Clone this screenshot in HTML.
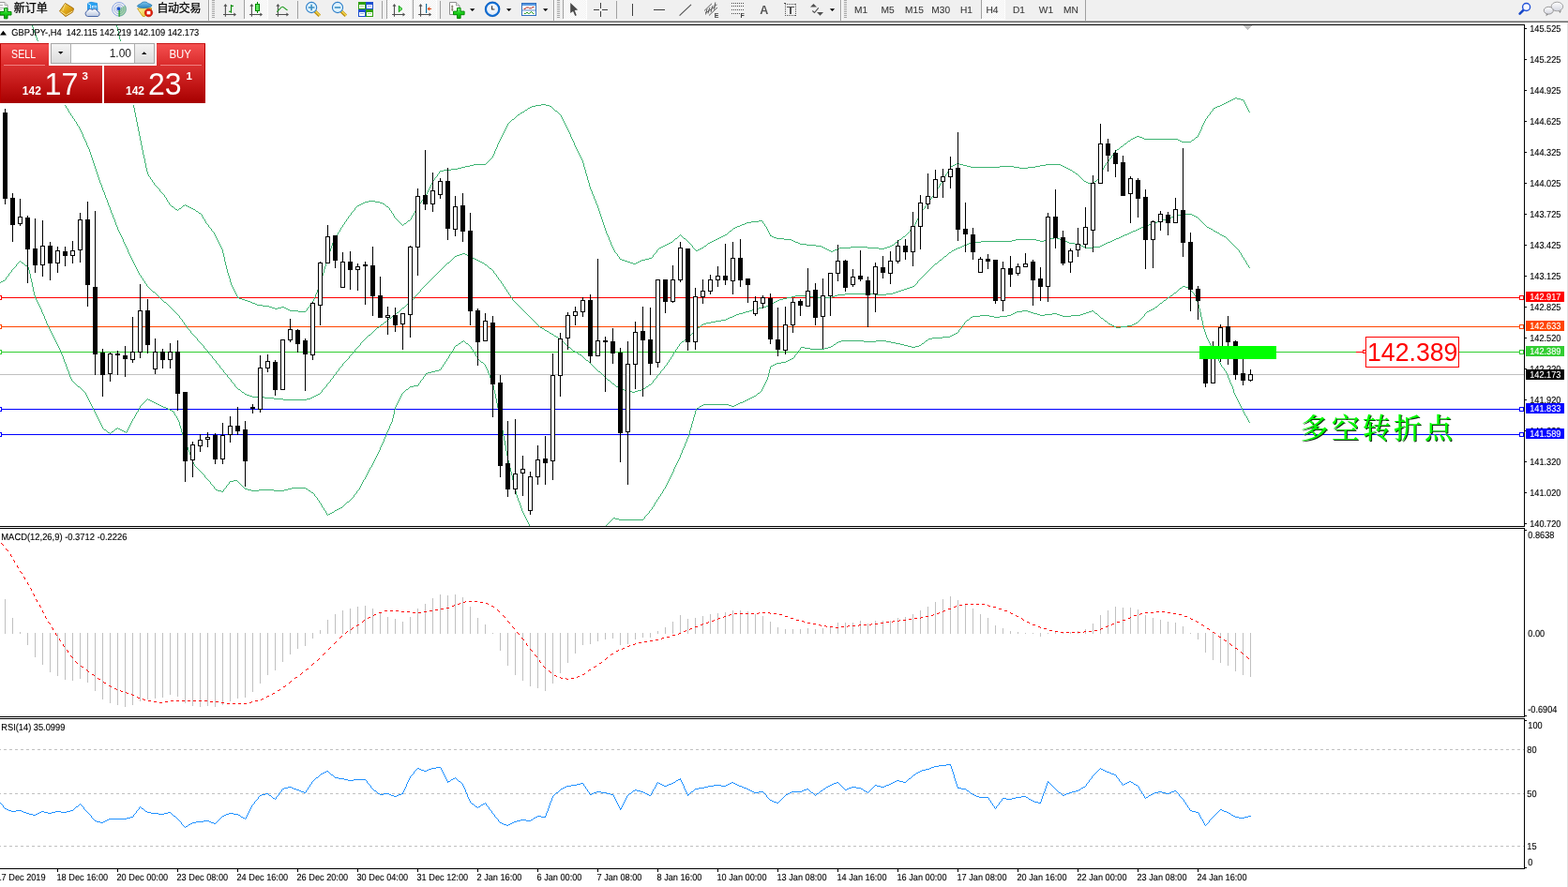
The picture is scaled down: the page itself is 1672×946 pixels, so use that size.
<!DOCTYPE html>
<html lang="zh-CN">
<head>
<meta charset="utf-8">
<title>GBPJPY-,H4</title>
<style>
html,body{margin:0;padding:0;background:#fff;overflow:hidden}
body{width:1672px;height:946px;font-family:"Liberation Sans","Noto Sans CJK SC",sans-serif}
svg{display:block;position:absolute;left:0;top:0}
svg text{font-family:"Liberation Sans","Noto Sans CJK SC",sans-serif}
</style>
</head>
<body>
<svg width="1672" height="946" viewBox="0 0 1672 946">
<defs>
<clipPath id="cmain"><rect x="0" y="27" width="1625" height="534"/></clipPath>
<clipPath id="cmacd"><rect x="0" y="564" width="1625" height="200"/></clipPath>
<clipPath id="crsi"><rect x="0" y="767" width="1625" height="159"/></clipPath>
</defs>
<rect x="0" y="0" width="1672" height="946" fill="#fff"/>
<g clip-path="url(#cmain)">
<g shape-rendering="crispEdges">
<rect x="0" y="399" width="1625" height="1" fill="#c0c0c0"/>
<rect x="0" y="317" width="1625" height="1" fill="#ff0000"/>
<rect x="-2.5" y="315.5" width="4" height="4" fill="#fff" stroke="#ff0000" stroke-width="1"/>
<rect x="1620.5" y="315.5" width="4" height="4" fill="#fff" stroke="#ff0000" stroke-width="1"/>
<rect x="0" y="348" width="1625" height="1" fill="#ff4500"/>
<rect x="-2.5" y="346.5" width="4" height="4" fill="#fff" stroke="#ff4500" stroke-width="1"/>
<rect x="1620.5" y="346.5" width="4" height="4" fill="#fff" stroke="#ff4500" stroke-width="1"/>
<rect x="0" y="375" width="1625" height="1" fill="#32cd32"/>
<rect x="-2.5" y="373.5" width="4" height="4" fill="#fff" stroke="#32cd32" stroke-width="1"/>
<rect x="1620.5" y="373.5" width="4" height="4" fill="#fff" stroke="#32cd32" stroke-width="1"/>
<rect x="0" y="436" width="1625" height="1" fill="#0000ff"/>
<rect x="-2.5" y="434.5" width="4" height="4" fill="#fff" stroke="#0000ff" stroke-width="1"/>
<rect x="1620.5" y="434.5" width="4" height="4" fill="#fff" stroke="#0000ff" stroke-width="1"/>
<rect x="0" y="463" width="1625" height="1" fill="#0000ff"/>
<rect x="-2.5" y="461.5" width="4" height="4" fill="#fff" stroke="#0000ff" stroke-width="1"/>
<rect x="1620.5" y="461.5" width="4" height="4" fill="#fff" stroke="#0000ff" stroke-width="1"/>
</g>
<path d="M124 27h1v2h-1zM125 29h1v4h-1zM126 33h1v5h-1zM127 38h1v4h-1zM128 42h1v5h-1zM129 47h1v5h-1zM130 52h1v5h-1zM131 57h1v4h-1zM132 61h1v5h-1zM133 66h1v5h-1zM134 71h1v5h-1zM135 76h1v5h-1zM136 81h1v5h-1zM137 86h1v5h-1zM138 91h1v4h-1zM139 95h1v5h-1zM140 100h1v5h-1zM141 105h1v5h-1zM142 110h1v5h-1zM143 115h1v5h-1zM144 120h1v5h-1zM145 125h1v5h-1zM146 130h1v5h-1zM147 135h1v5h-1zM148 140h1v5h-1zM149 145h1v5h-1zM150 150h1v5h-1zM151 155h1v5h-1zM152 160h1v5h-1zM153 165h1v4h-1zM154 169h1v5h-1zM155 174h1v5h-1zM156 179h1v4h-1zM157 183h1v3h-1zM158 186h1v2h-1zM159 188h1v1h-1zM160 189h1v2h-1zM161 191h1v1h-1zM162 192h1v2h-1zM163 194h1v1h-1zM164 195h1v2h-1zM165 197h1v1h-1zM166 198h1v1h-1zM167 199h1v1h-1zM168 200h1v1h-1zM169 201h1v1h-1zM170 202h1v2h-1zM171 204h1v1h-1zM172 205h1v1h-1zM173 206h1v1h-1zM174 207h1v1h-1zM175 208h1v2h-1zM176 210h1v1h-1zM177 211h1v2h-1zM178 213h1v2h-1zM179 215h1v1h-1zM180 216h1v2h-1zM181 218h1v1h-1zM182 219h1v1h-1zM183 220h2v1h-2zM185 221h1v1h-1zM186 222h1v1h-1zM187 223h2v1h-2zM189 224h1v1h-1zM190 223h1v1h-1zM191 222h2v1h-2zM193 221h1v1h-1zM194 220h1v1h-1zM195 219h2v1h-2zM197 218h1v1h-1zM198 219h2v1h-2zM200 220h2v1h-2zM202 221h2v1h-2zM204 222h2v1h-2zM206 223h2v1h-2zM208 224h1v1h-1zM209 225h2v1h-2zM211 226h1v1h-1zM212 227h2v1h-2zM214 228h1v1h-1zM215 229h1v2h-1zM216 231h1v2h-1zM217 233h1v1h-1zM218 234h1v2h-1zM219 236h1v2h-1zM220 238h1v1h-1zM221 239h1v1h-1zM222 240h1v2h-1zM223 242h1v1h-1zM224 243h1v1h-1zM225 244h1v2h-1zM226 246h1v1h-1zM227 247h1v1h-1zM228 248h1v2h-1zM229 250h1v2h-1zM230 252h1v2h-1zM231 254h1v2h-1zM232 256h1v2h-1zM233 258h1v2h-1zM234 260h1v2h-1zM235 262h1v2h-1zM236 264h1v2h-1zM237 266h1v4h-1zM238 270h1v4h-1zM239 274h1v5h-1zM240 279h1v4h-1zM241 283h1v4h-1zM242 287h1v4h-1zM243 291h1v3h-1zM244 294h1v3h-1zM245 297h1v4h-1zM246 301h1v3h-1zM247 304h1v2h-1zM248 306h1v2h-1zM249 308h1v2h-1zM250 310h1v2h-1zM251 312h1v2h-1zM252 314h1v2h-1zM253 316h1v2h-1zM254 317h1v1h-1zM255 318h3v1h-3zM258 319h3v1h-3zM261 320h3v1h-3zM264 321h3v1h-3zM267 322h2v1h-2zM269 323h3v1h-3zM272 324h2v1h-2zM274 325h6v1h-6zM280 326h7v1h-7zM287 327h3v1h-3zM290 328h3v1h-3zM293 329h3v1h-3zM296 328h4v1h-4zM300 327h3v1h-3zM303 328h2v1h-2zM305 329h2v1h-2zM307 330h2v1h-2zM309 331h9v1h-9zM318 332h8v1h-8zM326 331h1v1h-1zM327 329h1v2h-1zM328 328h1v1h-1zM329 327h1v1h-1zM330 325h1v2h-1zM331 324h1v1h-1zM332 323h1v1h-1zM333 321h1v2h-1zM334 319h1v2h-1zM335 317h1v2h-1zM336 314h1v3h-1zM337 312h1v2h-1zM338 309h1v3h-1zM339 307h1v2h-1zM340 304h1v3h-1zM341 301h1v3h-1zM342 297h1v4h-1zM343 294h1v3h-1zM344 291h1v3h-1zM345 287h1v4h-1zM346 284h1v3h-1zM347 281h1v3h-1zM348 278h1v3h-1zM349 275h1v3h-1zM350 272h1v3h-1zM351 268h1v4h-1zM352 265h1v3h-1zM353 262h1v3h-1zM354 259h1v3h-1zM355 257h1v2h-1zM356 255h1v2h-1zM357 253h1v2h-1zM358 252h1v1h-1zM359 250h1v2h-1zM360 248h1v2h-1zM361 247h1v1h-1zM362 245h1v2h-1zM363 243h1v2h-1zM364 242h1v1h-1zM365 240h1v2h-1zM366 239h1v1h-1zM367 237h1v2h-1zM368 236h1v1h-1zM369 234h1v2h-1zM370 233h1v1h-1zM371 231h1v2h-1zM372 230h1v1h-1zM373 229h1v1h-1zM374 227h1v2h-1zM375 226h1v1h-1zM376 225h1v1h-1zM377 224h1v1h-1zM378 222h1v2h-1zM379 221h1v1h-1zM380 220h1v1h-1zM381 219h2v1h-2zM383 218h2v1h-2zM385 217h2v1h-2zM387 216h2v1h-2zM389 215h4v1h-4zM393 214h7v1h-7zM400 215h5v1h-5zM405 216h3v1h-3zM408 217h2v1h-2zM410 218h1v1h-1zM411 219h1v1h-1zM412 220h2v1h-2zM414 221h1v1h-1zM415 222h1v2h-1zM416 224h1v1h-1zM417 225h1v2h-1zM418 227h1v1h-1zM419 228h1v2h-1zM420 230h1v2h-1zM421 232h1v1h-1zM422 233h1v1h-1zM423 234h1v1h-1zM424 235h1v1h-1zM425 236h1v1h-1zM426 237h1v1h-1zM427 238h1v1h-1zM428 239h1v1h-1zM429 240h1v1h-1zM430 239h1v1h-1zM431 238h2v1h-2zM433 237h1v1h-1zM434 236h1v1h-1zM435 235h2v1h-2zM437 234h1v1h-1zM438 232h1v2h-1zM439 230h1v2h-1zM440 229h1v1h-1zM441 227h1v2h-1zM442 225h1v2h-1zM443 223h1v2h-1zM444 222h1v1h-1zM445 220h1v2h-1zM446 219h1v1h-1zM447 217h1v2h-1zM448 216h1v1h-1zM449 214h1v2h-1zM450 213h1v1h-1zM451 211h1v2h-1zM452 210h1v1h-1zM453 208h1v2h-1zM454 207h1v1h-1zM455 205h1v2h-1zM456 203h1v2h-1zM457 201h1v2h-1zM458 199h1v2h-1zM459 197h1v2h-1zM460 195h1v2h-1zM461 193h1v2h-1zM462 192h1v1h-1zM463 190h1v2h-1zM464 189h1v1h-1zM465 188h1v1h-1zM466 186h1v2h-1zM467 185h1v1h-1zM468 183h1v2h-1zM469 182h4v1h-4zM473 181h8v1h-8zM481 180h7v1h-7zM488 179h4v1h-4zM492 178h4v1h-4zM496 177h5v1h-5zM501 176h4v1h-4zM505 175h13v1h-13zM518 174h1v1h-1zM519 173h1v1h-1zM520 172h1v1h-1zM521 171h1v1h-1zM522 170h1v1h-1zM523 169h1v1h-1zM524 168h1v1h-1zM525 166h1v2h-1zM526 164h1v2h-1zM527 161h1v3h-1zM528 159h1v2h-1zM529 157h1v2h-1zM530 154h1v3h-1zM531 152h1v2h-1zM532 150h1v2h-1zM533 148h1v2h-1zM534 146h1v2h-1zM535 144h1v2h-1zM536 142h1v2h-1zM537 140h1v2h-1zM538 138h1v2h-1zM539 136h1v2h-1zM540 134h1v2h-1zM541 132h1v2h-1zM542 131h1v1h-1zM543 130h1v1h-1zM544 129h1v1h-1zM545 128h1v1h-1zM546 127h2v1h-2zM548 126h1v1h-1zM549 125h1v1h-1zM550 124h1v1h-1zM551 123h1v1h-1zM552 122h2v1h-2zM554 121h1v1h-1zM555 120h2v1h-2zM557 119h2v1h-2zM559 118h1v1h-1zM560 117h2v1h-2zM562 116h1v1h-1zM563 115h2v1h-2zM565 114h2v1h-2zM567 113h4v1h-4zM571 112h6v1h-6zM577 111h5v1h-5zM582 112h4v1h-4zM586 113h2v1h-2zM588 114h1v1h-1zM589 115h1v1h-1zM590 116h1v1h-1zM591 117h1v1h-1zM592 118h2v1h-2zM594 119h1v1h-1zM595 120h1v1h-1zM596 121h1v1h-1zM597 122h1v1h-1zM598 123h1v2h-1zM599 125h1v2h-1zM600 127h1v2h-1zM601 129h1v2h-1zM602 131h1v2h-1zM603 133h1v2h-1zM604 135h1v2h-1zM605 137h1v2h-1zM606 139h1v2h-1zM607 141h1v2h-1zM608 143h1v3h-1zM609 146h1v2h-1zM610 148h1v2h-1zM611 150h1v2h-1zM612 152h1v3h-1zM613 155h1v2h-1zM614 157h1v2h-1zM615 159h1v2h-1zM616 161h1v2h-1zM617 163h1v2h-1zM618 165h1v2h-1zM619 167h1v2h-1zM620 169h1v2h-1zM621 171h1v3h-1zM622 174h1v4h-1zM623 178h1v3h-1zM624 181h1v4h-1zM625 185h1v3h-1zM626 188h1v4h-1zM627 192h1v3h-1zM628 195h1v4h-1zM629 199h1v3h-1zM630 202h1v2h-1zM631 204h1v3h-1zM632 207h1v2h-1zM633 209h1v3h-1zM634 212h1v2h-1zM635 214h1v3h-1zM636 217h1v2h-1zM637 219h1v3h-1zM638 222h1v3h-1zM639 225h1v3h-1zM640 228h1v3h-1zM641 231h1v3h-1zM642 234h1v3h-1zM643 237h1v3h-1zM644 240h1v3h-1zM645 243h1v3h-1zM646 246h1v3h-1zM647 249h1v2h-1zM648 251h1v2h-1zM649 253h1v3h-1zM650 256h1v2h-1zM651 258h1v3h-1zM652 261h1v2h-1zM653 263h1v2h-1zM654 265h1v2h-1zM655 267h1v2h-1zM656 269h1v1h-1zM657 270h1v1h-1zM658 271h1v2h-1zM659 273h1v1h-1zM660 274h1v2h-1zM661 276h2v1h-2zM663 277h3v1h-3zM666 278h3v1h-3zM669 279h3v1h-3zM672 280h3v1h-3zM675 281h3v1h-3zM678 280h2v1h-2zM680 279h2v1h-2zM682 278h2v1h-2zM684 277h4v1h-4zM688 276h4v1h-4zM692 275h3v1h-3zM695 274h1v1h-1zM696 272h1v2h-1zM697 271h1v1h-1zM698 270h1v1h-1zM699 269h1v1h-1zM700 267h1v2h-1zM701 266h1v1h-1zM702 265h1v1h-1zM703 264h2v1h-2zM705 263h2v1h-2zM707 262h2v1h-2zM709 261h2v1h-2zM711 260h2v1h-2zM713 259h2v1h-2zM715 258h2v1h-2zM717 257h1v1h-1zM718 256h1v1h-1zM719 255h1v1h-1zM720 254h2v1h-2zM722 253h1v1h-1zM723 252h1v1h-1zM724 251h1v1h-1zM725 250h1v1h-1zM726 251h1v1h-1zM727 252h1v1h-1zM728 253h1v1h-1zM729 254h2v1h-2zM731 255h1v1h-1zM732 256h1v1h-1zM733 257h1v1h-1zM734 258h1v1h-1zM735 259h1v1h-1zM736 260h1v1h-1zM737 261h1v1h-1zM738 262h1v2h-1zM739 264h1v1h-1zM740 265h1v1h-1zM741 266h1v1h-1zM742 267h2v1h-2zM744 266h2v1h-2zM746 265h2v1h-2zM748 264h2v1h-2zM750 263h1v1h-1zM751 262h2v1h-2zM753 261h1v1h-1zM754 260h1v1h-1zM755 259h2v1h-2zM757 258h2v1h-2zM759 257h2v1h-2zM761 256h2v1h-2zM763 255h2v1h-2zM765 254h2v1h-2zM767 253h2v1h-2zM769 252h2v1h-2zM771 251h2v1h-2zM773 250h2v1h-2zM775 249h1v1h-1zM776 248h1v1h-1zM777 247h1v1h-1zM778 246h2v1h-2zM780 245h1v1h-1zM781 244h1v1h-1zM782 243h2v1h-2zM784 242h2v1h-2zM786 241h3v1h-3zM789 240h2v1h-2zM791 239h3v1h-3zM794 238h2v1h-2zM796 237h5v1h-5zM801 236h8v1h-8zM809 235h4v1h-4zM813 236h1v2h-1zM814 238h1v1h-1zM815 239h1v2h-1zM816 241h1v1h-1zM817 242h1v2h-1zM818 244h1v2h-1zM819 246h1v2h-1zM820 248h1v2h-1zM821 250h1v2h-1zM822 251h1v1h-1zM823 252h2v1h-2zM825 253h3v1h-3zM828 254h8v1h-8zM836 255h8v1h-8zM844 256h2v1h-2zM846 257h2v1h-2zM848 258h3v1h-3zM851 259h2v1h-2zM853 260h7v1h-7zM860 261h10v1h-10zM870 262h6v1h-6zM876 263h2v1h-2zM878 264h2v1h-2zM880 265h2v1h-2zM882 266h2v1h-2zM884 267h2v1h-2zM886 268h2v1h-2zM888 267h2v1h-2zM890 266h3v1h-3zM893 265h2v1h-2zM895 264h12v1h-12zM907 263h18v1h-18zM925 264h12v1h-12zM937 265h6v1h-6zM943 264h3v1h-3zM946 263h3v1h-3zM949 262h2v1h-2zM951 261h2v1h-2zM953 260h1v1h-1zM954 259h1v1h-1zM955 258h2v1h-2zM957 257h1v1h-1zM958 256h1v1h-1zM959 255h2v1h-2zM961 254h1v1h-1zM962 253h1v1h-1zM963 252h2v1h-2zM965 251h1v1h-1zM966 250h1v1h-1zM967 249h1v1h-1zM968 248h1v1h-1zM969 247h1v1h-1zM970 245h1v2h-1zM971 244h1v1h-1zM972 243h1v1h-1zM973 242h1v1h-1zM974 241h1v1h-1zM975 239h1v2h-1zM976 237h1v2h-1zM977 235h1v2h-1zM978 233h1v2h-1zM979 231h1v2h-1zM980 229h1v2h-1zM981 227h1v2h-1zM982 226h1v1h-1zM983 224h1v2h-1zM984 223h1v1h-1zM985 222h1v1h-1zM986 220h1v2h-1zM987 219h1v1h-1zM988 218h1v1h-1zM989 216h1v2h-1zM990 215h1v1h-1zM991 213h1v2h-1zM992 212h1v1h-1zM993 210h1v2h-1zM994 209h1v1h-1zM995 207h1v2h-1zM996 206h1v1h-1zM997 204h1v2h-1zM998 203h1v1h-1zM999 201h1v2h-1zM1000 200h1v1h-1zM1001 198h1v2h-1zM1002 196h1v2h-1zM1003 195h1v1h-1zM1004 193h1v2h-1zM1005 191h1v2h-1zM1006 190h1v1h-1zM1007 188h1v2h-1zM1008 186h1v2h-1zM1009 185h1v1h-1zM1010 183h1v2h-1zM1011 182h1v1h-1zM1012 180h1v2h-1zM1013 178h1v2h-1zM1014 177h2v1h-2zM1016 176h2v1h-2zM1018 175h2v1h-2zM1020 174h3v1h-3zM1023 175h4v1h-4zM1027 176h4v1h-4zM1031 177h4v1h-4zM1035 178h31v1h-31zM1066 177h15v1h-15zM1081 178h6v1h-6zM1087 179h9v1h-9zM1096 178h8v1h-8zM1104 177h5v1h-5zM1109 176h6v1h-6zM1115 175h16v1h-16zM1131 176h2v1h-2zM1133 177h2v1h-2zM1135 178h2v1h-2zM1137 179h2v1h-2zM1139 180h2v1h-2zM1141 181h2v1h-2zM1143 182h1v1h-1zM1144 183h2v1h-2zM1146 184h1v1h-1zM1147 185h2v1h-2zM1149 186h1v1h-1zM1150 187h1v1h-1zM1151 188h1v1h-1zM1152 189h1v1h-1zM1153 190h1v1h-1zM1154 191h1v1h-1zM1155 192h1v1h-1zM1156 193h2v1h-2zM1158 194h2v1h-2zM1160 195h3v1h-3zM1163 196h2v1h-2zM1165 195h1v1h-1zM1166 194h1v1h-1zM1167 193h2v1h-2zM1169 192h1v1h-1zM1170 191h1v1h-1zM1171 189h1v2h-1zM1172 187h1v2h-1zM1173 185h1v2h-1zM1174 183h1v2h-1zM1175 181h1v2h-1zM1176 179h1v2h-1zM1177 177h1v2h-1zM1178 176h1v1h-1zM1179 174h1v2h-1zM1180 173h1v1h-1zM1181 172h1v1h-1zM1182 170h1v2h-1zM1183 169h1v1h-1zM1184 168h1v1h-1zM1185 166h1v2h-1zM1186 165h1v1h-1zM1187 164h1v1h-1zM1188 162h1v2h-1zM1189 161h1v1h-1zM1190 160h1v1h-1zM1191 159h2v1h-2zM1193 158h1v1h-1zM1194 157h1v1h-1zM1195 156h2v1h-2zM1197 155h1v1h-1zM1198 154h1v1h-1zM1199 153h2v1h-2zM1201 152h1v1h-1zM1202 151h1v1h-1zM1203 150h2v1h-2zM1205 149h1v1h-1zM1206 148h2v1h-2zM1208 147h2v1h-2zM1210 146h2v1h-2zM1212 145h3v1h-3zM1215 146h3v1h-3zM1218 147h2v1h-2zM1220 148h36v1h-36zM1256 149h2v1h-2zM1258 150h2v1h-2zM1260 151h10v1h-10zM1270 150h1v1h-1zM1271 149h2v1h-2zM1273 148h1v1h-1zM1274 147h1v1h-1zM1275 146h2v1h-2zM1277 144h1v2h-1zM1278 142h1v2h-1zM1279 140h1v2h-1zM1280 138h1v2h-1zM1281 135h1v3h-1zM1282 133h1v2h-1zM1283 131h1v2h-1zM1284 129h1v2h-1zM1285 127h1v2h-1zM1286 126h1v1h-1zM1287 124h1v2h-1zM1288 123h1v1h-1zM1289 122h1v1h-1zM1290 120h1v2h-1zM1291 119h1v1h-1zM1292 118h1v1h-1zM1293 116h1v2h-1zM1294 115h2v1h-2zM1296 114h2v1h-2zM1298 113h3v1h-3zM1301 112h2v1h-2zM1303 111h2v1h-2zM1305 110h2v1h-2zM1307 109h2v1h-2zM1309 108h2v1h-2zM1311 107h2v1h-2zM1313 106h2v1h-2zM1315 105h2v1h-2zM1317 104h2v1h-2zM1319 105h4v1h-4zM1323 106h3v1h-3zM1326 107h1v2h-1zM1327 109h1v2h-1zM1328 111h1v2h-1zM1329 113h1v2h-1zM1330 115h1v2h-1zM1331 117h1v2h-1zM1332 119h1v1h-1z" fill="#3cb371" shape-rendering="crispEdges"/>
<path d="M34 27h1v2h-1zM35 29h1v3h-1zM36 32h1v3h-1zM37 35h1v2h-1zM38 37h1v3h-1zM39 40h1v3h-1zM40 43h1v3h-1zM41 46h1v2h-1zM42 48h1v2h-1zM43 50h1v3h-1zM44 53h1v2h-1zM45 55h1v2h-1zM46 57h1v3h-1zM47 60h1v2h-1zM48 62h1v2h-1zM49 64h1v3h-1zM50 67h1v2h-1zM51 69h1v2h-1zM52 71h1v3h-1zM53 74h1v2h-1zM54 76h1v2h-1zM55 78h1v3h-1zM56 81h1v2h-1zM57 83h1v3h-1zM58 86h1v2h-1zM59 88h1v2h-1zM60 90h1v3h-1zM61 93h1v2h-1zM62 95h1v2h-1zM63 97h1v3h-1zM64 100h1v2h-1zM65 102h1v2h-1zM66 104h1v3h-1zM67 107h1v2h-1zM68 109h1v2h-1zM69 111h1v2h-1zM70 113h1v2h-1zM71 115h1v1h-1zM72 116h1v2h-1zM73 118h1v2h-1zM74 120h1v1h-1zM75 121h1v2h-1zM76 123h1v1h-1zM77 124h1v2h-1zM78 126h1v1h-1zM79 127h1v2h-1zM80 129h1v1h-1zM81 130h1v2h-1zM82 132h1v2h-1zM83 134h1v1h-1zM84 135h1v2h-1zM85 137h1v2h-1zM86 139h1v2h-1zM87 141h1v2h-1zM88 143h1v3h-1zM89 146h1v2h-1zM90 148h1v2h-1zM91 150h1v2h-1zM92 152h1v3h-1zM93 155h1v2h-1zM94 157h1v2h-1zM95 159h1v3h-1zM96 162h1v3h-1zM97 165h1v3h-1zM98 168h1v3h-1zM99 171h1v3h-1zM100 174h1v3h-1zM101 177h1v3h-1zM102 180h1v3h-1zM103 183h1v3h-1zM104 186h1v3h-1zM105 189h1v3h-1zM106 192h1v3h-1zM107 195h1v2h-1zM108 197h1v3h-1zM109 200h1v3h-1zM110 203h1v2h-1zM111 205h1v3h-1zM112 208h1v3h-1zM113 211h1v2h-1zM114 213h1v3h-1zM115 216h1v3h-1zM116 219h1v2h-1zM117 221h1v3h-1zM118 224h1v3h-1zM119 227h1v2h-1zM120 229h1v3h-1zM121 232h1v2h-1zM122 234h1v3h-1zM123 237h1v3h-1zM124 240h1v2h-1zM125 242h1v3h-1zM126 245h1v2h-1zM127 247h1v2h-1zM128 249h1v2h-1zM129 251h1v2h-1zM130 253h1v2h-1zM131 255h1v3h-1zM132 258h1v2h-1zM133 260h1v2h-1zM134 262h1v2h-1zM135 264h1v2h-1zM136 266h1v3h-1zM137 269h1v2h-1zM138 271h1v2h-1zM139 273h1v2h-1zM140 275h1v2h-1zM141 277h1v2h-1zM142 279h1v2h-1zM143 281h1v2h-1zM144 283h1v2h-1zM145 285h1v2h-1zM146 287h1v2h-1zM147 289h1v2h-1zM148 291h1v2h-1zM149 293h1v1h-1zM150 294h1v2h-1zM151 296h1v1h-1zM152 297h1v2h-1zM153 299h1v1h-1zM154 300h1v2h-1zM155 302h1v1h-1zM156 303h1v2h-1zM157 305h1v1h-1zM158 306h1v1h-1zM159 307h1v1h-1zM160 308h1v1h-1zM161 309h1v1h-1zM162 310h1v1h-1zM163 311h2v1h-2zM165 312h1v1h-1zM166 313h1v1h-1zM167 314h1v1h-1zM168 315h1v1h-1zM169 316h1v1h-1zM170 317h1v1h-1zM171 318h1v1h-1zM172 319h1v1h-1zM173 320h1v1h-1zM174 321h1v1h-1zM175 322h2v1h-2zM177 323h1v1h-1zM178 324h1v1h-1zM179 325h1v1h-1zM180 326h1v1h-1zM181 327h1v1h-1zM182 328h1v1h-1zM183 329h1v1h-1zM184 330h1v1h-1zM185 331h1v1h-1zM186 332h1v1h-1zM187 333h1v1h-1zM188 334h1v1h-1zM189 335h1v1h-1zM190 336h1v1h-1zM191 337h1v2h-1zM192 339h1v1h-1zM193 340h1v1h-1zM194 341h1v2h-1zM195 343h1v1h-1zM196 344h1v2h-1zM197 346h1v1h-1zM198 347h1v1h-1zM199 348h1v2h-1zM200 350h1v1h-1zM201 351h1v1h-1zM202 352h1v1h-1zM203 353h1v2h-1zM204 355h1v1h-1zM205 356h1v1h-1zM206 357h1v1h-1zM207 358h1v1h-1zM208 359h1v1h-1zM209 360h1v1h-1zM210 361h1v2h-1zM211 363h1v1h-1zM212 364h1v1h-1zM213 365h1v1h-1zM214 366h1v1h-1zM215 367h1v1h-1zM216 368h1v1h-1zM217 369h1v2h-1zM218 371h1v1h-1zM219 372h1v1h-1zM220 373h1v1h-1zM221 374h1v1h-1zM222 375h1v2h-1zM223 377h1v1h-1zM224 378h1v1h-1zM225 379h1v1h-1zM226 380h1v2h-1zM227 382h1v1h-1zM228 383h1v1h-1zM229 384h1v1h-1zM230 385h1v2h-1zM231 387h1v1h-1zM232 388h1v1h-1zM233 389h1v1h-1zM234 390h1v2h-1zM235 392h1v1h-1zM236 393h1v1h-1zM237 394h1v1h-1zM238 395h1v2h-1zM239 397h1v1h-1zM240 398h1v1h-1zM241 399h1v1h-1zM242 400h1v2h-1zM243 402h1v1h-1zM244 403h1v1h-1zM245 404h1v1h-1zM246 405h1v2h-1zM247 407h1v1h-1zM248 408h1v1h-1zM249 409h1v1h-1zM250 410h1v2h-1zM251 412h1v1h-1zM252 413h1v1h-1zM253 414h1v1h-1zM254 415h2v1h-2zM256 416h1v1h-1zM257 417h1v1h-1zM258 418h2v1h-2zM260 419h1v1h-1zM261 420h2v1h-2zM263 421h3v1h-3zM266 422h3v1h-3zM269 423h13v1h-13zM282 424h10v1h-10zM292 425h10v1h-10zM302 426h25v1h-25zM327 425h4v1h-4zM331 424h2v1h-2zM333 423h2v1h-2zM335 422h2v1h-2zM337 421h2v1h-2zM339 420h2v1h-2zM341 419h1v1h-1zM342 418h1v1h-1zM343 416h1v2h-1zM344 415h1v1h-1zM345 414h1v1h-1zM346 413h1v1h-1zM347 412h1v1h-1zM348 410h1v2h-1zM349 409h1v1h-1zM350 408h1v1h-1zM351 407h1v1h-1zM352 405h1v2h-1zM353 404h1v1h-1zM354 403h1v1h-1zM355 401h1v2h-1zM356 400h1v1h-1zM357 399h1v1h-1zM358 397h1v2h-1zM359 396h1v1h-1zM360 395h1v1h-1zM361 393h1v2h-1zM362 392h1v1h-1zM363 391h1v1h-1zM364 390h1v1h-1zM365 388h1v2h-1zM366 387h1v1h-1zM367 386h1v1h-1zM368 385h1v1h-1zM369 384h1v1h-1zM370 383h1v1h-1zM371 382h1v1h-1zM372 380h1v2h-1zM373 379h1v1h-1zM374 378h1v1h-1zM375 377h1v1h-1zM376 376h1v1h-1zM377 375h1v1h-1zM378 373h1v2h-1zM379 372h1v1h-1zM380 371h1v1h-1zM381 370h1v1h-1zM382 369h1v1h-1zM383 368h1v1h-1zM384 366h1v2h-1zM385 365h1v1h-1zM386 364h1v1h-1zM387 363h1v1h-1zM388 362h1v1h-1zM389 361h1v1h-1zM390 360h1v1h-1zM391 359h1v1h-1zM392 358h1v1h-1zM393 357h2v1h-2zM395 356h1v1h-1zM396 355h1v1h-1zM397 354h1v1h-1zM398 353h1v1h-1zM399 352h1v1h-1zM400 351h1v1h-1zM401 350h1v1h-1zM402 349h2v1h-2zM404 348h1v1h-1zM405 347h1v1h-1zM406 346h2v1h-2zM408 345h1v1h-1zM409 344h1v1h-1zM410 343h2v1h-2zM412 342h1v1h-1zM413 341h1v1h-1zM414 340h1v1h-1zM415 339h2v1h-2zM417 338h1v1h-1zM418 337h1v1h-1zM419 336h2v1h-2zM421 335h1v1h-1zM422 334h1v1h-1zM423 333h2v1h-2zM425 332h1v1h-1zM426 331h1v1h-1zM427 330h1v1h-1zM428 329h1v1h-1zM429 328h2v1h-2zM431 327h1v1h-1zM432 326h1v1h-1zM433 325h1v1h-1zM434 324h2v1h-2zM436 323h1v1h-1zM437 322h1v1h-1zM438 321h1v1h-1zM439 320h1v1h-1zM440 319h1v1h-1zM441 317h1v2h-1zM442 316h1v1h-1zM443 315h1v1h-1zM444 314h1v1h-1zM445 313h1v1h-1zM446 312h1v1h-1zM447 311h1v1h-1zM448 309h1v2h-1zM449 308h1v1h-1zM450 307h1v1h-1zM451 306h1v1h-1zM452 305h1v1h-1zM453 304h1v1h-1zM454 303h1v1h-1zM455 302h1v1h-1zM456 301h1v1h-1zM457 300h1v1h-1zM458 299h1v1h-1zM459 298h1v1h-1zM460 297h1v1h-1zM461 296h1v1h-1zM462 295h1v1h-1zM463 294h1v1h-1zM464 293h1v1h-1zM465 292h1v1h-1zM466 291h1v1h-1zM467 290h1v1h-1zM468 289h1v1h-1zM469 288h1v1h-1zM470 287h1v1h-1zM471 286h1v1h-1zM472 285h1v1h-1zM473 284h1v1h-1zM474 283h1v1h-1zM475 282h1v1h-1zM476 281h1v1h-1zM477 280h2v1h-2zM479 279h1v1h-1zM480 278h1v1h-1zM481 277h1v1h-1zM482 276h1v1h-1zM483 275h1v1h-1zM484 274h1v1h-1zM485 273h2v1h-2zM487 272h3v1h-3zM490 271h3v1h-3zM493 270h3v1h-3zM496 271h2v1h-2zM498 272h2v1h-2zM500 273h2v1h-2zM502 274h2v1h-2zM504 275h2v1h-2zM506 276h2v1h-2zM508 277h2v1h-2zM510 278h2v1h-2zM512 279h2v1h-2zM514 280h2v1h-2zM516 281h1v1h-1zM517 282h2v1h-2zM519 283h1v1h-1zM520 284h1v1h-1zM521 285h1v1h-1zM522 286h2v1h-2zM524 287h1v1h-1zM525 288h1v1h-1zM526 289h1v2h-1zM527 291h1v1h-1zM528 292h1v1h-1zM529 293h1v2h-1zM530 295h1v1h-1zM531 296h1v2h-1zM532 298h1v1h-1zM533 299h1v1h-1zM534 300h1v2h-1zM535 302h1v1h-1zM536 303h1v2h-1zM537 305h1v1h-1zM538 306h1v2h-1zM539 308h1v1h-1zM540 309h1v2h-1zM541 311h1v1h-1zM542 312h1v2h-1zM543 314h1v1h-1zM544 315h1v2h-1zM545 317h1v1h-1zM546 318h1v2h-1zM547 320h1v1h-1zM548 321h1v1h-1zM549 322h1v1h-1zM550 323h1v1h-1zM551 324h1v1h-1zM552 325h1v1h-1zM553 326h1v1h-1zM554 327h1v1h-1zM555 328h1v1h-1zM556 329h1v1h-1zM557 330h1v1h-1zM558 331h1v1h-1zM559 332h1v1h-1zM560 333h1v1h-1zM561 334h1v1h-1zM562 335h1v1h-1zM563 336h1v1h-1zM564 337h1v1h-1zM565 338h1v1h-1zM566 339h1v1h-1zM567 340h1v1h-1zM568 341h1v1h-1zM569 342h1v1h-1zM570 343h1v1h-1zM571 344h1v1h-1zM572 345h1v1h-1zM573 346h1v1h-1zM574 347h1v1h-1zM575 348h1v1h-1zM576 349h2v1h-2zM578 350h2v1h-2zM580 351h1v1h-1zM581 352h2v1h-2zM583 353h2v1h-2zM585 354h1v1h-1zM586 355h2v1h-2zM588 356h2v1h-2zM590 357h1v1h-1zM591 358h2v1h-2zM593 359h2v1h-2zM595 360h1v1h-1zM596 361h1v1h-1zM597 362h1v1h-1zM598 363h2v1h-2zM600 364h1v1h-1zM601 365h1v1h-1zM602 366h1v1h-1zM603 367h1v1h-1zM604 368h1v1h-1zM605 369h1v1h-1zM606 370h2v1h-2zM608 371h1v1h-1zM609 372h1v1h-1zM610 373h1v1h-1zM611 374h2v1h-2zM613 375h2v1h-2zM615 376h1v1h-1zM616 377h2v1h-2zM618 378h2v1h-2zM620 379h1v1h-1zM621 380h1v1h-1zM622 381h1v1h-1zM623 382h1v1h-1zM624 383h1v1h-1zM625 384h2v1h-2zM627 385h1v1h-1zM628 386h1v1h-1zM629 387h1v1h-1zM630 388h1v1h-1zM631 389h1v1h-1zM632 390h1v1h-1zM633 391h1v1h-1zM634 392h1v1h-1zM635 393h1v1h-1zM636 394h1v1h-1zM637 395h1v1h-1zM638 396h2v1h-2zM640 397h1v1h-1zM641 398h1v1h-1zM642 399h1v1h-1zM643 400h1v1h-1zM644 401h1v1h-1zM645 402h1v1h-1zM646 403h1v1h-1zM647 404h1v1h-1zM648 405h2v1h-2zM650 406h1v1h-1zM651 407h1v1h-1zM652 408h1v1h-1zM653 409h2v1h-2zM655 410h1v1h-1zM656 411h1v1h-1zM657 412h2v1h-2zM659 413h1v1h-1zM660 414h2v1h-2zM662 415h4v1h-4zM666 416h4v1h-4zM670 417h4v1h-4zM674 418h3v1h-3zM677 417h3v1h-3zM680 416h4v1h-4zM684 415h2v1h-2zM686 414h2v1h-2zM688 413h1v1h-1zM689 412h2v1h-2zM691 411h1v1h-1zM692 410h2v1h-2zM694 409h1v1h-1zM695 408h1v1h-1zM696 406h1v2h-1zM697 405h1v1h-1zM698 404h1v1h-1zM699 403h1v1h-1zM700 401h1v2h-1zM701 400h1v1h-1zM702 399h1v1h-1zM703 398h1v1h-1zM704 396h1v2h-1zM705 395h1v1h-1zM706 394h1v1h-1zM707 393h1v1h-1zM708 391h1v2h-1zM709 390h1v1h-1zM710 389h1v1h-1zM711 387h1v2h-1zM712 386h1v1h-1zM713 384h1v2h-1zM714 383h1v1h-1zM715 381h1v2h-1zM716 380h1v1h-1zM717 378h1v2h-1zM718 376h1v2h-1zM719 375h1v1h-1zM720 373h1v2h-1zM721 372h1v1h-1zM722 370h1v2h-1zM723 369h1v1h-1zM724 367h1v2h-1zM725 366h1v1h-1zM726 365h1v1h-1zM727 364h2v1h-2zM729 363h1v1h-1zM730 362h1v1h-1zM731 361h2v1h-2zM733 360h1v1h-1zM734 359h1v1h-1zM735 358h1v1h-1zM736 357h1v1h-1zM737 356h1v1h-1zM738 355h1v1h-1zM739 354h1v1h-1zM740 353h1v1h-1zM741 352h1v1h-1zM742 351h1v1h-1zM743 350h1v1h-1zM744 349h2v1h-2zM746 348h1v1h-1zM747 347h1v1h-1zM748 346h2v1h-2zM750 345h3v1h-3zM753 344h5v1h-5zM758 343h5v1h-5zM763 342h6v1h-6zM769 341h5v1h-5zM774 340h2v1h-2zM776 339h2v1h-2zM778 338h3v1h-3zM781 337h2v1h-2zM783 336h2v1h-2zM785 335h3v1h-3zM788 334h4v1h-4zM792 333h3v1h-3zM795 332h4v1h-4zM799 331h3v1h-3zM802 330h4v1h-4zM806 329h3v1h-3zM809 328h4v1h-4zM813 327h4v1h-4zM817 326h2v1h-2zM819 325h2v1h-2zM821 324h2v1h-2zM823 323h2v1h-2zM825 322h2v1h-2zM827 321h2v1h-2zM829 320h2v1h-2zM831 319h4v1h-4zM835 318h4v1h-4zM839 317h5v1h-5zM844 316h4v1h-4zM848 315h16v1h-16zM864 316h8v1h-8zM872 317h15v1h-15zM887 316h3v1h-3zM890 315h3v1h-3zM893 314h8v1h-8zM901 313h32v1h-32zM933 314h12v1h-12zM945 313h7v1h-7zM952 312h3v1h-3zM955 311h3v1h-3zM958 310h3v1h-3zM961 309h3v1h-3zM964 308h3v1h-3zM967 307h3v1h-3zM970 306h3v1h-3zM973 305h2v1h-2zM975 304h1v1h-1zM976 303h1v1h-1zM977 302h1v1h-1zM978 300h1v2h-1zM979 299h1v1h-1zM980 298h1v1h-1zM981 297h1v1h-1zM982 296h1v1h-1zM983 295h1v1h-1zM984 294h1v1h-1zM985 293h1v1h-1zM986 292h1v1h-1zM987 291h1v1h-1zM988 290h1v1h-1zM989 289h1v1h-1zM990 288h1v1h-1zM991 287h1v1h-1zM992 286h1v1h-1zM993 285h1v1h-1zM994 284h1v1h-1zM995 283h1v1h-1zM996 282h1v1h-1zM997 281h2v1h-2zM999 280h1v1h-1zM1000 279h1v1h-1zM1001 278h1v1h-1zM1002 277h2v1h-2zM1004 276h1v1h-1zM1005 275h1v1h-1zM1006 274h1v1h-1zM1007 273h2v1h-2zM1009 272h1v1h-1zM1010 271h1v1h-1zM1011 270h1v1h-1zM1012 269h2v1h-2zM1014 268h1v1h-1zM1015 267h2v1h-2zM1017 266h2v1h-2zM1019 265h2v1h-2zM1021 264h3v1h-3zM1024 263h2v1h-2zM1026 262h2v1h-2zM1028 261h3v1h-3zM1031 260h2v1h-2zM1033 259h2v1h-2zM1035 258h11v1h-11zM1046 257h33v1h-33zM1079 256h4v1h-4zM1083 255h22v1h-22zM1105 256h4v1h-4zM1109 257h4v1h-4zM1113 256h4v1h-4zM1117 255h3v1h-3zM1120 254h4v1h-4zM1124 253h3v1h-3zM1127 254h3v1h-3zM1130 255h3v1h-3zM1133 256h3v1h-3zM1136 257h2v1h-2zM1138 258h2v1h-2zM1140 259h6v1h-6zM1146 260h5v1h-5zM1151 261h2v1h-2zM1153 262h2v1h-2zM1155 263h2v1h-2zM1157 264h8v1h-8zM1165 263h8v1h-8zM1173 262h2v1h-2zM1175 261h2v1h-2zM1177 260h2v1h-2zM1179 259h2v1h-2zM1181 258h3v1h-3zM1184 257h2v1h-2zM1186 256h2v1h-2zM1188 255h2v1h-2zM1190 254h3v1h-3zM1193 253h2v1h-2zM1195 252h2v1h-2zM1197 251h2v1h-2zM1199 250h3v1h-3zM1202 249h2v1h-2zM1204 248h2v1h-2zM1206 247h2v1h-2zM1208 246h3v1h-3zM1211 245h2v1h-2zM1213 244h2v1h-2zM1215 243h2v1h-2zM1217 242h3v1h-3zM1220 241h3v1h-3zM1223 240h2v1h-2zM1225 239h3v1h-3zM1228 238h3v1h-3zM1231 237h3v1h-3zM1234 236h3v1h-3zM1237 235h3v1h-3zM1240 234h3v1h-3zM1243 233h3v1h-3zM1246 232h3v1h-3zM1249 231h3v1h-3zM1252 230h3v1h-3zM1255 229h4v1h-4zM1259 228h12v1h-12zM1271 229h2v1h-2zM1273 230h2v1h-2zM1275 231h2v1h-2zM1277 232h1v1h-1zM1278 233h1v1h-1zM1279 234h1v1h-1zM1280 235h1v1h-1zM1281 236h1v1h-1zM1282 237h1v1h-1zM1283 238h1v1h-1zM1284 239h1v1h-1zM1285 240h1v1h-1zM1286 241h1v1h-1zM1287 242h2v1h-2zM1289 243h2v1h-2zM1291 244h2v1h-2zM1293 245h1v1h-1zM1294 246h2v1h-2zM1296 247h2v1h-2zM1298 248h2v1h-2zM1300 249h1v1h-1zM1301 250h2v1h-2zM1303 251h2v1h-2zM1305 252h2v1h-2zM1307 253h1v1h-1zM1308 254h1v1h-1zM1309 255h1v1h-1zM1310 256h1v1h-1zM1311 257h1v1h-1zM1312 258h1v1h-1zM1313 259h1v1h-1zM1314 260h1v1h-1zM1315 261h1v1h-1zM1316 262h1v1h-1zM1317 263h1v1h-1zM1318 264h1v1h-1zM1319 265h1v1h-1zM1320 266h1v1h-1zM1321 267h1v2h-1zM1322 269h1v1h-1zM1323 270h1v2h-1zM1324 272h1v2h-1zM1325 274h1v1h-1zM1326 275h1v2h-1zM1327 277h1v1h-1zM1328 278h1v2h-1zM1329 280h1v2h-1zM1330 282h1v1h-1zM1331 283h1v2h-1zM1332 285h1v1h-1z" fill="#3cb371" shape-rendering="crispEdges"/>
<path d="M0 301h1v1h-1zM1 300h2v1h-2zM3 299h2v1h-2zM5 298h1v1h-1zM6 296h1v2h-1zM7 295h1v1h-1zM8 294h1v1h-1zM9 292h1v2h-1zM10 291h1v1h-1zM11 290h1v1h-1zM12 288h1v2h-1zM13 287h1v1h-1zM14 286h1v1h-1zM15 285h1v1h-1zM16 284h1v1h-1zM17 282h1v2h-1zM18 281h1v1h-1zM19 280h1v1h-1zM20 279h1v1h-1zM21 278h1v1h-1zM22 279h1v1h-1zM23 280h2v1h-2zM25 281h1v1h-1zM26 282h1v1h-1zM27 283h2v1h-2zM29 284h1v1h-1zM30 285h1v3h-1zM31 288h1v4h-1zM32 292h1v5h-1zM33 297h1v4h-1zM34 301h1v5h-1zM35 306h1v5h-1zM36 311h1v4h-1zM37 315h1v3h-1zM38 318h1v2h-1zM39 320h1v2h-1zM40 322h1v2h-1zM41 324h1v2h-1zM42 326h1v2h-1zM43 328h1v2h-1zM44 330h1v3h-1zM45 333h1v2h-1zM46 335h1v2h-1zM47 337h1v3h-1zM48 340h1v2h-1zM49 342h1v3h-1zM50 345h1v2h-1zM51 347h1v2h-1zM52 349h1v2h-1zM53 351h1v2h-1zM54 353h1v2h-1zM55 355h1v2h-1zM56 357h1v2h-1zM57 359h1v2h-1zM58 361h1v2h-1zM59 363h1v2h-1zM60 365h1v2h-1zM61 367h1v2h-1zM62 369h1v2h-1zM63 371h1v2h-1zM64 373h1v2h-1zM65 375h1v3h-1zM66 378h1v2h-1zM67 380h1v3h-1zM68 383h1v3h-1zM69 386h1v2h-1zM70 388h1v3h-1zM71 391h1v3h-1zM72 394h1v2h-1zM73 396h1v3h-1zM74 399h1v3h-1zM75 402h1v2h-1zM76 404h1v2h-1zM77 406h1v1h-1zM78 407h1v1h-1zM79 408h1v1h-1zM80 409h1v1h-1zM81 410h1v1h-1zM82 411h1v1h-1zM83 412h2v1h-2zM85 413h1v1h-1zM86 414h1v1h-1zM87 415h1v1h-1zM88 416h1v1h-1zM89 417h1v1h-1zM90 418h1v1h-1zM91 419h1v2h-1zM92 421h1v2h-1zM93 423h1v2h-1zM94 425h1v2h-1zM95 427h1v2h-1zM96 429h1v2h-1zM97 431h1v2h-1zM98 433h1v2h-1zM99 435h1v2h-1zM100 437h1v2h-1zM101 439h1v2h-1zM102 441h1v2h-1zM103 443h1v2h-1zM104 445h1v2h-1zM105 447h1v2h-1zM106 449h1v2h-1zM107 451h1v2h-1zM108 453h1v2h-1zM109 455h1v2h-1zM110 457h1v1h-1zM111 458h2v1h-2zM113 459h1v1h-1zM114 460h1v1h-1zM115 461h2v1h-2zM117 462h1v1h-1zM118 461h1v1h-1zM119 460h2v1h-2zM121 459h1v1h-1zM122 458h1v1h-1zM123 457h2v1h-2zM125 456h1v1h-1zM126 457h2v1h-2zM128 458h2v1h-2zM130 459h2v1h-2zM132 460h2v1h-2zM134 461h1v1h-1zM135 459h1v2h-1zM136 457h1v2h-1zM137 455h1v2h-1zM138 453h1v2h-1zM139 451h1v2h-1zM140 449h1v2h-1zM141 447h1v2h-1zM142 446h1v1h-1zM143 444h1v2h-1zM144 442h1v2h-1zM145 440h1v2h-1zM146 439h1v1h-1zM147 437h1v2h-1zM148 435h1v2h-1zM149 433h1v2h-1zM150 432h1v1h-1zM151 431h1v1h-1zM152 430h1v1h-1zM153 429h1v1h-1zM154 428h1v1h-1zM155 427h1v1h-1zM156 426h1v1h-1zM157 425h1v1h-1zM158 426h2v1h-2zM160 427h2v1h-2zM162 428h2v1h-2zM164 429h2v1h-2zM166 430h2v1h-2zM168 431h2v1h-2zM170 432h2v1h-2zM172 433h2v1h-2zM174 434h3v1h-3zM177 435h2v1h-2zM179 436h2v1h-2zM181 437h2v1h-2zM183 438h2v1h-2zM185 439h1v2h-1zM186 441h1v2h-1zM187 443h1v1h-1zM188 444h1v2h-1zM189 446h1v2h-1zM190 448h1v2h-1zM191 450h1v4h-1zM192 454h1v3h-1zM193 457h1v4h-1zM194 461h1v3h-1zM195 464h1v2h-1zM196 466h1v3h-1zM197 469h1v3h-1zM198 472h1v2h-1zM199 474h1v3h-1zM200 477h1v3h-1zM201 480h1v2h-1zM202 482h1v3h-1zM203 485h1v2h-1zM204 487h1v3h-1zM205 490h1v3h-1zM206 493h1v2h-1zM207 495h1v2h-1zM208 497h1v1h-1zM209 498h1v1h-1zM210 499h1v1h-1zM211 500h1v1h-1zM212 501h1v1h-1zM213 502h1v1h-1zM214 503h1v1h-1zM215 504h1v1h-1zM216 505h1v1h-1zM217 506h1v1h-1zM218 507h1v2h-1zM219 509h1v1h-1zM220 510h1v1h-1zM221 511h1v1h-1zM222 512h1v1h-1zM223 513h1v1h-1zM224 514h1v2h-1zM225 516h1v1h-1zM226 517h1v1h-1zM227 518h1v1h-1zM228 519h1v2h-1zM229 521h1v1h-1zM230 522h2v1h-2zM232 523h4v1h-4zM236 524h2v1h-2zM238 522h1v2h-1zM239 521h1v1h-1zM240 520h1v1h-1zM241 518h1v2h-1zM242 517h1v1h-1zM243 516h1v1h-1zM244 514h1v2h-1zM245 513h4v1h-4zM249 512h4v1h-4zM253 513h1v1h-1zM254 514h1v1h-1zM255 515h1v1h-1zM256 516h1v1h-1zM257 517h1v1h-1zM258 518h1v1h-1zM259 519h1v1h-1zM260 520h1v1h-1zM261 521h3v1h-3zM264 522h4v1h-4zM268 523h8v1h-8zM276 522h16v1h-16zM292 523h11v1h-11zM303 522h4v1h-4zM307 521h4v1h-4zM311 520h15v1h-15zM326 521h2v1h-2zM328 522h1v1h-1zM329 523h2v1h-2zM331 524h1v1h-1zM332 525h2v1h-2zM334 526h1v1h-1zM335 527h1v2h-1zM336 529h1v1h-1zM337 530h1v1h-1zM338 531h1v2h-1zM339 533h1v1h-1zM340 534h1v2h-1zM341 536h1v1h-1zM342 537h1v2h-1zM343 539h1v2h-1zM344 541h1v1h-1zM345 542h1v2h-1zM346 544h1v1h-1zM347 545h1v2h-1zM348 547h1v2h-1zM349 549h1v1h-1zM350 548h2v1h-2zM352 547h2v1h-2zM354 546h2v1h-2zM356 545h1v1h-1zM357 544h2v1h-2zM359 543h2v1h-2zM361 542h2v1h-2zM363 541h2v1h-2zM365 540h1v1h-1zM366 539h1v1h-1zM367 538h1v1h-1zM368 537h1v1h-1zM369 536h1v1h-1zM370 535h2v1h-2zM372 534h1v1h-1zM373 533h1v1h-1zM374 532h1v1h-1zM375 531h1v1h-1zM376 530h1v1h-1zM377 528h1v2h-1zM378 527h1v1h-1zM379 526h1v1h-1zM380 524h1v2h-1zM381 523h1v1h-1zM382 522h1v1h-1zM383 520h1v2h-1zM384 518h1v2h-1zM385 516h1v2h-1zM386 514h1v2h-1zM387 512h1v2h-1zM388 511h1v1h-1zM389 509h1v2h-1zM390 507h1v2h-1zM391 505h1v2h-1zM392 503h1v2h-1zM393 501h1v2h-1zM394 499h1v2h-1zM395 498h1v1h-1zM396 496h1v2h-1zM397 494h1v2h-1zM398 492h1v2h-1zM399 490h1v2h-1zM400 488h1v2h-1zM401 486h1v2h-1zM402 484h1v2h-1zM403 482h1v2h-1zM404 480h1v2h-1zM405 477h1v3h-1zM406 475h1v2h-1zM407 473h1v2h-1zM408 471h1v2h-1zM409 468h1v3h-1zM410 466h1v2h-1zM411 464h1v2h-1zM412 461h1v3h-1zM413 459h1v2h-1zM414 457h1v2h-1zM415 454h1v3h-1zM416 452h1v2h-1zM417 450h1v2h-1zM418 446h1v4h-1zM419 442h1v4h-1zM420 437h1v5h-1zM421 434h1v3h-1zM422 432h1v2h-1zM423 430h1v2h-1zM424 428h1v2h-1zM425 426h1v2h-1zM426 424h1v2h-1zM427 422h1v2h-1zM428 420h1v2h-1zM429 419h1v1h-1zM430 418h1v1h-1zM431 417h1v1h-1zM432 416h1v1h-1zM433 415h2v1h-2zM435 414h1v1h-1zM436 413h1v1h-1zM437 412h4v1h-4zM441 411h5v1h-5zM446 409h1v2h-1zM447 408h1v1h-1zM448 406h1v2h-1zM449 405h1v1h-1zM450 404h1v1h-1zM451 402h1v2h-1zM452 401h1v1h-1zM453 399h1v2h-1zM454 398h2v1h-2zM456 397h4v1h-4zM460 396h4v1h-4zM464 395h4v1h-4zM468 394h2v1h-2zM470 392h1v2h-1zM471 391h1v1h-1zM472 389h1v2h-1zM473 388h1v1h-1zM474 386h1v2h-1zM475 385h1v1h-1zM476 383h1v2h-1zM477 382h1v1h-1zM478 380h1v2h-1zM479 378h1v2h-1zM480 377h1v1h-1zM481 375h1v2h-1zM482 374h1v1h-1zM483 372h1v2h-1zM484 370h1v2h-1zM485 369h1v1h-1zM486 368h2v1h-2zM488 367h1v1h-1zM489 366h2v1h-2zM491 365h1v1h-1zM492 364h2v1h-2zM494 363h1v1h-1zM495 364h1v1h-1zM496 365h1v1h-1zM497 366h2v1h-2zM499 367h1v1h-1zM500 368h1v1h-1zM501 369h1v1h-1zM502 370h1v2h-1zM503 372h1v1h-1zM504 373h1v2h-1zM505 375h1v1h-1zM506 376h1v2h-1zM507 378h1v2h-1zM508 380h1v1h-1zM509 381h1v2h-1zM510 383h1v1h-1zM511 384h1v1h-1zM512 385h1v1h-1zM513 386h2v1h-2zM515 387h1v1h-1zM516 388h1v1h-1zM517 389h1v2h-1zM518 391h1v2h-1zM519 393h1v2h-1zM520 395h1v3h-1zM521 398h1v2h-1zM522 400h1v3h-1zM523 403h1v2h-1zM524 405h1v2h-1zM525 407h1v4h-1zM526 411h1v5h-1zM527 416h1v4h-1zM528 420h1v5h-1zM529 425h1v5h-1zM530 430h1v5h-1zM531 435h1v5h-1zM532 440h1v4h-1zM533 444h1v5h-1zM534 449h1v5h-1zM535 454h1v5h-1zM536 459h1v6h-1zM537 465h1v5h-1zM538 470h1v5h-1zM539 475h1v6h-1zM540 481h1v5h-1zM541 486h1v5h-1zM542 491h1v4h-1zM543 495h1v4h-1zM544 499h1v4h-1zM545 503h1v4h-1zM546 507h1v5h-1zM547 512h1v4h-1zM548 516h1v4h-1zM549 520h1v4h-1zM550 524h1v4h-1zM551 528h1v3h-1zM552 531h1v3h-1zM553 534h1v2h-1zM554 536h1v3h-1zM555 539h1v3h-1zM556 542h1v3h-1zM557 545h1v2h-1zM558 547h1v2h-1zM559 549h1v2h-1zM560 551h1v2h-1zM561 553h1v2h-1zM562 555h1v2h-1zM563 557h1v2h-1zM564 559h1v2h-1zM646 560h1v1h-1zM647 559h1v1h-1zM648 558h1v1h-1zM649 557h1v1h-1zM650 556h1v1h-1zM651 555h1v1h-1zM652 554h1v1h-1zM653 553h1v1h-1zM654 552h2v1h-2zM656 553h4v1h-4zM660 554h26v1h-26zM686 553h1v1h-1zM687 551h1v2h-1zM688 550h1v1h-1zM689 549h1v1h-1zM690 548h1v1h-1zM691 547h1v1h-1zM692 545h1v2h-1zM693 544h1v1h-1zM694 543h1v1h-1zM695 541h1v2h-1zM696 540h1v1h-1zM697 538h1v2h-1zM698 536h1v2h-1zM699 535h1v1h-1zM700 533h1v2h-1zM701 532h1v1h-1zM702 530h1v2h-1zM703 529h1v1h-1zM704 527h1v2h-1zM705 526h1v1h-1zM706 524h1v2h-1zM707 522h1v2h-1zM708 521h1v1h-1zM709 519h1v2h-1zM710 517h1v2h-1zM711 515h1v2h-1zM712 513h1v2h-1zM713 511h1v2h-1zM714 509h1v2h-1zM715 507h1v2h-1zM716 505h1v2h-1zM717 503h1v2h-1zM718 500h1v3h-1zM719 498h1v2h-1zM720 496h1v2h-1zM721 494h1v2h-1zM722 492h1v2h-1zM723 490h1v2h-1zM724 488h1v2h-1zM725 485h1v3h-1zM726 483h1v2h-1zM727 480h1v3h-1zM728 478h1v2h-1zM729 476h1v2h-1zM730 473h1v3h-1zM731 471h1v2h-1zM732 468h1v3h-1zM733 466h1v2h-1zM734 463h1v3h-1zM735 459h1v4h-1zM736 456h1v3h-1zM737 452h1v4h-1zM738 449h1v3h-1zM739 445h1v4h-1zM740 442h1v3h-1zM741 438h1v4h-1zM742 436h1v2h-1zM743 435h2v1h-2zM745 434h1v1h-1zM746 433h2v1h-2zM748 432h2v1h-2zM750 431h27v1h-27zM777 432h3v1h-3zM780 433h3v1h-3zM783 432h2v1h-2zM785 431h2v1h-2zM787 430h2v1h-2zM789 429h3v1h-3zM792 428h2v1h-2zM794 427h2v1h-2zM796 426h2v1h-2zM798 425h2v1h-2zM800 424h2v1h-2zM802 423h2v1h-2zM804 422h2v1h-2zM806 421h1v1h-1zM807 420h1v1h-1zM808 419h2v1h-2zM810 418h1v1h-1zM811 417h1v1h-1zM812 415h1v2h-1zM813 413h1v2h-1zM814 411h1v2h-1zM815 409h1v2h-1zM816 407h1v2h-1zM817 405h1v2h-1zM818 402h1v3h-1zM819 398h1v4h-1zM820 394h1v4h-1zM821 391h1v3h-1zM822 390h2v1h-2zM824 389h2v1h-2zM826 388h2v1h-2zM828 387h5v1h-5zM833 386h5v1h-5zM838 385h2v1h-2zM840 384h2v1h-2zM842 383h2v1h-2zM844 382h2v1h-2zM846 381h1v1h-1zM847 379h1v2h-1zM848 378h1v1h-1zM849 377h1v1h-1zM850 375h1v2h-1zM851 374h1v1h-1zM852 373h1v1h-1zM853 371h1v2h-1zM854 370h4v1h-4zM858 371h6v1h-6zM864 372h15v1h-15zM879 371h4v1h-4zM883 370h3v1h-3zM886 369h2v1h-2zM888 368h1v1h-1zM889 367h2v1h-2zM891 366h1v1h-1zM892 365h2v1h-2zM894 364h3v1h-3zM897 363h24v1h-24zM921 364h13v1h-13zM934 363h11v1h-11zM945 364h5v1h-5zM950 365h5v1h-5zM955 366h5v1h-5zM960 367h4v1h-4zM964 368h4v1h-4zM968 369h4v1h-4zM972 370h4v1h-4zM976 369h4v1h-4zM980 368h2v1h-2zM982 367h1v1h-1zM983 366h2v1h-2zM985 365h1v1h-1zM986 364h1v1h-1zM987 363h2v1h-2zM989 362h1v1h-1zM990 361h4v1h-4zM994 360h11v1h-11zM1005 359h8v1h-8zM1013 358h2v1h-2zM1015 357h2v1h-2zM1017 356h2v1h-2zM1019 355h2v1h-2zM1021 354h1v1h-1zM1022 352h1v2h-1zM1023 351h1v1h-1zM1024 350h1v1h-1zM1025 348h1v2h-1zM1026 347h1v1h-1zM1027 346h1v1h-1zM1028 344h1v2h-1zM1029 343h1v1h-1zM1030 342h1v1h-1zM1031 341h2v1h-2zM1033 340h1v1h-1zM1034 339h1v1h-1zM1035 338h2v1h-2zM1037 337h8v1h-8zM1045 336h10v1h-10zM1055 337h5v1h-5zM1060 338h6v1h-6zM1066 337h8v1h-8zM1074 336h4v1h-4zM1078 335h2v1h-2zM1080 334h2v1h-2zM1082 333h2v1h-2zM1084 332h6v1h-6zM1090 331h6v1h-6zM1096 332h3v1h-3zM1099 333h3v1h-3zM1102 334h4v1h-4zM1106 335h3v1h-3zM1109 336h5v1h-5zM1114 335h8v1h-8zM1122 334h5v1h-5zM1127 335h3v1h-3zM1130 336h3v1h-3zM1133 337h9v1h-9zM1142 336h10v1h-10zM1152 335h3v1h-3zM1155 334h3v1h-3zM1158 333h3v1h-3zM1161 332h3v1h-3zM1164 331h2v1h-2zM1166 332h1v1h-1zM1167 333h1v1h-1zM1168 334h2v1h-2zM1170 335h1v1h-1zM1171 336h1v1h-1zM1172 337h1v1h-1zM1173 338h1v1h-1zM1174 339h2v1h-2zM1176 340h1v1h-1zM1177 341h1v1h-1zM1178 342h2v1h-2zM1180 343h1v1h-1zM1181 344h1v1h-1zM1182 345h2v1h-2zM1184 346h2v1h-2zM1186 347h2v1h-2zM1188 348h2v1h-2zM1190 349h5v1h-5zM1195 348h7v1h-7zM1202 347h5v1h-5zM1207 346h2v1h-2zM1209 345h2v1h-2zM1211 344h2v1h-2zM1213 343h1v1h-1zM1214 342h1v1h-1zM1215 341h1v1h-1zM1216 340h1v1h-1zM1217 339h1v1h-1zM1218 338h1v1h-1zM1219 337h1v1h-1zM1220 335h1v2h-1zM1221 334h1v1h-1zM1222 333h1v1h-1zM1223 332h2v1h-2zM1225 331h2v1h-2zM1227 330h2v1h-2zM1229 329h2v1h-2zM1231 328h1v1h-1zM1232 327h2v1h-2zM1234 326h1v1h-1zM1235 325h1v1h-1zM1236 324h1v1h-1zM1237 323h2v1h-2zM1239 322h1v1h-1zM1240 321h1v1h-1zM1241 320h2v1h-2zM1243 319h1v1h-1zM1244 318h1v1h-1zM1245 317h2v1h-2zM1247 316h1v1h-1zM1248 315h2v1h-2zM1250 314h1v1h-1zM1251 313h1v1h-1zM1252 312h2v1h-2zM1254 311h1v1h-1zM1255 310h1v1h-1zM1256 309h1v1h-1zM1257 308h1v1h-1zM1258 307h2v1h-2zM1260 306h1v1h-1zM1261 305h3v1h-3zM1264 306h4v1h-4zM1268 307h1v1h-1zM1269 308h1v2h-1zM1270 310h1v1h-1zM1271 311h1v1h-1zM1272 312h1v1h-1zM1273 313h1v2h-1zM1274 315h1v1h-1zM1275 316h1v2h-1zM1276 318h1v4h-1zM1277 322h1v3h-1zM1278 325h1v4h-1zM1279 329h1v4h-1zM1280 333h1v5h-1zM1281 338h1v4h-1zM1282 342h1v5h-1zM1283 347h1v4h-1zM1284 351h1v3h-1zM1285 354h1v3h-1zM1286 357h1v3h-1zM1287 360h1v2h-1zM1288 362h1v2h-1zM1289 364h1v2h-1zM1290 366h1v2h-1zM1291 368h1v2h-1zM1292 370h1v2h-1zM1293 372h1v2h-1zM1294 374h1v2h-1zM1295 376h1v2h-1zM1296 378h1v2h-1zM1297 380h1v2h-1zM1298 382h1v1h-1zM1299 383h1v2h-1zM1300 385h1v2h-1zM1301 387h1v2h-1zM1302 389h1v2h-1zM1303 391h1v1h-1zM1304 392h1v1h-1zM1305 393h1v2h-1zM1306 395h1v1h-1zM1307 396h1v2h-1zM1308 398h1v2h-1zM1309 400h1v3h-1zM1310 403h1v2h-1zM1311 405h1v3h-1zM1312 408h1v2h-1zM1313 410h1v2h-1zM1314 412h1v3h-1zM1315 415h1v4h-1zM1316 419h1v2h-1zM1317 421h1v2h-1zM1318 423h1v2h-1zM1319 425h1v2h-1zM1320 427h1v2h-1zM1321 429h1v2h-1zM1322 431h1v2h-1zM1323 433h1v2h-1zM1324 435h1v2h-1zM1325 437h1v2h-1zM1326 439h1v2h-1zM1327 441h1v2h-1zM1328 443h1v1h-1zM1329 444h1v2h-1zM1330 446h1v2h-1zM1331 448h1v2h-1zM1332 450h1v1h-1z" fill="#3cb371" shape-rendering="crispEdges"/>
<g shape-rendering="crispEdges">
<rect x="5" y="116" width="1" height="102" fill="#000"/>
<rect x="3" y="120" width="5" height="92" fill="#000"/>
<rect x="13" y="206" width="1" height="52" fill="#000"/>
<rect x="11" y="211" width="5" height="29" fill="#000"/>
<rect x="21" y="212" width="1" height="29" fill="#000"/>
<rect x="19.5" y="231.5" width="4" height="7" fill="#fff" stroke="#000" stroke-width="1"/>
<rect x="29" y="230" width="1" height="72" fill="#000"/>
<rect x="27" y="232" width="5" height="34" fill="#000"/>
<rect x="37" y="233" width="1" height="58" fill="#000"/>
<rect x="35" y="265" width="5" height="18" fill="#000"/>
<rect x="45" y="235" width="1" height="60" fill="#000"/>
<rect x="43.5" y="262.5" width="4" height="20" fill="#fff" stroke="#000" stroke-width="1"/>
<rect x="53" y="258" width="1" height="41" fill="#000"/>
<rect x="51" y="262" width="5" height="19" fill="#000"/>
<rect x="61" y="263" width="1" height="28" fill="#000"/>
<rect x="59.5" y="267.5" width="4" height="13" fill="#fff" stroke="#000" stroke-width="1"/>
<rect x="69" y="263" width="1" height="21" fill="#000"/>
<rect x="67" y="268" width="5" height="5" fill="#000"/>
<rect x="77" y="257" width="1" height="24" fill="#000"/>
<rect x="75.5" y="267.5" width="4" height="5" fill="#fff" stroke="#000" stroke-width="1"/>
<rect x="85" y="227" width="1" height="53" fill="#000"/>
<rect x="83.5" y="234.5" width="4" height="32" fill="#fff" stroke="#000" stroke-width="1"/>
<rect x="93" y="215" width="1" height="112" fill="#000"/>
<rect x="91" y="234" width="5" height="70" fill="#000"/>
<rect x="101" y="225" width="1" height="175" fill="#000"/>
<rect x="99" y="306" width="5" height="72" fill="#000"/>
<rect x="109" y="372" width="1" height="51" fill="#000"/>
<rect x="107" y="376" width="5" height="24" fill="#000"/>
<rect x="117" y="376" width="1" height="31" fill="#000"/>
<rect x="115.5" y="377.5" width="4" height="21" fill="#fff" stroke="#000" stroke-width="1"/>
<rect x="125" y="374" width="1" height="26" fill="#000"/>
<rect x="123" y="377" width="5" height="2" fill="#000"/>
<rect x="133" y="369" width="1" height="33" fill="#000"/>
<rect x="131" y="379" width="5" height="4" fill="#000"/>
<rect x="141" y="338" width="1" height="49" fill="#000"/>
<rect x="139.5" y="375.5" width="4" height="8" fill="#fff" stroke="#000" stroke-width="1"/>
<rect x="149" y="303" width="1" height="79" fill="#000"/>
<rect x="147.5" y="331.5" width="4" height="44" fill="#fff" stroke="#000" stroke-width="1"/>
<rect x="157" y="319" width="1" height="58" fill="#000"/>
<rect x="155" y="331" width="5" height="37" fill="#000"/>
<rect x="165" y="361" width="1" height="38" fill="#000"/>
<rect x="163.5" y="375.5" width="4" height="18" fill="#fff" stroke="#000" stroke-width="1"/>
<rect x="173" y="372" width="1" height="21" fill="#000"/>
<rect x="171" y="375" width="5" height="9" fill="#000"/>
<rect x="181" y="366" width="1" height="27" fill="#000"/>
<rect x="179.5" y="375.5" width="4" height="8" fill="#fff" stroke="#000" stroke-width="1"/>
<rect x="189" y="363" width="1" height="75" fill="#000"/>
<rect x="187" y="375" width="5" height="45" fill="#000"/>
<rect x="197" y="418" width="1" height="96" fill="#000"/>
<rect x="195" y="418" width="5" height="74" fill="#000"/>
<rect x="205" y="471" width="1" height="38" fill="#000"/>
<rect x="203.5" y="474.5" width="4" height="16" fill="#fff" stroke="#000" stroke-width="1"/>
<rect x="213" y="463" width="1" height="19" fill="#000"/>
<rect x="211.5" y="469.5" width="4" height="6" fill="#fff" stroke="#000" stroke-width="1"/>
<rect x="221" y="461" width="1" height="16" fill="#000"/>
<rect x="219.5" y="466.5" width="4" height="2" fill="#fff" stroke="#000" stroke-width="1"/>
<rect x="229" y="462" width="1" height="33" fill="#000"/>
<rect x="227" y="464" width="5" height="26" fill="#000"/>
<rect x="237" y="451" width="1" height="44" fill="#000"/>
<rect x="235.5" y="464.5" width="4" height="25" fill="#fff" stroke="#000" stroke-width="1"/>
<rect x="245" y="444" width="1" height="28" fill="#000"/>
<rect x="243.5" y="454.5" width="4" height="9" fill="#fff" stroke="#000" stroke-width="1"/>
<rect x="253" y="434" width="1" height="30" fill="#000"/>
<rect x="251" y="454" width="5" height="6" fill="#000"/>
<rect x="261" y="449" width="1" height="70" fill="#000"/>
<rect x="259" y="458" width="5" height="34" fill="#000"/>
<rect x="269" y="431" width="1" height="10" fill="#000"/>
<rect x="267" y="434" width="5" height="2" fill="#000"/>
<rect x="277" y="379" width="1" height="61" fill="#000"/>
<rect x="275.5" y="392.5" width="4" height="44" fill="#fff" stroke="#000" stroke-width="1"/>
<rect x="285" y="378" width="1" height="19" fill="#000"/>
<rect x="283.5" y="385.5" width="4" height="7" fill="#fff" stroke="#000" stroke-width="1"/>
<rect x="293" y="384" width="1" height="38" fill="#000"/>
<rect x="291" y="386" width="5" height="30" fill="#000"/>
<rect x="301" y="362" width="1" height="54" fill="#000"/>
<rect x="299.5" y="362.5" width="4" height="53" fill="#fff" stroke="#000" stroke-width="1"/>
<rect x="309" y="340" width="1" height="25" fill="#000"/>
<rect x="307.5" y="351.5" width="4" height="11" fill="#fff" stroke="#000" stroke-width="1"/>
<rect x="317" y="351" width="1" height="25" fill="#000"/>
<rect x="315" y="352" width="5" height="15" fill="#000"/>
<rect x="325" y="361" width="1" height="56" fill="#000"/>
<rect x="323" y="363" width="5" height="15" fill="#000"/>
<rect x="333" y="322" width="1" height="62" fill="#000"/>
<rect x="331.5" y="323.5" width="4" height="55" fill="#fff" stroke="#000" stroke-width="1"/>
<rect x="341" y="279" width="1" height="68" fill="#000"/>
<rect x="339.5" y="280.5" width="4" height="45" fill="#fff" stroke="#000" stroke-width="1"/>
<rect x="349" y="240" width="1" height="41" fill="#000"/>
<rect x="347.5" y="252.5" width="4" height="28" fill="#fff" stroke="#000" stroke-width="1"/>
<rect x="357" y="251" width="1" height="35" fill="#000"/>
<rect x="355" y="251" width="5" height="27" fill="#000"/>
<rect x="365" y="269" width="1" height="38" fill="#000"/>
<rect x="363.5" y="279.5" width="4" height="27" fill="#fff" stroke="#000" stroke-width="1"/>
<rect x="373" y="268" width="1" height="41" fill="#000"/>
<rect x="371" y="279" width="5" height="9" fill="#000"/>
<rect x="381" y="281" width="1" height="29" fill="#000"/>
<rect x="379.5" y="284.5" width="4" height="3" fill="#fff" stroke="#000" stroke-width="1"/>
<rect x="389" y="279" width="1" height="46" fill="#000"/>
<rect x="387" y="282" width="5" height="2" fill="#000"/>
<rect x="397" y="263" width="1" height="74" fill="#000"/>
<rect x="395" y="283" width="5" height="33" fill="#000"/>
<rect x="405" y="295" width="1" height="44" fill="#000"/>
<rect x="403" y="315" width="5" height="24" fill="#000"/>
<rect x="413" y="327" width="1" height="30" fill="#000"/>
<rect x="411.5" y="336.5" width="4" height="2" fill="#fff" stroke="#000" stroke-width="1"/>
<rect x="421" y="328" width="1" height="26" fill="#000"/>
<rect x="419" y="336" width="5" height="11" fill="#000"/>
<rect x="429" y="334" width="1" height="39" fill="#000"/>
<rect x="427.5" y="334.5" width="4" height="11" fill="#fff" stroke="#000" stroke-width="1"/>
<rect x="437" y="262" width="1" height="98" fill="#000"/>
<rect x="435.5" y="263.5" width="4" height="72" fill="#fff" stroke="#000" stroke-width="1"/>
<rect x="445" y="201" width="1" height="93" fill="#000"/>
<rect x="443.5" y="209.5" width="4" height="54" fill="#fff" stroke="#000" stroke-width="1"/>
<rect x="453" y="160" width="1" height="64" fill="#000"/>
<rect x="451" y="208" width="5" height="10" fill="#000"/>
<rect x="461" y="184" width="1" height="42" fill="#000"/>
<rect x="459.5" y="203.5" width="4" height="14" fill="#fff" stroke="#000" stroke-width="1"/>
<rect x="469" y="190" width="1" height="22" fill="#000"/>
<rect x="467.5" y="193.5" width="4" height="14" fill="#fff" stroke="#000" stroke-width="1"/>
<rect x="477" y="179" width="1" height="77" fill="#000"/>
<rect x="475" y="193" width="5" height="51" fill="#000"/>
<rect x="485" y="209" width="1" height="43" fill="#000"/>
<rect x="483.5" y="220.5" width="4" height="24" fill="#fff" stroke="#000" stroke-width="1"/>
<rect x="493" y="206" width="1" height="52" fill="#000"/>
<rect x="491" y="219" width="5" height="28" fill="#000"/>
<rect x="501" y="227" width="1" height="120" fill="#000"/>
<rect x="499" y="246" width="5" height="86" fill="#000"/>
<rect x="509" y="329" width="1" height="61" fill="#000"/>
<rect x="507" y="331" width="5" height="34" fill="#000"/>
<rect x="517" y="334" width="1" height="30" fill="#000"/>
<rect x="515.5" y="342.5" width="4" height="21" fill="#fff" stroke="#000" stroke-width="1"/>
<rect x="525" y="337" width="1" height="108" fill="#000"/>
<rect x="523" y="344" width="5" height="66" fill="#000"/>
<rect x="533" y="400" width="1" height="109" fill="#000"/>
<rect x="531" y="408" width="5" height="89" fill="#000"/>
<rect x="541" y="449" width="1" height="81" fill="#000"/>
<rect x="539" y="494" width="5" height="28" fill="#000"/>
<rect x="549" y="447" width="1" height="80" fill="#000"/>
<rect x="547.5" y="505.5" width="4" height="16" fill="#fff" stroke="#000" stroke-width="1"/>
<rect x="557" y="486" width="1" height="43" fill="#000"/>
<rect x="555.5" y="500.5" width="4" height="4" fill="#fff" stroke="#000" stroke-width="1"/>
<rect x="565" y="503" width="1" height="46" fill="#000"/>
<rect x="563.5" y="508.5" width="4" height="36" fill="#fff" stroke="#000" stroke-width="1"/>
<rect x="573" y="475" width="1" height="42" fill="#000"/>
<rect x="571.5" y="490.5" width="4" height="18" fill="#fff" stroke="#000" stroke-width="1"/>
<rect x="581" y="465" width="1" height="52" fill="#000"/>
<rect x="579" y="489" width="5" height="5" fill="#000"/>
<rect x="589" y="377" width="1" height="135" fill="#000"/>
<rect x="587.5" y="400.5" width="4" height="91" fill="#fff" stroke="#000" stroke-width="1"/>
<rect x="597" y="355" width="1" height="68" fill="#000"/>
<rect x="595.5" y="361.5" width="4" height="39" fill="#fff" stroke="#000" stroke-width="1"/>
<rect x="605" y="333" width="1" height="40" fill="#000"/>
<rect x="603.5" y="336.5" width="4" height="24" fill="#fff" stroke="#000" stroke-width="1"/>
<rect x="613" y="327" width="1" height="20" fill="#000"/>
<rect x="611.5" y="332.5" width="4" height="4" fill="#fff" stroke="#000" stroke-width="1"/>
<rect x="621" y="317" width="1" height="21" fill="#000"/>
<rect x="619.5" y="320.5" width="4" height="12" fill="#fff" stroke="#000" stroke-width="1"/>
<rect x="629" y="314" width="1" height="73" fill="#000"/>
<rect x="627" y="320" width="5" height="60" fill="#000"/>
<rect x="637" y="276" width="1" height="104" fill="#000"/>
<rect x="635.5" y="363.5" width="4" height="16" fill="#fff" stroke="#000" stroke-width="1"/>
<rect x="645" y="359" width="1" height="59" fill="#000"/>
<rect x="643" y="363" width="5" height="2" fill="#000"/>
<rect x="653" y="350" width="1" height="38" fill="#000"/>
<rect x="651" y="364" width="5" height="13" fill="#000"/>
<rect x="661" y="371" width="1" height="122" fill="#000"/>
<rect x="659" y="376" width="5" height="86" fill="#000"/>
<rect x="669" y="364" width="1" height="153" fill="#000"/>
<rect x="667.5" y="388.5" width="4" height="72" fill="#fff" stroke="#000" stroke-width="1"/>
<rect x="677" y="343" width="1" height="72" fill="#000"/>
<rect x="675.5" y="354.5" width="4" height="34" fill="#fff" stroke="#000" stroke-width="1"/>
<rect x="685" y="327" width="1" height="96" fill="#000"/>
<rect x="683" y="353" width="5" height="10" fill="#000"/>
<rect x="693" y="328" width="1" height="72" fill="#000"/>
<rect x="691" y="362" width="5" height="26" fill="#000"/>
<rect x="701" y="298" width="1" height="94" fill="#000"/>
<rect x="699.5" y="298.5" width="4" height="88" fill="#fff" stroke="#000" stroke-width="1"/>
<rect x="709" y="298" width="1" height="36" fill="#000"/>
<rect x="707" y="298" width="5" height="24" fill="#000"/>
<rect x="717" y="283" width="1" height="40" fill="#000"/>
<rect x="715.5" y="298.5" width="4" height="23" fill="#fff" stroke="#000" stroke-width="1"/>
<rect x="725" y="258" width="1" height="43" fill="#000"/>
<rect x="723.5" y="264.5" width="4" height="34" fill="#fff" stroke="#000" stroke-width="1"/>
<rect x="733" y="265" width="1" height="109" fill="#000"/>
<rect x="731" y="265" width="5" height="100" fill="#000"/>
<rect x="741" y="307" width="1" height="66" fill="#000"/>
<rect x="739.5" y="316.5" width="4" height="48" fill="#fff" stroke="#000" stroke-width="1"/>
<rect x="749" y="298" width="1" height="26" fill="#000"/>
<rect x="747.5" y="310.5" width="4" height="6" fill="#fff" stroke="#000" stroke-width="1"/>
<rect x="757" y="293" width="1" height="21" fill="#000"/>
<rect x="755.5" y="298.5" width="4" height="12" fill="#fff" stroke="#000" stroke-width="1"/>
<rect x="765" y="284" width="1" height="22" fill="#000"/>
<rect x="763.5" y="294.5" width="4" height="4" fill="#fff" stroke="#000" stroke-width="1"/>
<rect x="773" y="260" width="1" height="44" fill="#000"/>
<rect x="771" y="294" width="5" height="5" fill="#000"/>
<rect x="781" y="258" width="1" height="56" fill="#000"/>
<rect x="779.5" y="275.5" width="4" height="24" fill="#fff" stroke="#000" stroke-width="1"/>
<rect x="789" y="255" width="1" height="51" fill="#000"/>
<rect x="787" y="275" width="5" height="24" fill="#000"/>
<rect x="797" y="297" width="1" height="26" fill="#000"/>
<rect x="795" y="297" width="5" height="7" fill="#000"/>
<rect x="805" y="316" width="1" height="21" fill="#000"/>
<rect x="803.5" y="321.5" width="4" height="13" fill="#fff" stroke="#000" stroke-width="1"/>
<rect x="813" y="315" width="1" height="14" fill="#000"/>
<rect x="811.5" y="317.5" width="4" height="6" fill="#fff" stroke="#000" stroke-width="1"/>
<rect x="821" y="313" width="1" height="54" fill="#000"/>
<rect x="819" y="318" width="5" height="44" fill="#000"/>
<rect x="829" y="328" width="1" height="52" fill="#000"/>
<rect x="827" y="362" width="5" height="11" fill="#000"/>
<rect x="837" y="327" width="1" height="51" fill="#000"/>
<rect x="835.5" y="346.5" width="4" height="27" fill="#fff" stroke="#000" stroke-width="1"/>
<rect x="845" y="318" width="1" height="37" fill="#000"/>
<rect x="843.5" y="322.5" width="4" height="24" fill="#fff" stroke="#000" stroke-width="1"/>
<rect x="853" y="319" width="1" height="18" fill="#000"/>
<rect x="851" y="321" width="5" height="5" fill="#000"/>
<rect x="861" y="286" width="1" height="41" fill="#000"/>
<rect x="859.5" y="310.5" width="4" height="16" fill="#fff" stroke="#000" stroke-width="1"/>
<rect x="869" y="302" width="1" height="45" fill="#000"/>
<rect x="867" y="309" width="5" height="30" fill="#000"/>
<rect x="877" y="297" width="1" height="75" fill="#000"/>
<rect x="875.5" y="315.5" width="4" height="22" fill="#fff" stroke="#000" stroke-width="1"/>
<rect x="885" y="291" width="1" height="46" fill="#000"/>
<rect x="883.5" y="291.5" width="4" height="24" fill="#fff" stroke="#000" stroke-width="1"/>
<rect x="893" y="261" width="1" height="39" fill="#000"/>
<rect x="891.5" y="278.5" width="4" height="13" fill="#fff" stroke="#000" stroke-width="1"/>
<rect x="901" y="277" width="1" height="34" fill="#000"/>
<rect x="899" y="278" width="5" height="29" fill="#000"/>
<rect x="909" y="287" width="1" height="19" fill="#000"/>
<rect x="907.5" y="295.5" width="4" height="8" fill="#fff" stroke="#000" stroke-width="1"/>
<rect x="917" y="267" width="1" height="33" fill="#000"/>
<rect x="915" y="294" width="5" height="4" fill="#000"/>
<rect x="925" y="295" width="1" height="54" fill="#000"/>
<rect x="923" y="299" width="5" height="16" fill="#000"/>
<rect x="933" y="280" width="1" height="53" fill="#000"/>
<rect x="931.5" y="284.5" width="4" height="29" fill="#fff" stroke="#000" stroke-width="1"/>
<rect x="941" y="273" width="1" height="24" fill="#000"/>
<rect x="939" y="285" width="5" height="6" fill="#000"/>
<rect x="949" y="268" width="1" height="35" fill="#000"/>
<rect x="947.5" y="278.5" width="4" height="13" fill="#fff" stroke="#000" stroke-width="1"/>
<rect x="957" y="256" width="1" height="25" fill="#000"/>
<rect x="955.5" y="262.5" width="4" height="16" fill="#fff" stroke="#000" stroke-width="1"/>
<rect x="965" y="255" width="1" height="22" fill="#000"/>
<rect x="963" y="262" width="5" height="7" fill="#000"/>
<rect x="973" y="226" width="1" height="58" fill="#000"/>
<rect x="971.5" y="241.5" width="4" height="27" fill="#fff" stroke="#000" stroke-width="1"/>
<rect x="981" y="208" width="1" height="58" fill="#000"/>
<rect x="979.5" y="216.5" width="4" height="25" fill="#fff" stroke="#000" stroke-width="1"/>
<rect x="989" y="185" width="1" height="38" fill="#000"/>
<rect x="987.5" y="209.5" width="4" height="8" fill="#fff" stroke="#000" stroke-width="1"/>
<rect x="997" y="181" width="1" height="30" fill="#000"/>
<rect x="995.5" y="191.5" width="4" height="19" fill="#fff" stroke="#000" stroke-width="1"/>
<rect x="1005" y="180" width="1" height="31" fill="#000"/>
<rect x="1003.5" y="188.5" width="4" height="5" fill="#fff" stroke="#000" stroke-width="1"/>
<rect x="1013" y="167" width="1" height="34" fill="#000"/>
<rect x="1011.5" y="180.5" width="4" height="8" fill="#fff" stroke="#000" stroke-width="1"/>
<rect x="1021" y="141" width="1" height="116" fill="#000"/>
<rect x="1019" y="179" width="5" height="66" fill="#000"/>
<rect x="1029" y="216" width="1" height="53" fill="#000"/>
<rect x="1027" y="244" width="5" height="6" fill="#000"/>
<rect x="1037" y="243" width="1" height="34" fill="#000"/>
<rect x="1035" y="250" width="5" height="19" fill="#000"/>
<rect x="1045" y="274" width="1" height="17" fill="#000"/>
<rect x="1043.5" y="276.5" width="4" height="14" fill="#fff" stroke="#000" stroke-width="1"/>
<rect x="1053" y="271" width="1" height="16" fill="#000"/>
<rect x="1051" y="276" width="5" height="3" fill="#000"/>
<rect x="1061" y="277" width="1" height="47" fill="#000"/>
<rect x="1059" y="277" width="5" height="44" fill="#000"/>
<rect x="1069" y="279" width="1" height="53" fill="#000"/>
<rect x="1067.5" y="286.5" width="4" height="34" fill="#fff" stroke="#000" stroke-width="1"/>
<rect x="1077" y="273" width="1" height="33" fill="#000"/>
<rect x="1075" y="286" width="5" height="7" fill="#000"/>
<rect x="1085" y="281" width="1" height="13" fill="#000"/>
<rect x="1083.5" y="284.5" width="4" height="7" fill="#fff" stroke="#000" stroke-width="1"/>
<rect x="1093" y="270" width="1" height="15" fill="#000"/>
<rect x="1091.5" y="281.5" width="4" height="3" fill="#fff" stroke="#000" stroke-width="1"/>
<rect x="1101" y="277" width="1" height="49" fill="#000"/>
<rect x="1099" y="279" width="5" height="20" fill="#000"/>
<rect x="1109" y="285" width="1" height="36" fill="#000"/>
<rect x="1107" y="297" width="5" height="9" fill="#000"/>
<rect x="1117" y="227" width="1" height="95" fill="#000"/>
<rect x="1115.5" y="231.5" width="4" height="74" fill="#fff" stroke="#000" stroke-width="1"/>
<rect x="1125" y="202" width="1" height="63" fill="#000"/>
<rect x="1123" y="231" width="5" height="23" fill="#000"/>
<rect x="1133" y="246" width="1" height="37" fill="#000"/>
<rect x="1131" y="253" width="5" height="28" fill="#000"/>
<rect x="1141" y="265" width="1" height="26" fill="#000"/>
<rect x="1139.5" y="267.5" width="4" height="12" fill="#fff" stroke="#000" stroke-width="1"/>
<rect x="1149" y="243" width="1" height="31" fill="#000"/>
<rect x="1147.5" y="260.5" width="4" height="6" fill="#fff" stroke="#000" stroke-width="1"/>
<rect x="1157" y="221" width="1" height="44" fill="#000"/>
<rect x="1155.5" y="242.5" width="4" height="18" fill="#fff" stroke="#000" stroke-width="1"/>
<rect x="1165" y="187" width="1" height="82" fill="#000"/>
<rect x="1163.5" y="195.5" width="4" height="50" fill="#fff" stroke="#000" stroke-width="1"/>
<rect x="1173" y="132" width="1" height="64" fill="#000"/>
<rect x="1171.5" y="153.5" width="4" height="42" fill="#fff" stroke="#000" stroke-width="1"/>
<rect x="1181" y="148" width="1" height="35" fill="#000"/>
<rect x="1179" y="153" width="5" height="13" fill="#000"/>
<rect x="1189" y="160" width="1" height="29" fill="#000"/>
<rect x="1187" y="163" width="5" height="12" fill="#000"/>
<rect x="1197" y="166" width="1" height="43" fill="#000"/>
<rect x="1195" y="173" width="5" height="36" fill="#000"/>
<rect x="1205" y="188" width="1" height="50" fill="#000"/>
<rect x="1203.5" y="190.5" width="4" height="16" fill="#fff" stroke="#000" stroke-width="1"/>
<rect x="1213" y="190" width="1" height="42" fill="#000"/>
<rect x="1211" y="192" width="5" height="20" fill="#000"/>
<rect x="1221" y="202" width="1" height="85" fill="#000"/>
<rect x="1219" y="210" width="5" height="46" fill="#000"/>
<rect x="1229" y="235" width="1" height="51" fill="#000"/>
<rect x="1227.5" y="236.5" width="4" height="19" fill="#fff" stroke="#000" stroke-width="1"/>
<rect x="1237" y="225" width="1" height="21" fill="#000"/>
<rect x="1235.5" y="228.5" width="4" height="8" fill="#fff" stroke="#000" stroke-width="1"/>
<rect x="1245" y="226" width="1" height="25" fill="#000"/>
<rect x="1243" y="229" width="5" height="9" fill="#000"/>
<rect x="1253" y="211" width="1" height="27" fill="#000"/>
<rect x="1251.5" y="223.5" width="4" height="14" fill="#fff" stroke="#000" stroke-width="1"/>
<rect x="1261" y="158" width="1" height="116" fill="#000"/>
<rect x="1259" y="224" width="5" height="35" fill="#000"/>
<rect x="1269" y="248" width="1" height="84" fill="#000"/>
<rect x="1267" y="258" width="5" height="51" fill="#000"/>
<rect x="1277" y="305" width="1" height="36" fill="#000"/>
<rect x="1275" y="308" width="5" height="13" fill="#000"/>
<rect x="1285" y="369" width="1" height="44" fill="#000"/>
<rect x="1283" y="369" width="5" height="40" fill="#000"/>
<rect x="1293" y="364" width="1" height="45" fill="#000"/>
<rect x="1291.5" y="375.5" width="4" height="33" fill="#fff" stroke="#000" stroke-width="1"/>
<rect x="1301" y="346" width="1" height="40" fill="#000"/>
<rect x="1299.5" y="349.5" width="4" height="23" fill="#fff" stroke="#000" stroke-width="1"/>
<rect x="1309" y="337" width="1" height="52" fill="#000"/>
<rect x="1307" y="348" width="5" height="17" fill="#000"/>
<rect x="1317" y="363" width="1" height="42" fill="#000"/>
<rect x="1315" y="364" width="5" height="36" fill="#000"/>
<rect x="1325" y="380" width="1" height="31" fill="#000"/>
<rect x="1323" y="398" width="5" height="8" fill="#000"/>
<rect x="1333" y="394" width="1" height="13" fill="#000"/>
<rect x="1331.5" y="399.5" width="4" height="6" fill="#fff" stroke="#000" stroke-width="1"/>
</g>
<path d="M1326 27h9v1h-1v1h-1v1h-1v1h-1v1h-1v-1h-1v-1h-1v-1h-1v-1h-1z" fill="#c0c0c0" shape-rendering="crispEdges"/>
<rect x="1279" y="369" width="82" height="14" fill="#00ff00"/>
</g>
<rect x="1446" y="375" width="8" height="1" fill="#ff0000"/>
<rect x="1453.5" y="373.5" width="3" height="3" fill="#fff" stroke="#f00" shape-rendering="crispEdges"/>
<rect x="1456.5" y="359.5" width="99" height="32" fill="#fff" stroke="#ff0000" stroke-width="1" shape-rendering="crispEdges"/>
<text x="1506.2" y="384.8" font-size="27" fill="#ff0000" text-anchor="middle" textLength="96.5" lengthAdjust="spacingAndGlyphs">142.389</text>
<text x="1387.6" y="468" fill="#103010" style="font-family:'Liberation Serif','Noto Serif CJK SC',serif;font-weight:500;font-size:30px" textLength="162.5" lengthAdjust="spacing">多空转折点</text>
<text x="1386.6" y="467" fill="#00ff00" style="font-family:'Liberation Serif','Noto Serif CJK SC',serif;font-weight:500;font-size:30px" textLength="162.5" lengthAdjust="spacing">多空转折点</text>
<g clip-path="url(#cmacd)">
<g shape-rendering="crispEdges">
<rect x="5" y="639" width="1" height="37" fill="#c0c0c0"/>
<rect x="13" y="659" width="1" height="17" fill="#c0c0c0"/>
<rect x="21" y="674" width="1" height="2" fill="#c0c0c0"/>
<rect x="29" y="675" width="1" height="13" fill="#c0c0c0"/>
<rect x="37" y="675" width="1" height="26" fill="#c0c0c0"/>
<rect x="45" y="675" width="1" height="34" fill="#c0c0c0"/>
<rect x="53" y="675" width="1" height="42" fill="#c0c0c0"/>
<rect x="61" y="675" width="1" height="46" fill="#c0c0c0"/>
<rect x="69" y="675" width="1" height="50" fill="#c0c0c0"/>
<rect x="77" y="675" width="1" height="51" fill="#c0c0c0"/>
<rect x="85" y="675" width="1" height="49" fill="#c0c0c0"/>
<rect x="93" y="675" width="1" height="53" fill="#c0c0c0"/>
<rect x="101" y="675" width="1" height="62" fill="#c0c0c0"/>
<rect x="109" y="675" width="1" height="71" fill="#c0c0c0"/>
<rect x="117" y="675" width="1" height="75" fill="#c0c0c0"/>
<rect x="125" y="675" width="1" height="77" fill="#c0c0c0"/>
<rect x="133" y="675" width="1" height="79" fill="#c0c0c0"/>
<rect x="141" y="675" width="1" height="77" fill="#c0c0c0"/>
<rect x="149" y="675" width="1" height="73" fill="#c0c0c0"/>
<rect x="157" y="675" width="1" height="71" fill="#c0c0c0"/>
<rect x="165" y="675" width="1" height="70" fill="#c0c0c0"/>
<rect x="173" y="675" width="1" height="69" fill="#c0c0c0"/>
<rect x="181" y="675" width="1" height="66" fill="#c0c0c0"/>
<rect x="189" y="675" width="1" height="68" fill="#c0c0c0"/>
<rect x="197" y="675" width="1" height="75" fill="#c0c0c0"/>
<rect x="205" y="675" width="1" height="78" fill="#c0c0c0"/>
<rect x="213" y="675" width="1" height="79" fill="#c0c0c0"/>
<rect x="221" y="675" width="1" height="78" fill="#c0c0c0"/>
<rect x="229" y="675" width="1" height="79" fill="#c0c0c0"/>
<rect x="237" y="675" width="1" height="77" fill="#c0c0c0"/>
<rect x="245" y="675" width="1" height="73" fill="#c0c0c0"/>
<rect x="253" y="675" width="1" height="70" fill="#c0c0c0"/>
<rect x="261" y="675" width="1" height="69" fill="#c0c0c0"/>
<rect x="269" y="675" width="1" height="63" fill="#c0c0c0"/>
<rect x="277" y="675" width="1" height="54" fill="#c0c0c0"/>
<rect x="285" y="675" width="1" height="45" fill="#c0c0c0"/>
<rect x="293" y="675" width="1" height="40" fill="#c0c0c0"/>
<rect x="301" y="675" width="1" height="31" fill="#c0c0c0"/>
<rect x="309" y="675" width="1" height="23" fill="#c0c0c0"/>
<rect x="317" y="675" width="1" height="17" fill="#c0c0c0"/>
<rect x="325" y="675" width="1" height="14" fill="#c0c0c0"/>
<rect x="333" y="675" width="1" height="6" fill="#c0c0c0"/>
<rect x="341" y="672" width="1" height="4" fill="#c0c0c0"/>
<rect x="349" y="661" width="1" height="15" fill="#c0c0c0"/>
<rect x="357" y="655" width="1" height="21" fill="#c0c0c0"/>
<rect x="365" y="651" width="1" height="25" fill="#c0c0c0"/>
<rect x="373" y="649" width="1" height="27" fill="#c0c0c0"/>
<rect x="381" y="647" width="1" height="29" fill="#c0c0c0"/>
<rect x="389" y="646" width="1" height="30" fill="#c0c0c0"/>
<rect x="397" y="649" width="1" height="27" fill="#c0c0c0"/>
<rect x="405" y="654" width="1" height="22" fill="#c0c0c0"/>
<rect x="413" y="658" width="1" height="18" fill="#c0c0c0"/>
<rect x="421" y="660" width="1" height="16" fill="#c0c0c0"/>
<rect x="429" y="663" width="1" height="13" fill="#c0c0c0"/>
<rect x="437" y="658" width="1" height="18" fill="#c0c0c0"/>
<rect x="445" y="649" width="1" height="27" fill="#c0c0c0"/>
<rect x="453" y="644" width="1" height="32" fill="#c0c0c0"/>
<rect x="461" y="638" width="1" height="38" fill="#c0c0c0"/>
<rect x="469" y="634" width="1" height="42" fill="#c0c0c0"/>
<rect x="477" y="635" width="1" height="41" fill="#c0c0c0"/>
<rect x="485" y="634" width="1" height="42" fill="#c0c0c0"/>
<rect x="493" y="637" width="1" height="39" fill="#c0c0c0"/>
<rect x="501" y="647" width="1" height="29" fill="#c0c0c0"/>
<rect x="509" y="659" width="1" height="17" fill="#c0c0c0"/>
<rect x="517" y="666" width="1" height="10" fill="#c0c0c0"/>
<rect x="525" y="675" width="1" height="1" fill="#c0c0c0"/>
<rect x="533" y="675" width="1" height="19" fill="#c0c0c0"/>
<rect x="541" y="675" width="1" height="35" fill="#c0c0c0"/>
<rect x="549" y="675" width="1" height="45" fill="#c0c0c0"/>
<rect x="557" y="675" width="1" height="51" fill="#c0c0c0"/>
<rect x="565" y="675" width="1" height="57" fill="#c0c0c0"/>
<rect x="573" y="675" width="1" height="59" fill="#c0c0c0"/>
<rect x="581" y="675" width="1" height="62" fill="#c0c0c0"/>
<rect x="589" y="675" width="1" height="54" fill="#c0c0c0"/>
<rect x="597" y="675" width="1" height="43" fill="#c0c0c0"/>
<rect x="605" y="675" width="1" height="32" fill="#c0c0c0"/>
<rect x="613" y="675" width="1" height="22" fill="#c0c0c0"/>
<rect x="621" y="675" width="1" height="13" fill="#c0c0c0"/>
<rect x="629" y="675" width="1" height="12" fill="#c0c0c0"/>
<rect x="637" y="675" width="1" height="9" fill="#c0c0c0"/>
<rect x="645" y="675" width="1" height="7" fill="#c0c0c0"/>
<rect x="653" y="675" width="1" height="6" fill="#c0c0c0"/>
<rect x="661" y="675" width="1" height="13" fill="#c0c0c0"/>
<rect x="669" y="675" width="1" height="12" fill="#c0c0c0"/>
<rect x="677" y="675" width="1" height="7" fill="#c0c0c0"/>
<rect x="685" y="675" width="1" height="5" fill="#c0c0c0"/>
<rect x="693" y="675" width="1" height="5" fill="#c0c0c0"/>
<rect x="701" y="673" width="1" height="3" fill="#c0c0c0"/>
<rect x="709" y="669" width="1" height="7" fill="#c0c0c0"/>
<rect x="717" y="663" width="1" height="13" fill="#c0c0c0"/>
<rect x="725" y="656" width="1" height="20" fill="#c0c0c0"/>
<rect x="733" y="660" width="1" height="16" fill="#c0c0c0"/>
<rect x="741" y="659" width="1" height="17" fill="#c0c0c0"/>
<rect x="749" y="657" width="1" height="19" fill="#c0c0c0"/>
<rect x="757" y="655" width="1" height="21" fill="#c0c0c0"/>
<rect x="765" y="654" width="1" height="22" fill="#c0c0c0"/>
<rect x="773" y="653" width="1" height="23" fill="#c0c0c0"/>
<rect x="781" y="651" width="1" height="25" fill="#c0c0c0"/>
<rect x="789" y="651" width="1" height="25" fill="#c0c0c0"/>
<rect x="797" y="652" width="1" height="24" fill="#c0c0c0"/>
<rect x="805" y="655" width="1" height="21" fill="#c0c0c0"/>
<rect x="813" y="657" width="1" height="19" fill="#c0c0c0"/>
<rect x="821" y="663" width="1" height="13" fill="#c0c0c0"/>
<rect x="829" y="669" width="1" height="7" fill="#c0c0c0"/>
<rect x="837" y="671" width="1" height="5" fill="#c0c0c0"/>
<rect x="845" y="671" width="1" height="5" fill="#c0c0c0"/>
<rect x="853" y="671" width="1" height="5" fill="#c0c0c0"/>
<rect x="861" y="670" width="1" height="6" fill="#c0c0c0"/>
<rect x="869" y="671" width="1" height="5" fill="#c0c0c0"/>
<rect x="877" y="670" width="1" height="6" fill="#c0c0c0"/>
<rect x="885" y="668" width="1" height="8" fill="#c0c0c0"/>
<rect x="893" y="664" width="1" height="12" fill="#c0c0c0"/>
<rect x="901" y="664" width="1" height="12" fill="#c0c0c0"/>
<rect x="909" y="664" width="1" height="12" fill="#c0c0c0"/>
<rect x="917" y="662" width="1" height="14" fill="#c0c0c0"/>
<rect x="925" y="665" width="1" height="11" fill="#c0c0c0"/>
<rect x="933" y="662" width="1" height="14" fill="#c0c0c0"/>
<rect x="941" y="662" width="1" height="14" fill="#c0c0c0"/>
<rect x="949" y="662" width="1" height="14" fill="#c0c0c0"/>
<rect x="957" y="659" width="1" height="17" fill="#c0c0c0"/>
<rect x="965" y="658" width="1" height="18" fill="#c0c0c0"/>
<rect x="973" y="655" width="1" height="21" fill="#c0c0c0"/>
<rect x="981" y="651" width="1" height="25" fill="#c0c0c0"/>
<rect x="989" y="647" width="1" height="29" fill="#c0c0c0"/>
<rect x="997" y="642" width="1" height="34" fill="#c0c0c0"/>
<rect x="1005" y="639" width="1" height="37" fill="#c0c0c0"/>
<rect x="1013" y="636" width="1" height="40" fill="#c0c0c0"/>
<rect x="1021" y="640" width="1" height="36" fill="#c0c0c0"/>
<rect x="1029" y="644" width="1" height="32" fill="#c0c0c0"/>
<rect x="1037" y="649" width="1" height="27" fill="#c0c0c0"/>
<rect x="1045" y="655" width="1" height="21" fill="#c0c0c0"/>
<rect x="1053" y="659" width="1" height="17" fill="#c0c0c0"/>
<rect x="1061" y="667" width="1" height="9" fill="#c0c0c0"/>
<rect x="1069" y="670" width="1" height="6" fill="#c0c0c0"/>
<rect x="1077" y="673" width="1" height="3" fill="#c0c0c0"/>
<rect x="1085" y="674" width="1" height="2" fill="#c0c0c0"/>
<rect x="1093" y="675" width="1" height="1" fill="#c0c0c0"/>
<rect x="1101" y="675" width="1" height="1" fill="#c0c0c0"/>
<rect x="1109" y="675" width="1" height="4" fill="#c0c0c0"/>
<rect x="1117" y="675" width="1" height="1" fill="#c0c0c0"/>
<rect x="1125" y="674" width="1" height="2" fill="#c0c0c0"/>
<rect x="1133" y="674" width="1" height="2" fill="#c0c0c0"/>
<rect x="1141" y="674" width="1" height="2" fill="#c0c0c0"/>
<rect x="1149" y="673" width="1" height="3" fill="#c0c0c0"/>
<rect x="1157" y="671" width="1" height="5" fill="#c0c0c0"/>
<rect x="1165" y="665" width="1" height="11" fill="#c0c0c0"/>
<rect x="1173" y="656" width="1" height="20" fill="#c0c0c0"/>
<rect x="1181" y="651" width="1" height="25" fill="#c0c0c0"/>
<rect x="1189" y="647" width="1" height="29" fill="#c0c0c0"/>
<rect x="1197" y="648" width="1" height="28" fill="#c0c0c0"/>
<rect x="1205" y="648" width="1" height="28" fill="#c0c0c0"/>
<rect x="1213" y="650" width="1" height="26" fill="#c0c0c0"/>
<rect x="1221" y="656" width="1" height="20" fill="#c0c0c0"/>
<rect x="1229" y="659" width="1" height="17" fill="#c0c0c0"/>
<rect x="1237" y="661" width="1" height="15" fill="#c0c0c0"/>
<rect x="1245" y="663" width="1" height="13" fill="#c0c0c0"/>
<rect x="1253" y="664" width="1" height="12" fill="#c0c0c0"/>
<rect x="1261" y="668" width="1" height="8" fill="#c0c0c0"/>
<rect x="1269" y="675" width="1" height="1" fill="#c0c0c0"/>
<rect x="1277" y="675" width="1" height="7" fill="#c0c0c0"/>
<rect x="1285" y="675" width="1" height="21" fill="#c0c0c0"/>
<rect x="1293" y="675" width="1" height="29" fill="#c0c0c0"/>
<rect x="1301" y="675" width="1" height="32" fill="#c0c0c0"/>
<rect x="1309" y="675" width="1" height="35" fill="#c0c0c0"/>
<rect x="1317" y="675" width="1" height="41" fill="#c0c0c0"/>
<rect x="1325" y="675" width="1" height="45" fill="#c0c0c0"/>
<rect x="1333" y="675" width="1" height="47" fill="#c0c0c0"/>
</g>
<path d="M1 579h1v1h-1zM2 580h1v1h-1zM3 581h1v1h-1zM6 585h1v1h-1zM7 586h1v1h-1zM8 587h1v1h-1zM11 591h1v2h-1zM12 593h1v1h-1zM14 597h1v1h-1zM15 598h1v2h-1zM18 603h1v2h-1zM19 605h1v1h-1zM21 609h1v1h-1zM22 610h1v1h-1zM23 611h1v1h-1zM25 615h1v1h-1zM26 616h1v2h-1zM29 621h1v2h-1zM30 623h1v1h-1zM32 627h1v1h-1zM33 628h1v2h-1zM35 633h1v1h-1zM36 634h1v2h-1zM38 639h1v1h-1zM39 640h1v2h-1zM42 645h1v2h-1zM43 647h1v1h-1zM45 651h1v2h-1zM46 653h1v1h-1zM48 657h1v2h-1zM49 659h1v1h-1zM51 663h1v1h-1zM52 664h1v1h-1zM53 665h1v1h-1zM55 669h1v1h-1zM56 670h1v2h-1zM59 675h1v2h-1zM60 677h1v1h-1zM63 681h1v2h-1zM64 683h1v1h-1zM67 687h1v2h-1zM68 689h1v1h-1zM71 693h1v1h-1zM72 694h1v2h-1zM75 699h1v1h-1zM76 700h1v1h-1zM77 701h1v1h-1zM80 705h1v1h-1zM81 706h1v1h-1zM82 707h1v1h-1zM86 710h1v1h-1zM87 711h2v1h-2zM92 714h1v1h-1zM93 715h1v1h-1zM94 716h1v1h-1zM98 719h2v1h-2zM100 720h1v1h-1zM104 723h1v1h-1zM105 724h2v1h-2zM110 727h1v1h-1zM111 728h2v1h-2zM116 731h2v1h-2zM118 732h1v1h-1zM122 734h2v1h-2zM124 735h1v1h-1zM128 736h1v1h-1zM129 737h2v1h-2zM134 738h1v1h-1zM135 739h2v1h-2zM140 740h1v1h-1zM141 741h2v1h-2zM146 743h1v1h-1zM147 744h2v1h-2zM152 745h1v1h-1zM153 746h2v1h-2zM158 747h3v1h-3zM164 748h3v1h-3zM170 749h3v1h-3zM176 748h3v1h-3zM182 747h3v1h-3zM188 747h3v1h-3zM194 747h3v1h-3zM200 747h3v1h-3zM206 747h3v1h-3zM212 747h3v1h-3zM218 747h3v1h-3zM224 748h3v1h-3zM230 748h3v1h-3zM236 749h3v1h-3zM242 750h3v1h-3zM248 750h3v1h-3zM254 750h3v1h-3zM260 750h3v1h-3zM266 749h2v1h-2zM268 748h1v1h-1zM272 747h3v1h-3zM278 746h1v1h-1zM279 745h2v1h-2zM284 743h1v1h-1zM285 742h2v1h-2zM290 740h1v1h-1zM291 739h2v1h-2zM296 736h2v1h-2zM298 735h1v1h-1zM302 732h2v1h-2zM304 731h1v1h-1zM308 728h1v1h-1zM309 727h1v1h-1zM310 726h1v1h-1zM314 723h1v1h-1zM315 722h2v1h-2zM320 719h1v1h-1zM321 718h1v1h-1zM322 717h1v1h-1zM326 714h1v1h-1zM327 713h2v1h-2zM332 709h1v1h-1zM333 708h1v1h-1zM334 707h1v1h-1zM338 704h1v1h-1zM339 703h1v1h-1zM340 702h1v1h-1zM344 698h1v1h-1zM345 697h1v1h-1zM346 696h1v1h-1zM350 692h1v1h-1zM351 691h1v1h-1zM352 690h1v1h-1zM356 686h1v1h-1zM357 685h1v1h-1zM358 684h1v1h-1zM362 680h1v1h-1zM363 679h1v1h-1zM364 678h1v1h-1zM368 675h1v1h-1zM369 674h1v1h-1zM370 673h1v1h-1zM374 671h1v1h-1zM375 670h1v1h-1zM376 669h1v1h-1zM380 667h1v1h-1zM381 666h2v1h-2zM386 663h1v1h-1zM387 662h1v1h-1zM388 661h1v1h-1zM392 659h1v1h-1zM393 658h2v1h-2zM398 656h1v1h-1zM399 655h2v1h-2zM404 653h3v1h-3zM410 651h3v1h-3zM416 651h3v1h-3zM422 651h3v1h-3zM428 652h3v1h-3zM434 652h3v1h-3zM440 653h3v1h-3zM446 653h3v1h-3zM452 652h3v1h-3zM458 651h3v1h-3zM464 650h3v1h-3zM470 649h3v1h-3zM476 648h3v1h-3zM482 646h2v1h-2zM484 645h1v1h-1zM488 644h2v1h-2zM490 643h1v1h-1zM494 642h2v1h-2zM496 641h1v1h-1zM500 641h3v1h-3zM506 641h3v1h-3zM512 642h3v1h-3zM518 643h2v1h-2zM520 644h1v1h-1zM524 646h2v1h-2zM526 647h1v1h-1zM530 650h1v1h-1zM531 651h1v1h-1zM532 652h1v1h-1zM536 656h1v1h-1zM537 657h1v1h-1zM538 658h1v1h-1zM541 662h1v1h-1zM542 663h1v1h-1zM543 664h1v1h-1zM546 668h1v1h-1zM547 669h1v1h-1zM548 670h1v1h-1zM551 674h1v1h-1zM552 675h1v1h-1zM553 676h1v1h-1zM556 680h1v1h-1zM557 681h1v1h-1zM558 682h1v1h-1zM561 686h1v2h-1zM562 688h1v1h-1zM565 692h1v1h-1zM566 693h1v1h-1zM567 694h1v1h-1zM570 698h1v1h-1zM571 699h1v1h-1zM572 700h1v1h-1zM575 704h1v2h-1zM576 706h1v1h-1zM579 710h1v1h-1zM580 711h1v1h-1zM581 712h1v1h-1zM585 715h1v1h-1zM586 716h1v1h-1zM587 717h1v1h-1zM591 720h2v1h-2zM593 721h1v1h-1zM597 722h1v1h-1zM598 723h2v1h-2zM603 723h1v1h-1zM604 724h2v1h-2zM609 723h3v1h-3zM615 722h1v1h-1zM616 721h2v1h-2zM621 719h2v1h-2zM623 718h1v1h-1zM627 715h1v1h-1zM628 714h2v1h-2zM633 711h2v1h-2zM635 710h1v1h-1zM639 707h2v1h-2zM641 706h1v1h-1zM645 703h1v1h-1zM646 702h1v1h-1zM647 701h1v1h-1zM651 698h1v1h-1zM652 697h2v1h-2zM657 694h2v1h-2zM659 693h1v1h-1zM663 692h1v1h-1zM664 691h2v1h-2zM669 689h2v1h-2zM671 688h1v1h-1zM675 687h2v1h-2zM677 686h1v1h-1zM681 685h3v1h-3zM687 684h3v1h-3zM693 683h3v1h-3zM699 682h3v1h-3zM705 681h1v1h-1zM706 680h2v1h-2zM711 679h3v1h-3zM717 677h3v1h-3zM723 676h1v1h-1zM724 675h2v1h-2zM729 673h2v1h-2zM731 672h1v1h-1zM735 671h1v1h-1zM736 670h2v1h-2zM741 668h3v1h-3zM747 666h2v1h-2zM749 665h1v1h-1zM753 664h2v1h-2zM755 663h1v1h-1zM759 662h2v1h-2zM761 661h1v1h-1zM765 660h1v1h-1zM766 659h2v1h-2zM771 658h1v1h-1zM772 657h2v1h-2zM777 656h1v1h-1zM778 655h2v1h-2zM783 654h3v1h-3zM789 654h3v1h-3zM795 654h3v1h-3zM801 654h3v1h-3zM807 654h2v1h-2zM809 653h1v1h-1zM813 653h3v1h-3zM819 653h2v1h-2zM821 654h1v1h-1zM825 654h3v1h-3zM831 655h3v1h-3zM837 657h3v1h-3zM843 659h3v1h-3zM849 661h3v1h-3zM855 662h2v1h-2zM857 663h1v1h-1zM861 664h3v1h-3zM867 665h3v1h-3zM873 666h2v1h-2zM875 667h1v1h-1zM879 667h2v1h-2zM881 668h1v1h-1zM885 668h3v1h-3zM891 669h3v1h-3zM897 668h3v1h-3zM903 668h1v1h-1zM904 667h2v1h-2zM909 667h3v1h-3zM915 667h1v1h-1zM916 666h2v1h-2zM921 666h3v1h-3zM927 666h2v1h-2zM929 665h1v1h-1zM933 665h3v1h-3zM939 664h3v1h-3zM945 663h3v1h-3zM951 663h1v1h-1zM952 662h2v1h-2zM957 662h2v1h-2zM959 661h1v1h-1zM963 661h3v1h-3zM969 660h3v1h-3zM975 659h3v1h-3zM981 659h1v1h-1zM982 658h2v1h-2zM987 657h3v1h-3zM993 656h2v1h-2zM995 655h1v1h-1zM999 654h2v1h-2zM1001 653h1v1h-1zM1005 652h1v1h-1zM1006 651h2v1h-2zM1011 649h3v1h-3zM1017 647h2v1h-2zM1019 646h1v1h-1zM1023 645h3v1h-3zM1029 644h3v1h-3zM1035 644h3v1h-3zM1041 644h3v1h-3zM1047 644h3v1h-3zM1053 645h1v1h-1zM1054 646h2v1h-2zM1059 647h3v1h-3zM1065 649h3v1h-3zM1071 651h3v1h-3zM1077 653h1v1h-1zM1078 654h2v1h-2zM1083 656h1v1h-1zM1084 657h2v1h-2zM1089 659h1v1h-1zM1090 660h1v1h-1zM1091 661h1v1h-1zM1095 663h2v1h-2zM1097 664h1v1h-1zM1101 666h3v1h-3zM1107 668h2v1h-2zM1109 669h1v1h-1zM1113 670h3v1h-3zM1119 672h3v1h-3zM1125 673h3v1h-3zM1131 674h3v1h-3zM1137 674h3v1h-3zM1143 674h3v1h-3zM1149 674h3v1h-3zM1155 674h1v1h-1zM1156 673h2v1h-2zM1161 673h3v1h-3zM1167 672h3v1h-3zM1173 671h1v1h-1zM1174 670h2v1h-2zM1179 668h2v1h-2zM1181 667h1v1h-1zM1185 666h1v1h-1zM1186 665h2v1h-2zM1191 663h3v1h-3zM1197 661h3v1h-3zM1203 659h2v1h-2zM1205 658h1v1h-1zM1209 656h3v1h-3zM1215 655h1v1h-1zM1216 654h2v1h-2zM1221 653h3v1h-3zM1227 653h3v1h-3zM1233 652h3v1h-3zM1239 652h3v1h-3zM1245 653h3v1h-3zM1251 654h3v1h-3zM1257 655h3v1h-3zM1263 657h3v1h-3zM1269 659h1v1h-1zM1270 660h2v1h-2zM1275 662h1v1h-1zM1276 663h2v1h-2zM1281 666h2v1h-2zM1283 667h1v1h-1zM1287 670h2v1h-2zM1289 671h1v1h-1zM1293 674h2v1h-2zM1295 675h1v1h-1zM1299 678h1v1h-1zM1300 679h2v1h-2zM1305 682h1v1h-1zM1306 683h2v1h-2zM1311 686h1v1h-1zM1312 687h1v1h-1zM1313 688h1v1h-1zM1317 691h2v1h-2zM1319 692h1v1h-1zM1323 695h1v1h-1zM1324 696h1v1h-1zM1325 697h1v1h-1zM1329 700h1v1h-1zM1330 701h1v1h-1zM1331 702h1v1h-1z" fill="#ff0000" shape-rendering="crispEdges"/>
</g>
<g clip-path="url(#crsi)">
<path d="M-2 799h3v1h-3zM4 799h3v1h-3zM10 799h3v1h-3zM16 799h3v1h-3zM22 799h3v1h-3zM28 799h3v1h-3zM34 799h3v1h-3zM40 799h3v1h-3zM46 799h3v1h-3zM52 799h3v1h-3zM58 799h3v1h-3zM64 799h3v1h-3zM70 799h3v1h-3zM76 799h3v1h-3zM82 799h3v1h-3zM88 799h3v1h-3zM94 799h3v1h-3zM100 799h3v1h-3zM106 799h3v1h-3zM112 799h3v1h-3zM118 799h3v1h-3zM124 799h3v1h-3zM130 799h3v1h-3zM136 799h3v1h-3zM142 799h3v1h-3zM148 799h3v1h-3zM154 799h3v1h-3zM160 799h3v1h-3zM166 799h3v1h-3zM172 799h3v1h-3zM178 799h3v1h-3zM184 799h3v1h-3zM190 799h3v1h-3zM196 799h3v1h-3zM202 799h3v1h-3zM208 799h3v1h-3zM214 799h3v1h-3zM220 799h3v1h-3zM226 799h3v1h-3zM232 799h3v1h-3zM238 799h3v1h-3zM244 799h3v1h-3zM250 799h3v1h-3zM256 799h3v1h-3zM262 799h3v1h-3zM268 799h3v1h-3zM274 799h3v1h-3zM280 799h3v1h-3zM286 799h3v1h-3zM292 799h3v1h-3zM298 799h3v1h-3zM304 799h3v1h-3zM310 799h3v1h-3zM316 799h3v1h-3zM322 799h3v1h-3zM328 799h3v1h-3zM334 799h3v1h-3zM340 799h3v1h-3zM346 799h3v1h-3zM352 799h3v1h-3zM358 799h3v1h-3zM364 799h3v1h-3zM370 799h3v1h-3zM376 799h3v1h-3zM382 799h3v1h-3zM388 799h3v1h-3zM394 799h3v1h-3zM400 799h3v1h-3zM406 799h3v1h-3zM412 799h3v1h-3zM418 799h3v1h-3zM424 799h3v1h-3zM430 799h3v1h-3zM436 799h3v1h-3zM442 799h3v1h-3zM448 799h3v1h-3zM454 799h3v1h-3zM460 799h3v1h-3zM466 799h3v1h-3zM472 799h3v1h-3zM478 799h3v1h-3zM484 799h3v1h-3zM490 799h3v1h-3zM496 799h3v1h-3zM502 799h3v1h-3zM508 799h3v1h-3zM514 799h3v1h-3zM520 799h3v1h-3zM526 799h3v1h-3zM532 799h3v1h-3zM538 799h3v1h-3zM544 799h3v1h-3zM550 799h3v1h-3zM556 799h3v1h-3zM562 799h3v1h-3zM568 799h3v1h-3zM574 799h3v1h-3zM580 799h3v1h-3zM586 799h3v1h-3zM592 799h3v1h-3zM598 799h3v1h-3zM604 799h3v1h-3zM610 799h3v1h-3zM616 799h3v1h-3zM622 799h3v1h-3zM628 799h3v1h-3zM634 799h3v1h-3zM640 799h3v1h-3zM646 799h3v1h-3zM652 799h3v1h-3zM658 799h3v1h-3zM664 799h3v1h-3zM670 799h3v1h-3zM676 799h3v1h-3zM682 799h3v1h-3zM688 799h3v1h-3zM694 799h3v1h-3zM700 799h3v1h-3zM706 799h3v1h-3zM712 799h3v1h-3zM718 799h3v1h-3zM724 799h3v1h-3zM730 799h3v1h-3zM736 799h3v1h-3zM742 799h3v1h-3zM748 799h3v1h-3zM754 799h3v1h-3zM760 799h3v1h-3zM766 799h3v1h-3zM772 799h3v1h-3zM778 799h3v1h-3zM784 799h3v1h-3zM790 799h3v1h-3zM796 799h3v1h-3zM802 799h3v1h-3zM808 799h3v1h-3zM814 799h3v1h-3zM820 799h3v1h-3zM826 799h3v1h-3zM832 799h3v1h-3zM838 799h3v1h-3zM844 799h3v1h-3zM850 799h3v1h-3zM856 799h3v1h-3zM862 799h3v1h-3zM868 799h3v1h-3zM874 799h3v1h-3zM880 799h3v1h-3zM886 799h3v1h-3zM892 799h3v1h-3zM898 799h3v1h-3zM904 799h3v1h-3zM910 799h3v1h-3zM916 799h3v1h-3zM922 799h3v1h-3zM928 799h3v1h-3zM934 799h3v1h-3zM940 799h3v1h-3zM946 799h3v1h-3zM952 799h3v1h-3zM958 799h3v1h-3zM964 799h3v1h-3zM970 799h3v1h-3zM976 799h3v1h-3zM982 799h3v1h-3zM988 799h3v1h-3zM994 799h3v1h-3zM1000 799h3v1h-3zM1006 799h3v1h-3zM1012 799h3v1h-3zM1018 799h3v1h-3zM1024 799h3v1h-3zM1030 799h3v1h-3zM1036 799h3v1h-3zM1042 799h3v1h-3zM1048 799h3v1h-3zM1054 799h3v1h-3zM1060 799h3v1h-3zM1066 799h3v1h-3zM1072 799h3v1h-3zM1078 799h3v1h-3zM1084 799h3v1h-3zM1090 799h3v1h-3zM1096 799h3v1h-3zM1102 799h3v1h-3zM1108 799h3v1h-3zM1114 799h3v1h-3zM1120 799h3v1h-3zM1126 799h3v1h-3zM1132 799h3v1h-3zM1138 799h3v1h-3zM1144 799h3v1h-3zM1150 799h3v1h-3zM1156 799h3v1h-3zM1162 799h3v1h-3zM1168 799h3v1h-3zM1174 799h3v1h-3zM1180 799h3v1h-3zM1186 799h3v1h-3zM1192 799h3v1h-3zM1198 799h3v1h-3zM1204 799h3v1h-3zM1210 799h3v1h-3zM1216 799h3v1h-3zM1222 799h3v1h-3zM1228 799h3v1h-3zM1234 799h3v1h-3zM1240 799h3v1h-3zM1246 799h3v1h-3zM1252 799h3v1h-3zM1258 799h3v1h-3zM1264 799h3v1h-3zM1270 799h3v1h-3zM1276 799h3v1h-3zM1282 799h3v1h-3zM1288 799h3v1h-3zM1294 799h3v1h-3zM1300 799h3v1h-3zM1306 799h3v1h-3zM1312 799h3v1h-3zM1318 799h3v1h-3zM1324 799h3v1h-3zM1330 799h3v1h-3zM1336 799h3v1h-3zM1342 799h3v1h-3zM1348 799h3v1h-3zM1354 799h3v1h-3zM1360 799h3v1h-3zM1366 799h3v1h-3zM1372 799h3v1h-3zM1378 799h3v1h-3zM1384 799h3v1h-3zM1390 799h3v1h-3zM1396 799h3v1h-3zM1402 799h3v1h-3zM1408 799h3v1h-3zM1414 799h3v1h-3zM1420 799h3v1h-3zM1426 799h3v1h-3zM1432 799h3v1h-3zM1438 799h3v1h-3zM1444 799h3v1h-3zM1450 799h3v1h-3zM1456 799h3v1h-3zM1462 799h3v1h-3zM1468 799h3v1h-3zM1474 799h3v1h-3zM1480 799h3v1h-3zM1486 799h3v1h-3zM1492 799h3v1h-3zM1498 799h3v1h-3zM1504 799h3v1h-3zM1510 799h3v1h-3zM1516 799h3v1h-3zM1522 799h3v1h-3zM1528 799h3v1h-3zM1534 799h3v1h-3zM1540 799h3v1h-3zM1546 799h3v1h-3zM1552 799h3v1h-3zM1558 799h3v1h-3zM1564 799h3v1h-3zM1570 799h3v1h-3zM1576 799h3v1h-3zM1582 799h3v1h-3zM1588 799h3v1h-3zM1594 799h3v1h-3zM1600 799h3v1h-3zM1606 799h3v1h-3zM1612 799h3v1h-3zM1618 799h3v1h-3zM1624 799h3v1h-3z" fill="#c0c0c0" shape-rendering="crispEdges"/>
<path d="M-2 846h3v1h-3zM4 846h3v1h-3zM10 846h3v1h-3zM16 846h3v1h-3zM22 846h3v1h-3zM28 846h3v1h-3zM34 846h3v1h-3zM40 846h3v1h-3zM46 846h3v1h-3zM52 846h3v1h-3zM58 846h3v1h-3zM64 846h3v1h-3zM70 846h3v1h-3zM76 846h3v1h-3zM82 846h3v1h-3zM88 846h3v1h-3zM94 846h3v1h-3zM100 846h3v1h-3zM106 846h3v1h-3zM112 846h3v1h-3zM118 846h3v1h-3zM124 846h3v1h-3zM130 846h3v1h-3zM136 846h3v1h-3zM142 846h3v1h-3zM148 846h3v1h-3zM154 846h3v1h-3zM160 846h3v1h-3zM166 846h3v1h-3zM172 846h3v1h-3zM178 846h3v1h-3zM184 846h3v1h-3zM190 846h3v1h-3zM196 846h3v1h-3zM202 846h3v1h-3zM208 846h3v1h-3zM214 846h3v1h-3zM220 846h3v1h-3zM226 846h3v1h-3zM232 846h3v1h-3zM238 846h3v1h-3zM244 846h3v1h-3zM250 846h3v1h-3zM256 846h3v1h-3zM262 846h3v1h-3zM268 846h3v1h-3zM274 846h3v1h-3zM280 846h3v1h-3zM286 846h3v1h-3zM292 846h3v1h-3zM298 846h3v1h-3zM304 846h3v1h-3zM310 846h3v1h-3zM316 846h3v1h-3zM322 846h3v1h-3zM328 846h3v1h-3zM334 846h3v1h-3zM340 846h3v1h-3zM346 846h3v1h-3zM352 846h3v1h-3zM358 846h3v1h-3zM364 846h3v1h-3zM370 846h3v1h-3zM376 846h3v1h-3zM382 846h3v1h-3zM388 846h3v1h-3zM394 846h3v1h-3zM400 846h3v1h-3zM406 846h3v1h-3zM412 846h3v1h-3zM418 846h3v1h-3zM424 846h3v1h-3zM430 846h3v1h-3zM436 846h3v1h-3zM442 846h3v1h-3zM448 846h3v1h-3zM454 846h3v1h-3zM460 846h3v1h-3zM466 846h3v1h-3zM472 846h3v1h-3zM478 846h3v1h-3zM484 846h3v1h-3zM490 846h3v1h-3zM496 846h3v1h-3zM502 846h3v1h-3zM508 846h3v1h-3zM514 846h3v1h-3zM520 846h3v1h-3zM526 846h3v1h-3zM532 846h3v1h-3zM538 846h3v1h-3zM544 846h3v1h-3zM550 846h3v1h-3zM556 846h3v1h-3zM562 846h3v1h-3zM568 846h3v1h-3zM574 846h3v1h-3zM580 846h3v1h-3zM586 846h3v1h-3zM592 846h3v1h-3zM598 846h3v1h-3zM604 846h3v1h-3zM610 846h3v1h-3zM616 846h3v1h-3zM622 846h3v1h-3zM628 846h3v1h-3zM634 846h3v1h-3zM640 846h3v1h-3zM646 846h3v1h-3zM652 846h3v1h-3zM658 846h3v1h-3zM664 846h3v1h-3zM670 846h3v1h-3zM676 846h3v1h-3zM682 846h3v1h-3zM688 846h3v1h-3zM694 846h3v1h-3zM700 846h3v1h-3zM706 846h3v1h-3zM712 846h3v1h-3zM718 846h3v1h-3zM724 846h3v1h-3zM730 846h3v1h-3zM736 846h3v1h-3zM742 846h3v1h-3zM748 846h3v1h-3zM754 846h3v1h-3zM760 846h3v1h-3zM766 846h3v1h-3zM772 846h3v1h-3zM778 846h3v1h-3zM784 846h3v1h-3zM790 846h3v1h-3zM796 846h3v1h-3zM802 846h3v1h-3zM808 846h3v1h-3zM814 846h3v1h-3zM820 846h3v1h-3zM826 846h3v1h-3zM832 846h3v1h-3zM838 846h3v1h-3zM844 846h3v1h-3zM850 846h3v1h-3zM856 846h3v1h-3zM862 846h3v1h-3zM868 846h3v1h-3zM874 846h3v1h-3zM880 846h3v1h-3zM886 846h3v1h-3zM892 846h3v1h-3zM898 846h3v1h-3zM904 846h3v1h-3zM910 846h3v1h-3zM916 846h3v1h-3zM922 846h3v1h-3zM928 846h3v1h-3zM934 846h3v1h-3zM940 846h3v1h-3zM946 846h3v1h-3zM952 846h3v1h-3zM958 846h3v1h-3zM964 846h3v1h-3zM970 846h3v1h-3zM976 846h3v1h-3zM982 846h3v1h-3zM988 846h3v1h-3zM994 846h3v1h-3zM1000 846h3v1h-3zM1006 846h3v1h-3zM1012 846h3v1h-3zM1018 846h3v1h-3zM1024 846h3v1h-3zM1030 846h3v1h-3zM1036 846h3v1h-3zM1042 846h3v1h-3zM1048 846h3v1h-3zM1054 846h3v1h-3zM1060 846h3v1h-3zM1066 846h3v1h-3zM1072 846h3v1h-3zM1078 846h3v1h-3zM1084 846h3v1h-3zM1090 846h3v1h-3zM1096 846h3v1h-3zM1102 846h3v1h-3zM1108 846h3v1h-3zM1114 846h3v1h-3zM1120 846h3v1h-3zM1126 846h3v1h-3zM1132 846h3v1h-3zM1138 846h3v1h-3zM1144 846h3v1h-3zM1150 846h3v1h-3zM1156 846h3v1h-3zM1162 846h3v1h-3zM1168 846h3v1h-3zM1174 846h3v1h-3zM1180 846h3v1h-3zM1186 846h3v1h-3zM1192 846h3v1h-3zM1198 846h3v1h-3zM1204 846h3v1h-3zM1210 846h3v1h-3zM1216 846h3v1h-3zM1222 846h3v1h-3zM1228 846h3v1h-3zM1234 846h3v1h-3zM1240 846h3v1h-3zM1246 846h3v1h-3zM1252 846h3v1h-3zM1258 846h3v1h-3zM1264 846h3v1h-3zM1270 846h3v1h-3zM1276 846h3v1h-3zM1282 846h3v1h-3zM1288 846h3v1h-3zM1294 846h3v1h-3zM1300 846h3v1h-3zM1306 846h3v1h-3zM1312 846h3v1h-3zM1318 846h3v1h-3zM1324 846h3v1h-3zM1330 846h3v1h-3zM1336 846h3v1h-3zM1342 846h3v1h-3zM1348 846h3v1h-3zM1354 846h3v1h-3zM1360 846h3v1h-3zM1366 846h3v1h-3zM1372 846h3v1h-3zM1378 846h3v1h-3zM1384 846h3v1h-3zM1390 846h3v1h-3zM1396 846h3v1h-3zM1402 846h3v1h-3zM1408 846h3v1h-3zM1414 846h3v1h-3zM1420 846h3v1h-3zM1426 846h3v1h-3zM1432 846h3v1h-3zM1438 846h3v1h-3zM1444 846h3v1h-3zM1450 846h3v1h-3zM1456 846h3v1h-3zM1462 846h3v1h-3zM1468 846h3v1h-3zM1474 846h3v1h-3zM1480 846h3v1h-3zM1486 846h3v1h-3zM1492 846h3v1h-3zM1498 846h3v1h-3zM1504 846h3v1h-3zM1510 846h3v1h-3zM1516 846h3v1h-3zM1522 846h3v1h-3zM1528 846h3v1h-3zM1534 846h3v1h-3zM1540 846h3v1h-3zM1546 846h3v1h-3zM1552 846h3v1h-3zM1558 846h3v1h-3zM1564 846h3v1h-3zM1570 846h3v1h-3zM1576 846h3v1h-3zM1582 846h3v1h-3zM1588 846h3v1h-3zM1594 846h3v1h-3zM1600 846h3v1h-3zM1606 846h3v1h-3zM1612 846h3v1h-3zM1618 846h3v1h-3zM1624 846h3v1h-3z" fill="#c0c0c0" shape-rendering="crispEdges"/>
<path d="M-2 902h3v1h-3zM4 902h3v1h-3zM10 902h3v1h-3zM16 902h3v1h-3zM22 902h3v1h-3zM28 902h3v1h-3zM34 902h3v1h-3zM40 902h3v1h-3zM46 902h3v1h-3zM52 902h3v1h-3zM58 902h3v1h-3zM64 902h3v1h-3zM70 902h3v1h-3zM76 902h3v1h-3zM82 902h3v1h-3zM88 902h3v1h-3zM94 902h3v1h-3zM100 902h3v1h-3zM106 902h3v1h-3zM112 902h3v1h-3zM118 902h3v1h-3zM124 902h3v1h-3zM130 902h3v1h-3zM136 902h3v1h-3zM142 902h3v1h-3zM148 902h3v1h-3zM154 902h3v1h-3zM160 902h3v1h-3zM166 902h3v1h-3zM172 902h3v1h-3zM178 902h3v1h-3zM184 902h3v1h-3zM190 902h3v1h-3zM196 902h3v1h-3zM202 902h3v1h-3zM208 902h3v1h-3zM214 902h3v1h-3zM220 902h3v1h-3zM226 902h3v1h-3zM232 902h3v1h-3zM238 902h3v1h-3zM244 902h3v1h-3zM250 902h3v1h-3zM256 902h3v1h-3zM262 902h3v1h-3zM268 902h3v1h-3zM274 902h3v1h-3zM280 902h3v1h-3zM286 902h3v1h-3zM292 902h3v1h-3zM298 902h3v1h-3zM304 902h3v1h-3zM310 902h3v1h-3zM316 902h3v1h-3zM322 902h3v1h-3zM328 902h3v1h-3zM334 902h3v1h-3zM340 902h3v1h-3zM346 902h3v1h-3zM352 902h3v1h-3zM358 902h3v1h-3zM364 902h3v1h-3zM370 902h3v1h-3zM376 902h3v1h-3zM382 902h3v1h-3zM388 902h3v1h-3zM394 902h3v1h-3zM400 902h3v1h-3zM406 902h3v1h-3zM412 902h3v1h-3zM418 902h3v1h-3zM424 902h3v1h-3zM430 902h3v1h-3zM436 902h3v1h-3zM442 902h3v1h-3zM448 902h3v1h-3zM454 902h3v1h-3zM460 902h3v1h-3zM466 902h3v1h-3zM472 902h3v1h-3zM478 902h3v1h-3zM484 902h3v1h-3zM490 902h3v1h-3zM496 902h3v1h-3zM502 902h3v1h-3zM508 902h3v1h-3zM514 902h3v1h-3zM520 902h3v1h-3zM526 902h3v1h-3zM532 902h3v1h-3zM538 902h3v1h-3zM544 902h3v1h-3zM550 902h3v1h-3zM556 902h3v1h-3zM562 902h3v1h-3zM568 902h3v1h-3zM574 902h3v1h-3zM580 902h3v1h-3zM586 902h3v1h-3zM592 902h3v1h-3zM598 902h3v1h-3zM604 902h3v1h-3zM610 902h3v1h-3zM616 902h3v1h-3zM622 902h3v1h-3zM628 902h3v1h-3zM634 902h3v1h-3zM640 902h3v1h-3zM646 902h3v1h-3zM652 902h3v1h-3zM658 902h3v1h-3zM664 902h3v1h-3zM670 902h3v1h-3zM676 902h3v1h-3zM682 902h3v1h-3zM688 902h3v1h-3zM694 902h3v1h-3zM700 902h3v1h-3zM706 902h3v1h-3zM712 902h3v1h-3zM718 902h3v1h-3zM724 902h3v1h-3zM730 902h3v1h-3zM736 902h3v1h-3zM742 902h3v1h-3zM748 902h3v1h-3zM754 902h3v1h-3zM760 902h3v1h-3zM766 902h3v1h-3zM772 902h3v1h-3zM778 902h3v1h-3zM784 902h3v1h-3zM790 902h3v1h-3zM796 902h3v1h-3zM802 902h3v1h-3zM808 902h3v1h-3zM814 902h3v1h-3zM820 902h3v1h-3zM826 902h3v1h-3zM832 902h3v1h-3zM838 902h3v1h-3zM844 902h3v1h-3zM850 902h3v1h-3zM856 902h3v1h-3zM862 902h3v1h-3zM868 902h3v1h-3zM874 902h3v1h-3zM880 902h3v1h-3zM886 902h3v1h-3zM892 902h3v1h-3zM898 902h3v1h-3zM904 902h3v1h-3zM910 902h3v1h-3zM916 902h3v1h-3zM922 902h3v1h-3zM928 902h3v1h-3zM934 902h3v1h-3zM940 902h3v1h-3zM946 902h3v1h-3zM952 902h3v1h-3zM958 902h3v1h-3zM964 902h3v1h-3zM970 902h3v1h-3zM976 902h3v1h-3zM982 902h3v1h-3zM988 902h3v1h-3zM994 902h3v1h-3zM1000 902h3v1h-3zM1006 902h3v1h-3zM1012 902h3v1h-3zM1018 902h3v1h-3zM1024 902h3v1h-3zM1030 902h3v1h-3zM1036 902h3v1h-3zM1042 902h3v1h-3zM1048 902h3v1h-3zM1054 902h3v1h-3zM1060 902h3v1h-3zM1066 902h3v1h-3zM1072 902h3v1h-3zM1078 902h3v1h-3zM1084 902h3v1h-3zM1090 902h3v1h-3zM1096 902h3v1h-3zM1102 902h3v1h-3zM1108 902h3v1h-3zM1114 902h3v1h-3zM1120 902h3v1h-3zM1126 902h3v1h-3zM1132 902h3v1h-3zM1138 902h3v1h-3zM1144 902h3v1h-3zM1150 902h3v1h-3zM1156 902h3v1h-3zM1162 902h3v1h-3zM1168 902h3v1h-3zM1174 902h3v1h-3zM1180 902h3v1h-3zM1186 902h3v1h-3zM1192 902h3v1h-3zM1198 902h3v1h-3zM1204 902h3v1h-3zM1210 902h3v1h-3zM1216 902h3v1h-3zM1222 902h3v1h-3zM1228 902h3v1h-3zM1234 902h3v1h-3zM1240 902h3v1h-3zM1246 902h3v1h-3zM1252 902h3v1h-3zM1258 902h3v1h-3zM1264 902h3v1h-3zM1270 902h3v1h-3zM1276 902h3v1h-3zM1282 902h3v1h-3zM1288 902h3v1h-3zM1294 902h3v1h-3zM1300 902h3v1h-3zM1306 902h3v1h-3zM1312 902h3v1h-3zM1318 902h3v1h-3zM1324 902h3v1h-3zM1330 902h3v1h-3zM1336 902h3v1h-3zM1342 902h3v1h-3zM1348 902h3v1h-3zM1354 902h3v1h-3zM1360 902h3v1h-3zM1366 902h3v1h-3zM1372 902h3v1h-3zM1378 902h3v1h-3zM1384 902h3v1h-3zM1390 902h3v1h-3zM1396 902h3v1h-3zM1402 902h3v1h-3zM1408 902h3v1h-3zM1414 902h3v1h-3zM1420 902h3v1h-3zM1426 902h3v1h-3zM1432 902h3v1h-3zM1438 902h3v1h-3zM1444 902h3v1h-3zM1450 902h3v1h-3zM1456 902h3v1h-3zM1462 902h3v1h-3zM1468 902h3v1h-3zM1474 902h3v1h-3zM1480 902h3v1h-3zM1486 902h3v1h-3zM1492 902h3v1h-3zM1498 902h3v1h-3zM1504 902h3v1h-3zM1510 902h3v1h-3zM1516 902h3v1h-3zM1522 902h3v1h-3zM1528 902h3v1h-3zM1534 902h3v1h-3zM1540 902h3v1h-3zM1546 902h3v1h-3zM1552 902h3v1h-3zM1558 902h3v1h-3zM1564 902h3v1h-3zM1570 902h3v1h-3zM1576 902h3v1h-3zM1582 902h3v1h-3zM1588 902h3v1h-3zM1594 902h3v1h-3zM1600 902h3v1h-3zM1606 902h3v1h-3zM1612 902h3v1h-3zM1618 902h3v1h-3zM1624 902h3v1h-3z" fill="#c0c0c0" shape-rendering="crispEdges"/>
<path d="M0 856h1v1h-1zM1 857h1v1h-1zM2 858h1v1h-1zM3 859h1v2h-1zM4 861h1v1h-1zM5 862h2v1h-2zM7 863h2v1h-2zM9 864h3v1h-3zM12 865h5v1h-5zM17 864h6v1h-6zM23 865h2v1h-2zM25 866h3v1h-3zM28 867h3v1h-3zM31 868h4v1h-4zM35 869h3v1h-3zM38 868h2v1h-2zM40 867h2v1h-2zM42 866h2v1h-2zM44 865h3v1h-3zM47 866h4v1h-4zM51 867h4v1h-4zM55 866h4v1h-4zM59 865h6v1h-6zM65 866h6v1h-6zM71 865h4v1h-4zM75 864h3v1h-3zM78 863h1v1h-1zM79 862h1v1h-1zM80 861h1v1h-1zM81 860h2v1h-2zM83 859h1v1h-1zM84 858h1v1h-1zM85 857h1v1h-1zM86 858h1v1h-1zM87 859h1v1h-1zM88 860h1v1h-1zM89 861h1v2h-1zM90 863h1v1h-1zM91 864h1v1h-1zM92 865h1v1h-1zM93 866h1v1h-1zM94 867h1v1h-1zM95 868h1v1h-1zM96 869h1v1h-1zM97 870h1v2h-1zM98 872h1v1h-1zM99 873h1v1h-1zM100 874h1v1h-1zM101 875h2v1h-2zM103 876h4v1h-4zM107 877h3v1h-3zM110 876h2v1h-2zM112 875h2v1h-2zM114 874h2v1h-2zM116 873h19v1h-19zM135 872h4v1h-4zM139 871h3v1h-3zM142 869h1v2h-1zM143 868h1v1h-1zM144 867h1v1h-1zM145 865h1v2h-1zM146 864h1v1h-1zM147 863h1v1h-1zM148 861h1v2h-1zM149 860h1v1h-1zM150 861h1v1h-1zM151 862h2v1h-2zM153 863h1v1h-1zM154 864h1v1h-1zM155 865h2v1h-2zM157 866h4v1h-4zM161 867h8v1h-8zM169 868h6v1h-6zM175 867h4v1h-4zM179 866h3v1h-3zM182 867h1v1h-1zM183 868h1v1h-1zM184 869h1v1h-1zM185 870h2v1h-2zM187 871h1v1h-1zM188 872h1v1h-1zM189 873h1v1h-1zM190 874h1v1h-1zM191 875h1v1h-1zM192 876h1v1h-1zM193 877h1v2h-1zM194 879h1v1h-1zM195 880h1v1h-1zM196 881h1v1h-1zM197 882h1v1h-1zM198 881h2v1h-2zM200 880h1v1h-1zM201 879h2v1h-2zM203 878h2v1h-2zM205 877h4v1h-4zM209 876h8v1h-8zM217 875h6v1h-6zM223 876h2v1h-2zM225 877h3v1h-3zM228 878h2v1h-2zM230 877h1v1h-1zM231 876h1v1h-1zM232 875h1v1h-1zM233 874h1v1h-1zM234 873h1v1h-1zM235 872h1v1h-1zM236 871h1v1h-1zM237 870h2v1h-2zM239 869h2v1h-2zM241 868h3v1h-3zM244 867h5v1h-5zM249 868h5v1h-5zM254 869h2v1h-2zM256 870h1v1h-1zM257 871h2v1h-2zM259 872h2v1h-2zM261 873h1v1h-1zM262 871h1v2h-1zM263 869h1v2h-1zM264 867h1v2h-1zM265 865h1v2h-1zM266 863h1v2h-1zM267 861h1v2h-1zM268 859h1v2h-1zM269 858h1v1h-1zM270 857h1v1h-1zM271 855h1v2h-1zM272 854h1v1h-1zM273 853h1v1h-1zM274 852h1v1h-1zM275 850h1v2h-1zM276 849h1v1h-1zM277 848h2v1h-2zM279 847h4v1h-4zM283 846h3v1h-3zM286 847h1v1h-1zM287 848h2v1h-2zM289 849h1v1h-1zM290 850h1v1h-1zM291 851h2v1h-2zM293 852h1v1h-1zM294 850h1v2h-1zM295 849h1v1h-1zM296 848h1v1h-1zM297 846h1v2h-1zM298 845h1v1h-1zM299 844h1v1h-1zM300 842h1v2h-1zM301 841h2v1h-2zM303 840h4v1h-4zM307 839h4v1h-4zM311 840h2v1h-2zM313 841h3v1h-3zM316 842h3v1h-3zM319 843h2v1h-2zM321 844h3v1h-3zM324 845h2v1h-2zM326 843h1v2h-1zM327 842h1v1h-1zM328 840h1v2h-1zM329 839h1v1h-1zM330 837h1v2h-1zM331 836h1v1h-1zM332 834h1v2h-1zM333 833h1v1h-1zM334 832h1v1h-1zM335 831h1v1h-1zM336 830h1v1h-1zM337 829h2v1h-2zM339 828h1v1h-1zM340 827h1v1h-1zM341 826h1v1h-1zM342 825h2v1h-2zM344 824h2v1h-2zM346 823h2v1h-2zM348 822h2v1h-2zM350 823h1v1h-1zM351 824h1v1h-1zM352 825h1v1h-1zM353 826h2v1h-2zM355 827h1v1h-1zM356 828h1v1h-1zM357 829h4v1h-4zM361 830h6v1h-6zM367 831h4v1h-4zM371 832h6v1h-6zM377 831h13v1h-13zM390 832h1v1h-1zM391 833h1v2h-1zM392 835h1v1h-1zM393 836h1v1h-1zM394 837h1v1h-1zM395 838h1v2h-1zM396 840h1v1h-1zM397 841h1v1h-1zM398 842h1v1h-1zM399 843h2v1h-2zM401 844h1v1h-1zM402 845h1v1h-1zM403 846h2v1h-2zM405 847h4v1h-4zM409 846h6v1h-6zM415 847h2v1h-2zM417 848h3v1h-3zM420 849h3v1h-3zM423 848h2v1h-2zM425 847h3v1h-3zM428 846h2v1h-2zM429 845h1v1h-1zM430 843h1v2h-1zM431 841h1v2h-1zM432 839h1v2h-1zM433 836h1v3h-1zM434 834h1v2h-1zM435 832h1v2h-1zM436 830h1v2h-1zM437 828h1v2h-1zM438 827h1v1h-1zM439 826h1v1h-1zM440 825h1v1h-1zM441 823h1v2h-1zM442 822h1v1h-1zM443 821h1v1h-1zM444 820h1v1h-1zM445 819h2v1h-2zM447 820h2v1h-2zM449 821h3v1h-3zM452 822h3v1h-3zM455 821h2v1h-2zM457 820h3v1h-3zM460 819h5v1h-5zM465 818h5v1h-5zM470 819h1v2h-1zM471 821h1v2h-1zM472 823h1v2h-1zM473 825h1v2h-1zM474 827h1v2h-1zM475 829h1v2h-1zM476 831h1v2h-1zM477 833h3v1h-3zM477 834h1v1h-1zM480 832h1v1h-1zM481 831h2v1h-2zM483 830h2v1h-2zM485 829h1v1h-1zM486 830h1v1h-1zM487 831h1v1h-1zM488 832h1v1h-1zM489 833h2v1h-2zM491 834h1v1h-1zM492 835h1v1h-1zM493 836h1v2h-1zM494 838h1v2h-1zM495 840h1v2h-1zM496 842h1v3h-1zM497 845h1v2h-1zM498 847h1v3h-1zM499 850h1v2h-1zM500 852h1v2h-1zM501 854h1v2h-1zM502 856h1v1h-1zM503 857h2v1h-2zM505 858h1v1h-1zM506 859h1v1h-1zM507 860h2v1h-2zM509 861h1v1h-1zM510 860h2v1h-2zM512 859h1v1h-1zM513 858h2v1h-2zM515 857h2v1h-2zM517 856h1v1h-1zM518 857h1v2h-1zM519 859h1v1h-1zM520 860h1v1h-1zM521 861h1v2h-1zM522 863h1v1h-1zM523 864h1v1h-1zM524 865h1v2h-1zM525 867h1v1h-1zM526 868h1v1h-1zM527 869h1v2h-1zM528 871h1v1h-1zM529 872h1v1h-1zM530 873h1v1h-1zM531 874h1v2h-1zM532 876h1v1h-1zM533 877h2v1h-2zM535 878h2v1h-2zM537 879h3v1h-3zM540 880h2v1h-2zM542 879h2v1h-2zM544 878h2v1h-2zM546 877h2v1h-2zM548 876h3v1h-3zM551 875h4v1h-4zM555 874h6v1h-6zM561 875h5v1h-5zM566 874h2v1h-2zM568 873h1v1h-1zM569 872h2v1h-2zM571 871h2v1h-2zM573 870h4v1h-4zM577 871h5v1h-5zM581 870h1v1h-1zM582 867h1v3h-1zM583 865h1v2h-1zM584 862h1v3h-1zM585 859h1v3h-1zM586 856h1v3h-1zM587 854h1v2h-1zM588 851h1v3h-1zM589 849h1v2h-1zM590 848h1v1h-1zM591 847h1v1h-1zM592 846h1v1h-1zM593 845h2v1h-2zM595 844h1v1h-1zM596 843h1v1h-1zM597 842h1v1h-1zM598 841h2v1h-2zM600 840h2v1h-2zM602 839h2v1h-2zM604 838h5v1h-5zM609 837h6v1h-6zM615 836h4v1h-4zM619 835h3v1h-3zM622 836h1v2h-1zM623 838h1v1h-1zM624 839h1v2h-1zM625 841h1v1h-1zM626 842h1v2h-1zM627 844h1v1h-1zM628 845h1v2h-1zM629 847h2v1h-2zM631 846h2v1h-2zM633 845h3v1h-3zM636 844h5v1h-5zM641 845h6v1h-6zM647 846h4v1h-4zM651 847h3v1h-3zM654 848h1v2h-1zM655 850h1v2h-1zM656 852h1v2h-1zM657 854h1v2h-1zM658 856h1v2h-1zM659 858h1v2h-1zM660 860h1v2h-1zM661 862h2v1h-2zM661 863h1v1h-1zM662 861h1v1h-1zM663 859h1v2h-1zM664 857h1v2h-1zM665 855h1v2h-1zM666 853h1v2h-1zM667 851h1v2h-1zM668 849h1v2h-1zM669 848h1v1h-1zM670 847h1v1h-1zM671 846h2v1h-2zM673 845h1v1h-1zM674 844h1v1h-1zM675 843h2v1h-2zM677 842h2v1h-2zM679 843h4v1h-4zM683 844h3v1h-3zM686 845h2v1h-2zM688 846h2v1h-2zM690 847h2v1h-2zM692 848h2v1h-2zM694 846h1v2h-1zM695 844h1v2h-1zM696 842h1v2h-1zM697 841h1v1h-1zM698 839h1v2h-1zM699 837h1v2h-1zM700 835h1v2h-1zM701 834h1v1h-1zM702 835h2v1h-2zM704 836h2v1h-2zM706 837h2v1h-2zM708 838h3v1h-3zM711 837h2v1h-2zM713 836h3v1h-3zM716 835h2v1h-2zM718 834h2v1h-2zM720 833h1v1h-1zM721 832h2v1h-2zM723 831h3v1h-3zM725 830h1v1h-1zM726 832h1v2h-1zM727 834h1v2h-1zM728 836h1v2h-1zM729 838h1v3h-1zM730 841h1v2h-1zM731 843h1v2h-1zM732 845h1v2h-1zM733 847h2v1h-2zM733 848h1v1h-1zM735 846h1v1h-1zM736 845h1v1h-1zM737 844h2v1h-2zM739 843h1v1h-1zM740 842h1v1h-1zM741 841h4v1h-4zM745 840h6v1h-6zM751 839h4v1h-4zM755 838h6v1h-6zM761 837h8v1h-8zM769 838h5v1h-5zM774 837h2v1h-2zM776 836h2v1h-2zM778 835h2v1h-2zM780 834h2v1h-2zM782 835h2v1h-2zM784 836h2v1h-2zM786 837h2v1h-2zM788 838h3v1h-3zM791 839h2v1h-2zM793 840h3v1h-3zM796 841h2v1h-2zM798 842h2v1h-2zM800 843h2v1h-2zM802 844h2v1h-2zM804 845h5v1h-5zM809 844h5v1h-5zM814 845h1v1h-1zM815 846h1v1h-1zM816 847h1v1h-1zM817 848h1v2h-1zM818 850h1v1h-1zM819 851h1v1h-1zM820 852h1v1h-1zM821 853h2v1h-2zM823 854h2v1h-2zM825 855h3v1h-3zM828 856h2v1h-2zM830 855h1v1h-1zM831 854h1v1h-1zM832 853h1v1h-1zM833 852h1v1h-1zM834 851h1v1h-1zM835 850h1v1h-1zM836 849h1v1h-1zM837 848h1v1h-1zM838 847h2v1h-2zM840 846h2v1h-2zM842 845h2v1h-2zM844 844h11v1h-11zM855 843h2v1h-2zM857 842h3v1h-3zM860 841h2v1h-2zM862 842h1v1h-1zM863 843h1v1h-1zM864 844h1v1h-1zM865 845h2v1h-2zM867 846h1v1h-1zM868 847h1v1h-1zM869 848h1v1h-1zM870 847h1v1h-1zM871 846h2v1h-2zM873 845h1v1h-1zM874 844h1v1h-1zM875 843h2v1h-2zM877 842h1v1h-1zM878 841h2v1h-2zM880 840h1v1h-1zM881 839h2v1h-2zM883 838h2v1h-2zM885 837h2v1h-2zM887 836h2v1h-2zM889 835h3v1h-3zM892 834h2v1h-2zM894 835h1v1h-1zM895 836h1v1h-1zM896 837h1v1h-1zM897 838h1v1h-1zM898 839h1v1h-1zM899 840h1v1h-1zM900 841h1v1h-1zM901 842h2v1h-2zM903 841h2v1h-2zM905 840h3v1h-3zM908 839h5v1h-5zM913 840h5v1h-5zM918 841h2v1h-2zM920 842h1v1h-1zM921 843h2v1h-2zM923 844h2v1h-2zM925 845h1v1h-1zM926 844h1v1h-1zM927 843h1v1h-1zM928 842h1v1h-1zM929 841h1v1h-1zM930 840h1v1h-1zM931 839h1v1h-1zM932 838h1v1h-1zM933 837h2v1h-2zM935 838h4v1h-4zM939 839h4v1h-4zM943 838h2v1h-2zM945 837h3v1h-3zM948 836h2v1h-2zM950 835h2v1h-2zM952 834h2v1h-2zM954 833h2v1h-2zM956 832h3v1h-3zM959 833h4v1h-4zM963 834h3v1h-3zM966 833h1v1h-1zM967 832h1v1h-1zM968 831h1v1h-1zM969 830h2v1h-2zM971 829h1v1h-1zM972 828h1v1h-1zM973 827h1v1h-1zM974 826h2v1h-2zM976 825h1v1h-1zM977 824h2v1h-2zM979 823h2v1h-2zM981 822h2v1h-2zM983 821h4v1h-4zM987 820h4v1h-4zM991 819h2v1h-2zM993 818h3v1h-3zM996 817h5v1h-5zM1001 816h8v1h-8zM1009 815h5v1h-5zM1013 816h1v1h-1zM1014 817h1v3h-1zM1015 820h1v3h-1zM1016 823h1v3h-1zM1017 826h1v4h-1zM1018 830h1v3h-1zM1019 833h1v3h-1zM1020 836h1v3h-1zM1021 839h1v2h-1zM1022 840h3v1h-3zM1025 841h5v1h-5zM1030 842h1v1h-1zM1031 843h2v1h-2zM1033 844h1v1h-1zM1034 845h1v1h-1zM1035 846h2v1h-2zM1037 847h2v1h-2zM1039 848h2v1h-2zM1041 849h3v1h-3zM1044 850h10v1h-10zM1054 851h1v2h-1zM1055 853h1v1h-1zM1056 854h1v2h-1zM1057 856h1v1h-1zM1058 857h1v2h-1zM1059 859h1v1h-1zM1060 860h1v2h-1zM1061 862h1v1h-1zM1062 860h1v2h-1zM1063 859h1v1h-1zM1064 858h1v1h-1zM1065 856h1v2h-1zM1066 855h1v1h-1zM1067 854h1v1h-1zM1068 852h1v2h-1zM1069 851h4v1h-4zM1073 852h6v1h-6zM1079 851h4v1h-4zM1083 850h6v1h-6zM1089 849h5v1h-5zM1094 850h2v1h-2zM1096 851h1v1h-1zM1097 852h2v1h-2zM1099 853h2v1h-2zM1101 854h2v1h-2zM1103 855h4v1h-4zM1107 856h3v1h-3zM1109 855h1v1h-1zM1110 852h1v3h-1zM1111 849h1v3h-1zM1112 846h1v3h-1zM1113 844h1v2h-1zM1114 841h1v3h-1zM1115 838h1v3h-1zM1116 835h1v3h-1zM1117 833h1v2h-1zM1118 834h1v1h-1zM1119 835h1v1h-1zM1120 836h1v1h-1zM1121 837h1v1h-1zM1122 838h1v1h-1zM1123 839h1v1h-1zM1124 840h1v1h-1zM1125 841h1v1h-1zM1126 842h1v1h-1zM1127 843h1v1h-1zM1128 844h1v1h-1zM1129 845h2v1h-2zM1131 846h1v1h-1zM1132 847h1v1h-1zM1133 848h2v1h-2zM1135 847h2v1h-2zM1137 846h3v1h-3zM1140 845h3v1h-3zM1143 844h4v1h-4zM1147 843h3v1h-3zM1150 842h2v1h-2zM1152 841h1v1h-1zM1153 840h2v1h-2zM1155 839h2v1h-2zM1157 838h1v1h-1zM1158 836h1v2h-1zM1159 835h1v1h-1zM1160 834h1v1h-1zM1161 832h1v2h-1zM1162 831h1v1h-1zM1163 830h1v1h-1zM1164 828h1v2h-1zM1165 827h1v1h-1zM1166 826h1v1h-1zM1167 825h1v1h-1zM1168 824h1v1h-1zM1169 823h1v1h-1zM1170 822h1v1h-1zM1171 821h1v1h-1zM1172 820h1v1h-1zM1173 819h1v1h-1zM1174 820h2v1h-2zM1176 821h2v1h-2zM1178 822h2v1h-2zM1180 823h3v1h-3zM1183 824h2v1h-2zM1185 825h3v1h-3zM1188 826h2v1h-2zM1190 827h1v2h-1zM1191 829h1v1h-1zM1192 830h1v1h-1zM1193 831h1v2h-1zM1194 833h1v1h-1zM1195 834h1v1h-1zM1196 835h1v2h-1zM1197 837h1v1h-1zM1198 836h2v1h-2zM1200 835h2v1h-2zM1202 834h2v1h-2zM1204 833h2v1h-2zM1206 834h2v1h-2zM1208 835h1v1h-1zM1209 836h2v1h-2zM1211 837h2v1h-2zM1213 838h1v1h-1zM1214 839h1v2h-1zM1215 841h1v2h-1zM1216 843h1v1h-1zM1217 844h1v2h-1zM1218 846h1v1h-1zM1219 847h1v2h-1zM1220 849h1v2h-1zM1221 851h1v1h-1zM1222 850h2v1h-2zM1224 849h1v1h-1zM1225 848h2v1h-2zM1227 847h2v1h-2zM1229 846h2v1h-2zM1231 845h4v1h-4zM1235 844h4v1h-4zM1239 845h4v1h-4zM1243 846h4v1h-4zM1247 845h2v1h-2zM1249 844h3v1h-3zM1252 843h2v1h-2zM1254 844h1v1h-1zM1255 845h1v1h-1zM1256 846h1v1h-1zM1257 847h1v2h-1zM1258 849h1v1h-1zM1259 850h1v1h-1zM1260 851h1v1h-1zM1261 852h1v1h-1zM1262 853h1v2h-1zM1263 855h1v1h-1zM1264 856h1v2h-1zM1265 858h1v1h-1zM1266 859h1v2h-1zM1267 861h1v1h-1zM1268 862h1v2h-1zM1269 864h2v1h-2zM1271 865h4v1h-4zM1275 866h3v1h-3zM1278 867h1v2h-1zM1279 869h1v2h-1zM1280 871h1v2h-1zM1281 873h1v1h-1zM1282 874h1v2h-1zM1283 876h1v2h-1zM1284 878h1v2h-1zM1285 880h1v1h-1zM1286 879h1v1h-1zM1287 878h1v1h-1zM1288 877h1v1h-1zM1289 875h1v2h-1zM1290 874h1v1h-1zM1291 873h1v1h-1zM1292 872h1v1h-1zM1293 871h1v1h-1zM1294 870h1v1h-1zM1295 869h1v1h-1zM1296 868h1v1h-1zM1297 867h1v1h-1zM1298 866h1v1h-1zM1299 865h1v1h-1zM1300 864h1v1h-1zM1301 863h2v1h-2zM1303 864h2v1h-2zM1305 865h3v1h-3zM1308 866h2v1h-2zM1310 867h2v1h-2zM1312 868h1v1h-1zM1313 869h2v1h-2zM1315 870h2v1h-2zM1317 871h4v1h-4zM1321 872h6v1h-6zM1327 871h4v1h-4zM1331 870h3v1h-3z" fill="#1e90ff" shape-rendering="crispEdges"/>
</g>
<g shape-rendering="crispEdges" fill="#000">
<rect x="0" y="26" width="1626" height="1" fill="#000"/>
<rect x="1625" y="26" width="1" height="536" fill="#000"/>
<rect x="0" y="561" width="1626" height="1" fill="#000"/>
<rect x="0" y="563" width="1626" height="1" fill="#000"/>
<rect x="1625" y="563" width="1" height="202" fill="#000"/>
<rect x="0" y="764" width="1626" height="1" fill="#000"/>
<rect x="0" y="766" width="1626" height="1" fill="#000"/>
<rect x="1625" y="766" width="1" height="161" fill="#000"/>
<rect x="0" y="926" width="1626" height="1" fill="#000"/>
</g>
<rect x="1626" y="30" width="2" height="1" fill="#000" shape-rendering="crispEdges"/>
<text x="1631.20" y="34" font-size="10.2" fill="#000" textLength="33.18" lengthAdjust="spacingAndGlyphs" xml:space="preserve" text-rendering="geometricPrecision" stroke="#000" stroke-width="0.12">145.525</text>
<rect x="1626" y="63" width="2" height="1" fill="#000" shape-rendering="crispEdges"/>
<text x="1631.20" y="67" font-size="10.2" fill="#000" textLength="33.18" lengthAdjust="spacingAndGlyphs" xml:space="preserve" text-rendering="geometricPrecision" stroke="#000" stroke-width="0.12">145.225</text>
<rect x="1626" y="96" width="2" height="1" fill="#000" shape-rendering="crispEdges"/>
<text x="1631.20" y="100" font-size="10.2" fill="#000" textLength="33.18" lengthAdjust="spacingAndGlyphs" xml:space="preserve" text-rendering="geometricPrecision" stroke="#000" stroke-width="0.12">144.925</text>
<rect x="1626" y="129" width="2" height="1" fill="#000" shape-rendering="crispEdges"/>
<text x="1631.20" y="133" font-size="10.2" fill="#000" textLength="33.18" lengthAdjust="spacingAndGlyphs" xml:space="preserve" text-rendering="geometricPrecision" stroke="#000" stroke-width="0.12">144.625</text>
<rect x="1626" y="162" width="2" height="1" fill="#000" shape-rendering="crispEdges"/>
<text x="1631.20" y="166" font-size="10.2" fill="#000" textLength="33.18" lengthAdjust="spacingAndGlyphs" xml:space="preserve" text-rendering="geometricPrecision" stroke="#000" stroke-width="0.12">144.325</text>
<rect x="1626" y="195" width="2" height="1" fill="#000" shape-rendering="crispEdges"/>
<text x="1631.20" y="199" font-size="10.2" fill="#000" textLength="33.18" lengthAdjust="spacingAndGlyphs" xml:space="preserve" text-rendering="geometricPrecision" stroke="#000" stroke-width="0.12">144.025</text>
<rect x="1626" y="228" width="2" height="1" fill="#000" shape-rendering="crispEdges"/>
<text x="1631.20" y="232" font-size="10.2" fill="#000" textLength="33.18" lengthAdjust="spacingAndGlyphs" xml:space="preserve" text-rendering="geometricPrecision" stroke="#000" stroke-width="0.12">143.725</text>
<rect x="1626" y="261" width="2" height="1" fill="#000" shape-rendering="crispEdges"/>
<text x="1631.20" y="265" font-size="10.2" fill="#000" textLength="33.18" lengthAdjust="spacingAndGlyphs" xml:space="preserve" text-rendering="geometricPrecision" stroke="#000" stroke-width="0.12">143.425</text>
<rect x="1626" y="294" width="2" height="1" fill="#000" shape-rendering="crispEdges"/>
<text x="1631.20" y="298" font-size="10.2" fill="#000" textLength="33.18" lengthAdjust="spacingAndGlyphs" xml:space="preserve" text-rendering="geometricPrecision" stroke="#000" stroke-width="0.12">143.125</text>
<rect x="1626" y="327" width="2" height="1" fill="#000" shape-rendering="crispEdges"/>
<text x="1631.20" y="331" font-size="10.2" fill="#000" textLength="33.18" lengthAdjust="spacingAndGlyphs" xml:space="preserve" text-rendering="geometricPrecision" stroke="#000" stroke-width="0.12">142.825</text>
<rect x="1626" y="360" width="2" height="1" fill="#000" shape-rendering="crispEdges"/>
<text x="1631.20" y="364" font-size="10.2" fill="#000" textLength="33.18" lengthAdjust="spacingAndGlyphs" xml:space="preserve" text-rendering="geometricPrecision" stroke="#000" stroke-width="0.12">142.520</text>
<rect x="1626" y="393" width="2" height="1" fill="#000" shape-rendering="crispEdges"/>
<text x="1631.20" y="397" font-size="10.2" fill="#000" textLength="33.18" lengthAdjust="spacingAndGlyphs" xml:space="preserve" text-rendering="geometricPrecision" stroke="#000" stroke-width="0.12">142.220</text>
<rect x="1626" y="426" width="2" height="1" fill="#000" shape-rendering="crispEdges"/>
<text x="1631.20" y="430" font-size="10.2" fill="#000" textLength="33.18" lengthAdjust="spacingAndGlyphs" xml:space="preserve" text-rendering="geometricPrecision" stroke="#000" stroke-width="0.12">141.920</text>
<rect x="1626" y="459" width="2" height="1" fill="#000" shape-rendering="crispEdges"/>
<text x="1631.20" y="463" font-size="10.2" fill="#000" textLength="33.18" lengthAdjust="spacingAndGlyphs" xml:space="preserve" text-rendering="geometricPrecision" stroke="#000" stroke-width="0.12">141.620</text>
<rect x="1626" y="492" width="2" height="1" fill="#000" shape-rendering="crispEdges"/>
<text x="1631.20" y="496" font-size="10.2" fill="#000" textLength="33.18" lengthAdjust="spacingAndGlyphs" xml:space="preserve" text-rendering="geometricPrecision" stroke="#000" stroke-width="0.12">141.320</text>
<rect x="1626" y="525" width="2" height="1" fill="#000" shape-rendering="crispEdges"/>
<text x="1631.20" y="529" font-size="10.2" fill="#000" textLength="33.18" lengthAdjust="spacingAndGlyphs" xml:space="preserve" text-rendering="geometricPrecision" stroke="#000" stroke-width="0.12">141.020</text>
<rect x="1626" y="558" width="2" height="1" fill="#000" shape-rendering="crispEdges"/>
<text x="1631.20" y="562" font-size="10.2" fill="#000" textLength="33.18" lengthAdjust="spacingAndGlyphs" xml:space="preserve" text-rendering="geometricPrecision" stroke="#000" stroke-width="0.12">140.720</text>
<rect x="1627" y="311" width="41" height="11" fill="#ff0000" shape-rendering="crispEdges"/>
<text x="1631.20" y="320" font-size="10.2" fill="#fff" textLength="33.18" lengthAdjust="spacingAndGlyphs" xml:space="preserve" text-rendering="geometricPrecision" stroke="#fff" stroke-width="0.12">142.917</text>
<rect x="1627" y="342" width="41" height="11" fill="#ff4500" shape-rendering="crispEdges"/>
<text x="1631.20" y="351" font-size="10.2" fill="#fff" textLength="33.18" lengthAdjust="spacingAndGlyphs" xml:space="preserve" text-rendering="geometricPrecision" stroke="#fff" stroke-width="0.12">142.633</text>
<rect x="1627" y="369" width="41" height="11" fill="#32cd32" shape-rendering="crispEdges"/>
<text x="1631.20" y="378" font-size="10.2" fill="#fff" textLength="33.18" lengthAdjust="spacingAndGlyphs" xml:space="preserve" text-rendering="geometricPrecision" stroke="#fff" stroke-width="0.12">142.389</text>
<rect x="1627" y="430" width="41" height="11" fill="#0000ff" shape-rendering="crispEdges"/>
<text x="1631.20" y="439" font-size="10.2" fill="#fff" textLength="33.18" lengthAdjust="spacingAndGlyphs" xml:space="preserve" text-rendering="geometricPrecision" stroke="#fff" stroke-width="0.12">141.833</text>
<rect x="1627" y="457" width="41" height="11" fill="#0000ff" shape-rendering="crispEdges"/>
<text x="1631.20" y="466" font-size="10.2" fill="#fff" textLength="33.18" lengthAdjust="spacingAndGlyphs" xml:space="preserve" text-rendering="geometricPrecision" stroke="#fff" stroke-width="0.12">141.589</text>
<rect x="1627" y="394" width="41" height="11" fill="#000" shape-rendering="crispEdges"/>
<text x="1631.20" y="403" font-size="10.2" fill="#fff" textLength="33.18" lengthAdjust="spacingAndGlyphs" xml:space="preserve" text-rendering="geometricPrecision" stroke="#fff" stroke-width="0.12">142.173</text>
<rect x="1626" y="565" width="2" height="1" fill="#000" shape-rendering="crispEdges"/>
<text x="1629.30" y="574.3" font-size="10.2" fill="#000" textLength="28.08" lengthAdjust="spacingAndGlyphs" xml:space="preserve" text-rendering="geometricPrecision" stroke="#000" stroke-width="0.12">0.8638</text>
<text x="1629.30" y="679" font-size="10.2" fill="#000" textLength="17.87" lengthAdjust="spacingAndGlyphs" xml:space="preserve" text-rendering="geometricPrecision" stroke="#000" stroke-width="0.12">0.00</text>
<rect x="1626" y="763" width="2" height="1" fill="#000" shape-rendering="crispEdges"/>
<text x="1629.30" y="760.3" font-size="10.2" fill="#000" textLength="31.13" lengthAdjust="spacingAndGlyphs" xml:space="preserve" text-rendering="geometricPrecision" stroke="#000" stroke-width="0.12">-0.6904</text>
<rect x="1626" y="768" width="2" height="1" fill="#000" shape-rendering="crispEdges"/>
<text x="1629.30" y="777" font-size="10.2" fill="#000" textLength="15.31" lengthAdjust="spacingAndGlyphs" xml:space="preserve" text-rendering="geometricPrecision" stroke="#000" stroke-width="0.12">100</text>
<text x="1628.30" y="803" font-size="10.2" fill="#000" textLength="10.21" lengthAdjust="spacingAndGlyphs" xml:space="preserve" text-rendering="geometricPrecision" stroke="#000" stroke-width="0.12">80</text>
<text x="1628.30" y="850" font-size="10.2" fill="#000" textLength="10.21" lengthAdjust="spacingAndGlyphs" xml:space="preserve" text-rendering="geometricPrecision" stroke="#000" stroke-width="0.12">50</text>
<text x="1628.30" y="906" font-size="10.2" fill="#000" textLength="10.21" lengthAdjust="spacingAndGlyphs" xml:space="preserve" text-rendering="geometricPrecision" stroke="#000" stroke-width="0.12">15</text>
<text x="1629.30" y="923" font-size="10.2" fill="#000" textLength="5.10" lengthAdjust="spacingAndGlyphs" xml:space="preserve" text-rendering="geometricPrecision" stroke="#000" stroke-width="0.12">0</text>
<rect x="1626" y="925" width="2" height="1" fill="#000" shape-rendering="crispEdges"/>
<text x="-3.50" y="939" font-size="10.2" fill="#000" textLength="52.05" lengthAdjust="spacingAndGlyphs" xml:space="preserve" text-rendering="geometricPrecision" stroke="#000" stroke-width="0.12">17 Dec 2019</text>
<rect x="61" y="927" width="1" height="3" fill="#000" shape-rendering="crispEdges"/>
<text x="60.50" y="939" font-size="10.2" fill="#000" textLength="54.61" lengthAdjust="spacingAndGlyphs" xml:space="preserve" text-rendering="geometricPrecision" stroke="#000" stroke-width="0.12">18 Dec 16:00</text>
<rect x="125" y="927" width="1" height="3" fill="#000" shape-rendering="crispEdges"/>
<text x="124.50" y="939" font-size="10.2" fill="#000" textLength="54.61" lengthAdjust="spacingAndGlyphs" xml:space="preserve" text-rendering="geometricPrecision" stroke="#000" stroke-width="0.12">20 Dec 00:00</text>
<rect x="189" y="927" width="1" height="3" fill="#000" shape-rendering="crispEdges"/>
<text x="188.50" y="939" font-size="10.2" fill="#000" textLength="54.61" lengthAdjust="spacingAndGlyphs" xml:space="preserve" text-rendering="geometricPrecision" stroke="#000" stroke-width="0.12">23 Dec 08:00</text>
<rect x="253" y="927" width="1" height="3" fill="#000" shape-rendering="crispEdges"/>
<text x="252.50" y="939" font-size="10.2" fill="#000" textLength="54.61" lengthAdjust="spacingAndGlyphs" xml:space="preserve" text-rendering="geometricPrecision" stroke="#000" stroke-width="0.12">24 Dec 16:00</text>
<rect x="317" y="927" width="1" height="3" fill="#000" shape-rendering="crispEdges"/>
<text x="316.50" y="939" font-size="10.2" fill="#000" textLength="54.61" lengthAdjust="spacingAndGlyphs" xml:space="preserve" text-rendering="geometricPrecision" stroke="#000" stroke-width="0.12">26 Dec 20:00</text>
<rect x="381" y="927" width="1" height="3" fill="#000" shape-rendering="crispEdges"/>
<text x="380.50" y="939" font-size="10.2" fill="#000" textLength="54.61" lengthAdjust="spacingAndGlyphs" xml:space="preserve" text-rendering="geometricPrecision" stroke="#000" stroke-width="0.12">30 Dec 04:00</text>
<rect x="445" y="927" width="1" height="3" fill="#000" shape-rendering="crispEdges"/>
<text x="444.50" y="939" font-size="10.2" fill="#000" textLength="54.61" lengthAdjust="spacingAndGlyphs" xml:space="preserve" text-rendering="geometricPrecision" stroke="#000" stroke-width="0.12">31 Dec 12:00</text>
<rect x="509" y="927" width="1" height="3" fill="#000" shape-rendering="crispEdges"/>
<text x="508.50" y="939" font-size="10.2" fill="#000" textLength="47.98" lengthAdjust="spacingAndGlyphs" xml:space="preserve" text-rendering="geometricPrecision" stroke="#000" stroke-width="0.12">2 Jan 16:00</text>
<rect x="573" y="927" width="1" height="3" fill="#000" shape-rendering="crispEdges"/>
<text x="572.50" y="939" font-size="10.2" fill="#000" textLength="47.98" lengthAdjust="spacingAndGlyphs" xml:space="preserve" text-rendering="geometricPrecision" stroke="#000" stroke-width="0.12">6 Jan 00:00</text>
<rect x="637" y="927" width="1" height="3" fill="#000" shape-rendering="crispEdges"/>
<text x="636.50" y="939" font-size="10.2" fill="#000" textLength="47.98" lengthAdjust="spacingAndGlyphs" xml:space="preserve" text-rendering="geometricPrecision" stroke="#000" stroke-width="0.12">7 Jan 08:00</text>
<rect x="701" y="927" width="1" height="3" fill="#000" shape-rendering="crispEdges"/>
<text x="700.50" y="939" font-size="10.2" fill="#000" textLength="47.98" lengthAdjust="spacingAndGlyphs" xml:space="preserve" text-rendering="geometricPrecision" stroke="#000" stroke-width="0.12">8 Jan 16:00</text>
<rect x="765" y="927" width="1" height="3" fill="#000" shape-rendering="crispEdges"/>
<text x="764.50" y="939" font-size="10.2" fill="#000" textLength="53.08" lengthAdjust="spacingAndGlyphs" xml:space="preserve" text-rendering="geometricPrecision" stroke="#000" stroke-width="0.12">10 Jan 00:00</text>
<rect x="829" y="927" width="1" height="3" fill="#000" shape-rendering="crispEdges"/>
<text x="828.50" y="939" font-size="10.2" fill="#000" textLength="53.08" lengthAdjust="spacingAndGlyphs" xml:space="preserve" text-rendering="geometricPrecision" stroke="#000" stroke-width="0.12">13 Jan 08:00</text>
<rect x="893" y="927" width="1" height="3" fill="#000" shape-rendering="crispEdges"/>
<text x="892.50" y="939" font-size="10.2" fill="#000" textLength="53.08" lengthAdjust="spacingAndGlyphs" xml:space="preserve" text-rendering="geometricPrecision" stroke="#000" stroke-width="0.12">14 Jan 16:00</text>
<rect x="957" y="927" width="1" height="3" fill="#000" shape-rendering="crispEdges"/>
<text x="956.50" y="939" font-size="10.2" fill="#000" textLength="53.08" lengthAdjust="spacingAndGlyphs" xml:space="preserve" text-rendering="geometricPrecision" stroke="#000" stroke-width="0.12">16 Jan 00:00</text>
<rect x="1021" y="927" width="1" height="3" fill="#000" shape-rendering="crispEdges"/>
<text x="1020.50" y="939" font-size="10.2" fill="#000" textLength="53.08" lengthAdjust="spacingAndGlyphs" xml:space="preserve" text-rendering="geometricPrecision" stroke="#000" stroke-width="0.12">17 Jan 08:00</text>
<rect x="1085" y="927" width="1" height="3" fill="#000" shape-rendering="crispEdges"/>
<text x="1084.50" y="939" font-size="10.2" fill="#000" textLength="53.08" lengthAdjust="spacingAndGlyphs" xml:space="preserve" text-rendering="geometricPrecision" stroke="#000" stroke-width="0.12">20 Jan 16:00</text>
<rect x="1149" y="927" width="1" height="3" fill="#000" shape-rendering="crispEdges"/>
<text x="1148.50" y="939" font-size="10.2" fill="#000" textLength="53.08" lengthAdjust="spacingAndGlyphs" xml:space="preserve" text-rendering="geometricPrecision" stroke="#000" stroke-width="0.12">22 Jan 00:00</text>
<rect x="1213" y="927" width="1" height="3" fill="#000" shape-rendering="crispEdges"/>
<text x="1212.50" y="939" font-size="10.2" fill="#000" textLength="53.08" lengthAdjust="spacingAndGlyphs" xml:space="preserve" text-rendering="geometricPrecision" stroke="#000" stroke-width="0.12">23 Jan 08:00</text>
<rect x="1277" y="927" width="1" height="3" fill="#000" shape-rendering="crispEdges"/>
<text x="1276.50" y="939" font-size="10.2" fill="#000" textLength="53.08" lengthAdjust="spacingAndGlyphs" xml:space="preserve" text-rendering="geometricPrecision" stroke="#000" stroke-width="0.12">24 Jan 16:00</text>
<text x="1.30" y="576" font-size="10.2" fill="#000" textLength="134.20" lengthAdjust="spacingAndGlyphs" xml:space="preserve" text-rendering="geometricPrecision" stroke="#000" stroke-width="0.12">MACD(12,26,9) -0.3712 -0.2226</text>
<text x="1.30" y="779" font-size="10.2" fill="#000" textLength="68.00" lengthAdjust="spacingAndGlyphs" xml:space="preserve" text-rendering="geometricPrecision" stroke="#000" stroke-width="0.12">RSI(14) 35.0999</text>
<g id="panel">
<defs>
<linearGradient id="gbtn" x1="0" y1="0" x2="0" y2="1"><stop offset="0" stop-color="#f65252"/><stop offset="1" stop-color="#d82828"/></linearGradient>
<linearGradient id="gprice" x1="0" y1="0" x2="0" y2="1"><stop offset="0" stop-color="#da3030"/><stop offset="0.55" stop-color="#c01414"/><stop offset="1" stop-color="#a60000"/></linearGradient>
<linearGradient id="gspin" x1="0" y1="0" x2="0" y2="1"><stop offset="0" stop-color="#f4f4f4"/><stop offset="1" stop-color="#dcdcdc"/></linearGradient>
</defs>
<path d="M0,37.5 L3.5,32.8 L7,37.5 Z" fill="#000"/>
<text x="12.3" y="38" font-size="10.2" text-rendering="geometricPrecision" fill="#000" stroke="#000" stroke-width="0.12" textLength="200" lengthAdjust="spacingAndGlyphs" xml:space="preserve">GBPJPY-,H4  142.115 142.219 142.109 142.173</text>
<g shape-rendering="crispEdges">
<rect x="0" y="44" width="220" height="68" fill="#fff"/>
<rect x="0" y="46" width="52" height="25" fill="url(#gbtn)"/>
<rect x="167" y="46" width="52" height="25" fill="url(#gbtn)"/>
<rect x="0" y="70" width="109" height="40" fill="url(#gprice)"/>
<rect x="111" y="70" width="108" height="40" fill="url(#gprice)"/>
<rect x="0" y="46" width="1" height="64" fill="#b80000"/>
<rect x="218" y="46" width="1" height="64" fill="#b80000"/>
<rect x="0" y="46" width="52" height="1" fill="#c81818"/><rect x="167" y="46" width="52" height="1" fill="#c81818"/>
<rect x="4" y="69" width="44" height="1" fill="#f08080"/>
<rect x="171" y="69" width="44" height="1" fill="#f08080"/>
<rect x="54" y="46" width="110" height="21" fill="#fff" stroke="#a8a8a8" stroke-width="1" transform="translate(0.5,0.5)"/>
<rect x="55" y="47" width="20" height="20" fill="url(#gspin)"/>
<rect x="144" y="47" width="20" height="20" fill="url(#gspin)"/>
<rect x="75" y="47" width="1" height="20" fill="#b0b0b0"/><rect x="143" y="47" width="1" height="20" fill="#b0b0b0"/>
</g>
<path d="M62,55 h5.4 l-2.7,2.8 z" fill="#000"/>
<path d="M151,58 h5.4 l-2.7,-2.8 z" fill="#000"/>
<text x="140" y="61" font-size="12" fill="#202020" text-anchor="end">1.00</text>
<g fill="#fff">
<text x="12.1" y="62" font-size="12.2" textLength="26" lengthAdjust="spacingAndGlyphs">SELL</text>
<text x="180.4" y="62" font-size="12.2" textLength="23.4" lengthAdjust="spacingAndGlyphs">BUY</text>
<text x="23.8" y="101" font-size="12" font-weight="bold">142</text>
<text x="47.6" y="101.4" font-size="34" textLength="36" lengthAdjust="spacingAndGlyphs">17</text>
<text x="87.6" y="84.5" font-size="11.5" font-weight="bold">3</text>
<text x="134" y="101" font-size="12" font-weight="bold">142</text>
<text x="158" y="101.4" font-size="34" textLength="35.6" lengthAdjust="spacingAndGlyphs">23</text>
<text x="198.6" y="84.5" font-size="11.5" font-weight="bold">1</text>
</g>
</g>

<g id="toolbar">
<defs>
<pattern id="hatch" width="2" height="2" patternUnits="userSpaceOnUse"><rect width="2" height="2" fill="#f0f0f0"/><rect width="1" height="1" fill="#fff"/><rect x="1" y="1" width="1" height="1" fill="#fff"/></pattern>
<linearGradient id="gplus" x1="0" y1="0" x2="0" y2="1"><stop offset="0" stop-color="#7df07d"/><stop offset="0.5" stop-color="#18d018"/><stop offset="1" stop-color="#00a000"/></linearGradient>
<linearGradient id="ggold" x1="0" y1="0" x2="1" y2="1"><stop offset="0" stop-color="#f7dc6a"/><stop offset="0.5" stop-color="#e0a818"/><stop offset="1" stop-color="#b87a10"/></linearGradient>
<linearGradient id="gcloud" x1="0" y1="0" x2="0" y2="1"><stop offset="0" stop-color="#ffffff"/><stop offset="1" stop-color="#b8c6e0"/></linearGradient>
<linearGradient id="ghat" x1="0" y1="0" x2="0" y2="1"><stop offset="0" stop-color="#7cc4ee"/><stop offset="1" stop-color="#2a86c0"/></linearGradient>
<linearGradient id="gface" x1="0" y1="0" x2="1" y2="1"><stop offset="0" stop-color="#fff4a0"/><stop offset="1" stop-color="#e8b820"/></linearGradient>
<radialGradient id="gclock" cx="0.5" cy="0.4" r="0.6"><stop offset="0" stop-color="#ffffff"/><stop offset="1" stop-color="#dce8f8"/></radialGradient>
<linearGradient id="gbub" x1="0" y1="0" x2="0" y2="1"><stop offset="0" stop-color="#ffffff"/><stop offset="1" stop-color="#d4d6e0"/></linearGradient>
</defs>
<rect x="0" y="0" width="1672" height="22" fill="#f0f0f0"/>
<rect x="0" y="21" width="1672" height="1" fill="#f7f7f7"/>
<rect x="0" y="22" width="1672" height="1" fill="#a8a8a8"/>
<rect x="0" y="23" width="1672" height="1" fill="#696969"/>
<rect x="0" y="24" width="1672" height="2" fill="#fff"/>
<rect x="1671" y="24" width="1" height="922" fill="#e3e3e3"/>

<!-- selected button backgrounds -->
<g shape-rendering="crispEdges">
<rect x="261" y="0" width="25" height="20" fill="url(#hatch)"/>
<rect x="413" y="0" width="25" height="20" fill="url(#hatch)"/>
<rect x="441" y="0" width="25" height="20" fill="url(#hatch)"/>
<rect x="601" y="0" width="25" height="20" fill="url(#hatch)"/>
<rect x="1047" y="0" width="25" height="20" fill="url(#hatch)"/>
<rect x="261" y="20" width="25" height="1" fill="#fff"/><rect x="285" y="0" width="1" height="21" fill="#fff"/>
<rect x="413" y="20" width="25" height="1" fill="#fff"/><rect x="437" y="0" width="1" height="21" fill="#fff"/>
<rect x="441" y="20" width="25" height="1" fill="#fff"/><rect x="465" y="0" width="1" height="21" fill="#fff"/>
<rect x="601" y="20" width="25" height="1" fill="#fff"/><rect x="625" y="0" width="1" height="21" fill="#fff"/>
<rect x="1047" y="20" width="25" height="1" fill="#fff"/><rect x="1071" y="0" width="1" height="21" fill="#fff"/>
<!-- separators -->
<g fill="#a0a0a0">
<rect x="222" y="0" width="1" height="22"/><rect x="260" y="0" width="1" height="20"/><rect x="317" y="1" width="1" height="19"/>
<rect x="407" y="1" width="1" height="19"/><rect x="412" y="0" width="1" height="20"/><rect x="440" y="0" width="1" height="20"/><rect x="469" y="1" width="1" height="19"/>
<rect x="590" y="0" width="1" height="22"/><rect x="600" y="0" width="1" height="20"/><rect x="657" y="1" width="1" height="19"/>
<rect x="896" y="0" width="1" height="22"/><rect x="1046" y="0" width="1" height="20"/><rect x="1157" y="0" width="1" height="22"/>
</g>
<g fill="#fff"><rect x="223" y="0" width="1" height="22"/><rect x="591" y="0" width="1" height="22"/><rect x="897" y="0" width="1" height="22"/></g>
<!-- grips -->
<g fill="#a8a8a8">
<rect x="226" y="0" width="3" height="1"/>
<rect x="226" y="2" width="3" height="1"/>
<rect x="226" y="4" width="3" height="1"/>
<rect x="226" y="6" width="3" height="1"/>
<rect x="226" y="8" width="3" height="1"/>
<rect x="226" y="10" width="3" height="1"/>
<rect x="226" y="12" width="3" height="1"/>
<rect x="226" y="14" width="3" height="1"/>
<rect x="226" y="16" width="3" height="1"/>
<rect x="226" y="18" width="3" height="1"/>
<rect x="594" y="0" width="3" height="1"/>
<rect x="594" y="2" width="3" height="1"/>
<rect x="594" y="4" width="3" height="1"/>
<rect x="594" y="6" width="3" height="1"/>
<rect x="594" y="8" width="3" height="1"/>
<rect x="594" y="10" width="3" height="1"/>
<rect x="594" y="12" width="3" height="1"/>
<rect x="594" y="14" width="3" height="1"/>
<rect x="594" y="16" width="3" height="1"/>
<rect x="594" y="18" width="3" height="1"/>
<rect x="900" y="0" width="3" height="1"/>
<rect x="900" y="2" width="3" height="1"/>
<rect x="900" y="4" width="3" height="1"/>
<rect x="900" y="6" width="3" height="1"/>
<rect x="900" y="8" width="3" height="1"/>
<rect x="900" y="10" width="3" height="1"/>
<rect x="900" y="12" width="3" height="1"/>
<rect x="900" y="14" width="3" height="1"/>
<rect x="900" y="16" width="3" height="1"/>
<rect x="900" y="18" width="3" height="1"/>
</g>
</g>
<!-- icon: new order (doc + plus) -->
<path d="M-3,2.5 h8 l3,3 v11 h-11 z" fill="#fff" stroke="#9a9a9a" stroke-width="1"/>
<path d="M5,2.5 v3 h3" fill="#e8e8e8" stroke="#9a9a9a" stroke-width="0.8"/>
<rect x="-1" y="5" width="4" height="1" fill="#b0b0b0"/><rect x="-1" y="8" width="5" height="1" fill="#b0b0b0"/><rect x="-1" y="10" width="3" height="1" fill="#c0c0c0"/>
<path d="M4.5,8.7 h3.5 v3.8 h4 v3.5 h-4 v3.8 h-3.5 v-3.8 h-4.5 v-3.5 h4.5 z" fill="url(#gplus)" stroke="#008a00" stroke-width="1"/>
<text x="14.8" y="13.2" font-size="12" fill="#000" stroke="#000" stroke-width="0.25" textLength="36" lengthAdjust="spacing">新订单</text>
<!-- icon: gold book -->
<path d="M69.5,3.5 L78.5,9 L77.5,13 L70,17.5 L63.5,12 Z" fill="url(#ggold)" stroke="#a8720c" stroke-width="1" stroke-linejoin="round"/>
<path d="M64.5,12 L70.5,16 L77.5,12" fill="none" stroke="#fbe9a0" stroke-width="0.9"/>
<path d="M69.5,4 L67,11.5" fill="none" stroke="#f9e28a" stroke-width="0.8"/>
<!-- icon: server + cloud -->
<path d="M93.5,3.5 L97,2.3 L103.5,3.5 L104,11 L93.5,11 Z" fill="#2aa2f2" stroke="#1a8ae0" stroke-width="0.8"/>
<path d="M93.5,3.5 L96.5,5 L96.5,11" fill="none" stroke="#d8f0ff" stroke-width="0.9"/>
<rect x="98" y="6" width="5" height="2.4" fill="#cfeaff"/><rect x="99" y="6.8" width="3.5" height="0.9" fill="#2a92e0"/>
<path d="M93.5,17.5 a3,3 0 0 1 -0.4,-5.8 a3.2,3.2 0 0 1 5.3,-1.2 a3.4,3.4 0 0 1 5.6,1.6 a2.8,2.8 0 0 1 0.2,5.4 z" fill="url(#gcloud)" stroke="#4a68a8" stroke-width="1"/>
<!-- icon: radar -->
<g fill="none">
<circle cx="127" cy="9.8" r="7.3" stroke="#6a8ee0" stroke-width="1" opacity="0.75"/>
<circle cx="127" cy="9.8" r="5" stroke="#6a8ee0" stroke-width="0.9" opacity="0.7"/>
<circle cx="127" cy="9.8" r="2.9" stroke="#6a8ee0" stroke-width="0.9" opacity="0.7"/>
</g>
<path d="M127,9.8 L127,17.6 A7.8,7.8 0 0 0 133.6,5.6 Z" fill="#4caf50" opacity="0.45"/>
<rect x="126.5" y="9.8" width="1.2" height="8" fill="#18a018"/>
<circle cx="126.6" cy="9.4" r="1.8" fill="#1c50c8"/>
<!-- icon: auto trading -->
<path d="M146.5,9 L161.5,8.5 L161.5,12 L154,17.6 L152,17.3 Z" fill="url(#gface)" stroke="#c89a10" stroke-width="0.8" stroke-linejoin="round"/>
<path d="M146.3,6.6 C147,4.5 150,4.6 150.8,3.2 C152,1.6 156.6,1.6 157.6,3.4 C159,4.4 162,4.4 162,6 C161,8.8 148,9.6 146.3,6.6 Z" fill="url(#ghat)" stroke="#2278ae" stroke-width="0.8"/>
<circle cx="158.5" cy="13.6" r="4.2" fill="#e01a08"/>
<circle cx="158.5" cy="13.6" r="4.2" fill="none" stroke="#b01000" stroke-width="0.6"/>
<rect x="156.6" y="11.8" width="3.8" height="3.6" fill="#fff"/>
<text x="167.4" y="13.2" font-size="12" fill="#000" stroke="#000" stroke-width="0.25" textLength="47" lengthAdjust="spacing">自动交易</text>
<!-- chart-type icons: axes helper -->
<g><path d="M240.4,17.8 V5.5 M238.0,15.5 H250.4" fill="none" stroke="#505050" stroke-width="1.1"/><path d="M238.4,6.8 L240.4,4 L242.4,6.8 Z M249.4,13.5 L252.0,15.5 L249.4,17.5 Z" fill="#505050"/><path d="M268.4,17.8 V5.5 M266.0,15.5 H278.4" fill="none" stroke="#505050" stroke-width="1.1"/><path d="M266.4,6.8 L268.4,4 L270.4,6.8 Z M277.4,13.5 L280.0,15.5 L277.4,17.5 Z" fill="#505050"/><path d="M296.4,17.8 V5.5 M294.0,15.5 H306.4" fill="none" stroke="#505050" stroke-width="1.1"/><path d="M294.4,6.8 L296.4,4 L298.4,6.8 Z M305.4,13.5 L308.0,15.5 L305.4,17.5 Z" fill="#505050"/><path d="M420.5,17.8 V5.5 M418.1,15.5 H430.5" fill="none" stroke="#505050" stroke-width="1.1"/><path d="M418.5,6.8 L420.5,4 L422.5,6.8 Z M429.5,13.5 L432.1,15.5 L429.5,17.5 Z" fill="#505050"/><path d="M448.5,17.8 V5.5 M446.1,15.5 H458.5" fill="none" stroke="#505050" stroke-width="1.1"/><path d="M446.5,6.8 L448.5,4 L450.5,6.8 Z M457.5,13.5 L460.1,15.5 L457.5,17.5 Z" fill="#505050"/></g>
<path d="M246.5,5 V13.8 M246.5,6.4 H248.9 M244,12.3 H246.5" fill="none" stroke="#008a00" stroke-width="1.1"/>
<rect x="274" y="2" width="1" height="12" fill="#008a00"/>
<rect x="272.5" y="4.5" width="4" height="7" fill="#5fe45f" stroke="#008a00" stroke-width="1"/>
<path d="M295.3,12.6 C298,10.5 299.5,7.2 301.2,7.3 C303,7.4 304.5,10.4 306.6,10.8" fill="none" stroke="#1a9a1a" stroke-width="1.1"/>
<!-- zoom in / out -->
<g>
<path d="M335.8,12 L340.8,16.8" stroke="#b88a10" stroke-width="3.4" stroke-linecap="butt"/>
<path d="M336,11.6 L341.2,16.6" stroke="#f0d24a" stroke-width="1.6"/>
<circle cx="332.1" cy="8" r="5.6" fill="#dff3ff" stroke="#2f7fc8" stroke-width="1.1"/>
<path d="M328.8,8 H335.4 M332.1,4.8 V11.2" stroke="#3d8fc2" stroke-width="1.6"/>
<path d="M363.8,12 L368.8,16.8" stroke="#b88a10" stroke-width="3.4"/>
<path d="M364,11.6 L369.2,16.6" stroke="#f0d24a" stroke-width="1.6"/>
<circle cx="360" cy="8" r="5.6" fill="#dff3ff" stroke="#2f7fc8" stroke-width="1.1"/>
<path d="M356.8,8 H363.2" stroke="#3d8fc2" stroke-width="1.6"/>
</g>
<!-- tiles -->
<g shape-rendering="crispEdges">
<rect x="382" y="2" width="8" height="8" fill="#2fa010"/><rect x="390" y="2" width="8" height="8" fill="#1e50d0"/>
<rect x="382" y="10" width="8" height="8" fill="#1e50d0"/><rect x="390" y="10" width="8" height="8" fill="#2fa010"/>
<g fill="#fff"><rect x="383" y="5" width="6" height="4"/><rect x="391" y="5" width="6" height="4"/><rect x="383" y="13" width="6" height="4"/><rect x="391" y="13" width="6" height="4"/></g>
<rect x="384" y="6" width="4" height="1" fill="#a8dc98"/><rect x="392" y="6" width="4" height="1" fill="#98b0f0"/><rect x="384" y="14" width="4" height="1" fill="#98b0f0"/><rect x="392" y="14" width="4" height="1" fill="#a8dc98"/>
</g>
<!-- autoscroll / shift -->
<path d="M425.3,6.2 L429,9.5 L425.3,12.8 Z" fill="#6ee46e" stroke="#0a9a0a" stroke-width="1"/>
<rect x="454" y="4" width="1.2" height="10" fill="#1070a0"/>
<path d="M455.6,9.4 L458.4,7 L458,9 H460 V9.9 H458 L458.4,11.8 Z" fill="#e04808"/>
<!-- new chart -->
<path d="M479.5,2.5 h7 l3.5,3.5 v9.5 h-10.5 z" fill="#fff" stroke="#909090" stroke-width="1"/>
<path d="M486.5,2.5 v3.5 h3.5" fill="#e8e8e8" stroke="#909090" stroke-width="0.8"/>
<path d="M482.2,5.5 V12 M481.2,7 H483.4 M481.2,10 H483.4" stroke="#706850" stroke-width="0.9" fill="none"/>
<path d="M487.5,8.5 h3.6 v3.6 h4 v3.6 h-4 v3.8 h-3.6 v-3.8 h-4 v-3.6 h4 z" fill="url(#gplus)" stroke="#008a00" stroke-width="1"/>
<path d="M501,9.2 h5.4 l-2.7,2.8 z" fill="#000"/>
<!-- clock -->
<circle cx="525.1" cy="9.8" r="7.1" fill="url(#gclock)" stroke="#0f6fd6" stroke-width="2"/>
<circle cx="525.1" cy="9.8" r="7.9" fill="none" stroke="#0a4ea8" stroke-width="0.5"/>
<path d="M524.6,6.2 V10 H527.4" stroke="#303030" stroke-width="1.1" fill="none"/>
<path d="M540,9.2 h5.4 l-2.7,2.8 z" fill="#000"/>
<!-- template -->
<rect x="556.5" y="3.5" width="15" height="13" fill="#fff" stroke="#2f6fc0" stroke-width="1"/>
<rect x="557" y="4" width="14" height="2" fill="#5a9ae0"/>
<rect x="557" y="10.5" width="14" height="1" fill="#5a8ad0"/>
<path d="M558.5,9.4 H560 L561.5,8 H563.5 L564.5,8.8 H566.5 L568,7.6 H569.5" stroke="#b02010" stroke-width="1" fill="none"/>
<path d="M559,14.4 H560.5 L562,13.2 L563.5,14.4 H564.5 L566.5,12.4 L568.5,14.6 H569.5" stroke="#109010" stroke-width="1" fill="none"/>
<path d="M579,9.2 h5.4 l-2.7,2.8 z" fill="#000"/>
<!-- cursor -->
<path d="M608.2,2.9 L608.2,14.1 L611.1,11.9 L613.3,17.1 L614.8,16.3 L612.7,10.9 L616.2,10.6 Z" fill="#4a4a4a"/>
<!-- crosshair -->
<path d="M633,10.5 H639 M642,10.5 H648 M640.5,3 V9 M640.5,12 V18" stroke="#404040" stroke-width="1" fill="none" shape-rendering="crispEdges"/>
<rect x="674" y="4" width="1" height="13" fill="#404040"/>
<rect x="697" y="10" width="12" height="1" fill="#404040"/>
<path d="M724.6,16.7 L737,4.8" stroke="#505050" stroke-width="1.1"/>
<!-- channel E -->
<g stroke="#505050" stroke-width="0.9" fill="none">
<path d="M751,11.5 L759,3.8 M756,16.5 L765,8"/>
<path d="M752.5,15.5 L754,9.5 M755,14.5 L756.8,8 M758,13 L760,6 M761.5,10.5 L762.8,2.5"/>
<path d="M752,13.5 L756,12 M755,11.5 L759,10 M758.5,9 L762.5,7.5 M761.5,6 L764.5,5"/>
</g>
<text x="761.7" y="19" font-size="7" font-weight="bold" fill="#404040">E</text>
<!-- fib F -->
<g fill="#505050" shape-rendering="crispEdges">
<rect x="780" y="3" width="1" height="1"/>
<rect x="782" y="3" width="1" height="1"/>
<rect x="784" y="3" width="1" height="1"/>
<rect x="786" y="3" width="1" height="1"/>
<rect x="788" y="3" width="1" height="1"/>
<rect x="790" y="3" width="1" height="1"/>
<rect x="792" y="3" width="1" height="1"/>
<rect x="780" y="6" width="1" height="1"/>
<rect x="782" y="6" width="1" height="1"/>
<rect x="784" y="6" width="1" height="1"/>
<rect x="786" y="6" width="1" height="1"/>
<rect x="788" y="6" width="1" height="1"/>
<rect x="790" y="6" width="1" height="1"/>
<rect x="792" y="6" width="1" height="1"/>
<rect x="780" y="10" width="1" height="1"/>
<rect x="782" y="10" width="1" height="1"/>
<rect x="784" y="10" width="1" height="1"/>
<rect x="786" y="10" width="1" height="1"/>
<rect x="788" y="10" width="1" height="1"/>
<rect x="790" y="10" width="1" height="1"/>
<rect x="792" y="10" width="1" height="1"/>
<rect x="780" y="14" width="1" height="1"/>
<rect x="782" y="14" width="1" height="1"/>
<rect x="784" y="14" width="1" height="1"/>
<rect x="786" y="14" width="1" height="1"/>
<rect x="788" y="14" width="1" height="1"/>
</g>
<text x="789.5" y="19" font-size="7" font-weight="bold" fill="#404040">F</text>
<text x="810.3" y="15" font-size="12.5" font-weight="bold" fill="#555">A</text>
<!-- T label -->
<g fill="#505050" shape-rendering="crispEdges">
<rect x="837" y="4" width="1" height="1"/>
<rect x="837" y="16" width="1" height="1"/>
<rect x="839" y="4" width="1" height="1"/>
<rect x="839" y="16" width="1" height="1"/>
<rect x="841" y="4" width="1" height="1"/>
<rect x="841" y="16" width="1" height="1"/>
<rect x="843" y="4" width="1" height="1"/>
<rect x="843" y="16" width="1" height="1"/>
<rect x="845" y="4" width="1" height="1"/>
<rect x="845" y="16" width="1" height="1"/>
<rect x="847" y="4" width="1" height="1"/>
<rect x="847" y="16" width="1" height="1"/>
<rect x="837" y="6" width="1" height="1"/>
<rect x="848" y="6" width="1" height="1"/>
<rect x="837" y="8" width="1" height="1"/>
<rect x="848" y="8" width="1" height="1"/>
<rect x="837" y="10" width="1" height="1"/>
<rect x="848" y="10" width="1" height="1"/>
<rect x="837" y="12" width="1" height="1"/>
<rect x="848" y="12" width="1" height="1"/>
<rect x="837" y="14" width="1" height="1"/>
<rect x="848" y="14" width="1" height="1"/>
<rect x="848" y="4" width="1" height="1"/><rect x="848" y="16" width="1" height="1"/>
<rect x="836" y="3" width="2" height="1"/>
<rect x="839" y="7" width="8" height="1"/><rect x="842" y="7" width="2" height="8"/>
</g>
<!-- arrows icon -->
<path d="M864,7.6 L867.5,4 L871,7.6 Z" fill="#505050"/>
<path d="M871,13 L874.5,16.8 L878,13 Z" fill="#505050"/>
<path d="M866.3,11.5 L868.5,13.5 L872.8,8.4" fill="none" stroke="#505050" stroke-width="1.1"/>
<path d="M884.8,9.2 h5.4 l-2.7,2.8 z" fill="#000"/>
<!-- timeframes -->
<g font-size="10.2" text-rendering="geometricPrecision" fill="#3a3a3a" stroke="#3a3a3a" stroke-width="0.1">
<text x="911" y="13.5">M1</text><text x="939.5" y="13.5">M5</text><text x="965" y="13.5">M15</text><text x="993.3" y="13.5">M30</text>
<text x="1024" y="13.5">H1</text><text x="1051.5" y="13.5">H4</text><text x="1080" y="13.5">D1</text><text x="1107.8" y="13.5">W1</text><text x="1134" y="13.5">MN</text>
</g>
<!-- search -->
<path d="M1624.6,10.6 L1620.6,14.6" stroke="#1848c8" stroke-width="2.6" stroke-linecap="round"/>
<circle cx="1627.6" cy="7.5" r="4" fill="#f6f8ff" stroke="#2050d8" stroke-width="1.4"/>
<!-- chat -->
<path d="M1662.5,11.8 L1663.4,13.6 L1664.6,11.4" fill="#888" stroke="#808080" stroke-width="0.6"/>
<ellipse cx="1660.4" cy="7" rx="6.3" ry="4.8" fill="url(#gbub)" stroke="#9a9a9a" stroke-width="0.9"/>
<path d="M1649.4,14.4 L1648.8,16.6 L1651.2,14.8" fill="#888" stroke="#808080" stroke-width="0.6"/>
<ellipse cx="1651.3" cy="11.2" rx="5" ry="3.9" fill="url(#gbub)" stroke="#8a8a8a" stroke-width="0.9"/>
</g>

</svg>
</body>
</html>
